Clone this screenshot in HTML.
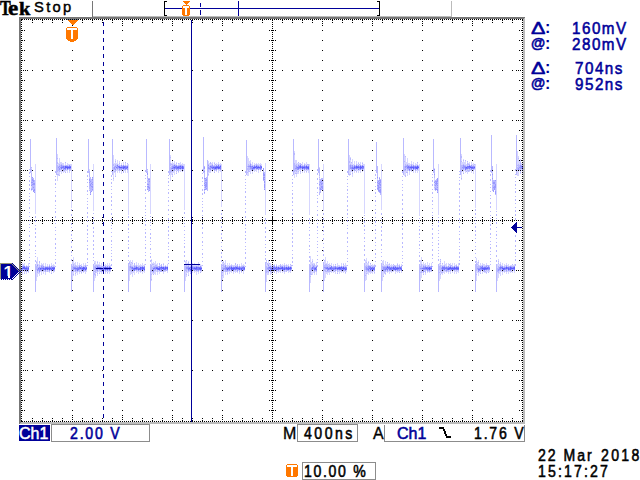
<!DOCTYPE html>
<html><head><meta charset="utf-8"><title>Tek</title>
<style>
html,body{margin:0;padding:0;background:#fff;}
body{width:640px;height:480px;overflow:hidden;position:relative;}
.t{position:absolute;white-space:pre;line-height:1;font-family:"Liberation Sans",sans-serif;transform-origin:0 0;}
svg{position:absolute;left:0;top:0;}
</style></head><body>
<svg width="640" height="480" viewBox="0 0 640 480" shape-rendering="crispEdges">
<!-- frame -->
<rect x="19" y="17" width="506" height="2" fill="#777777"/>
<rect x="19" y="17" width="2" height="407" fill="#777777"/>
<rect x="523" y="19" width="2" height="405" fill="#bbbbbb"/>
<rect x="21" y="422" width="504" height="2" fill="#bbbbbb"/>
<rect x="524" y="18" width="1" height="1" fill="#bbbbbb"/>
<rect x="20" y="423" width="1" height="1" fill="#bbbbbb"/>
<!-- trace -->
<path fill="rgb(214, 214, 255)" d="M294 151h1v1h-1zM517 151h1v1h-1zM294 152h1v1h-1zM517 152h1v1h-1zM517 153h1v1h-1zM57 154h1v1h-1zM404 154h1v1h-1zM461 154h1v1h-1zM517 154h1v1h-1zM57 155h1v1h-1zM113 155h1v1h-1zM170 155h1v1h-1zM294 155h1v1h-1zM349 155h1v1h-1zM404 155h1v1h-1zM461 155h1v1h-1zM517 155h1v1h-1zM57 156h1v1h-1zM113 156h1v1h-1zM170 156h1v1h-1zM247 156h1v1h-1zM294 156h1v1h-1zM349 156h1v1h-1zM404 156h1v1h-1zM517 156h2v1h-2zM57 157h1v1h-1zM113 157h1v1h-1zM247 157h1v1h-1zM294 157h1v1h-1zM349 157h2v1h-2zM404 157h2v1h-2zM517 157h2v1h-2zM59 158h1v1h-1zM113 158h1v1h-1zM170 158h1v1h-1zM247 158h2v1h-2zM294 158h1v1h-1zM349 158h1v1h-1zM404 158h2v1h-2zM407 158h1v1h-1zM461 158h1v1h-1zM517 158h1v1h-1zM57 159h1v1h-1zM59 159h1v1h-1zM113 159h1v1h-1zM115 159h1v1h-1zM170 159h1v1h-1zM247 159h2v1h-2zM294 159h1v1h-1zM349 159h1v1h-1zM352 159h1v1h-1zM404 159h2v1h-2zM407 159h1v1h-1zM461 159h1v1h-1zM463 159h1v1h-1zM517 159h2v1h-2zM520 159h1v1h-1zM57 160h1v1h-1zM59 160h1v1h-1zM113 160h1v1h-1zM115 160h1v1h-1zM117 160h1v1h-1zM170 160h1v1h-1zM247 160h2v1h-2zM250 160h1v1h-1zM294 160h3v1h-3zM349 160h2v1h-2zM352 160h1v1h-1zM404 160h2v1h-2zM407 160h1v1h-1zM461 160h1v1h-1zM517 160h2v1h-2zM520 160h1v1h-1zM57 161h1v1h-1zM59 161h1v1h-1zM113 161h1v1h-1zM117 161h1v1h-1zM119 161h1v1h-1zM170 161h1v1h-1zM172 161h1v1h-1zM174 161h1v1h-1zM208 161h1v1h-1zM247 161h4v1h-4zM294 161h3v1h-3zM350 161h1v1h-1zM352 161h1v1h-1zM354 161h1v1h-1zM356 161h1v1h-1zM405 161h1v1h-1zM407 161h1v1h-1zM411 161h1v1h-1zM463 161h1v1h-1zM465 161h1v1h-1zM517 161h4v1h-4zM59 162h3v1h-3zM113 162h1v1h-1zM115 162h1v1h-1zM117 162h1v1h-1zM119 162h1v1h-1zM123 162h1v1h-1zM170 162h1v1h-1zM172 162h1v1h-1zM174 162h1v1h-1zM176 162h1v1h-1zM180 162h1v1h-1zM208 162h1v1h-1zM212 162h1v1h-1zM214 162h1v1h-1zM218 162h1v1h-1zM247 162h4v1h-4zM252 162h1v1h-1zM294 162h3v1h-3zM302 162h1v1h-1zM306 162h1v1h-1zM350 162h1v1h-1zM352 162h1v1h-1zM354 162h1v1h-1zM356 162h1v1h-1zM358 162h1v1h-1zM360 162h1v1h-1zM362 162h1v1h-1zM404 162h4v1h-4zM411 162h1v1h-1zM413 162h1v1h-1zM461 162h5v1h-5zM467 162h1v1h-1zM469 162h1v1h-1zM471 162h1v1h-1zM517 162h3v1h-3zM522 162h1v1h-1zM58 163h6v1h-6zM65 163h1v1h-1zM67 163h1v1h-1zM113 163h5v1h-5zM121 163h1v1h-1zM123 163h1v1h-1zM125 163h1v1h-1zM171 163h4v1h-4zM179 163h2v1h-2zM182 163h1v1h-1zM208 163h2v1h-2zM211 163h2v1h-2zM216 163h1v1h-1zM218 163h1v1h-1zM220 163h1v1h-1zM247 163h3v1h-3zM252 163h1v1h-1zM254 163h1v1h-1zM256 163h1v1h-1zM258 163h1v1h-1zM260 163h1v1h-1zM265 163h1v1h-1zM295 163h5v1h-5zM302 163h1v1h-1zM304 163h1v1h-1zM306 163h1v1h-1zM349 163h4v1h-4zM354 163h1v1h-1zM356 163h1v1h-1zM360 163h1v1h-1zM404 163h6v1h-6zM411 163h1v1h-1zM413 163h1v1h-1zM415 163h1v1h-1zM417 163h1v1h-1zM461 163h5v1h-5zM468 163h2v1h-2zM471 163h1v1h-1zM473 163h1v1h-1zM517 163h3v1h-3zM521 163h2v1h-2zM35 164h1v1h-1zM57 164h2v1h-2zM60 164h1v1h-1zM62 164h2v1h-2zM65 164h1v1h-1zM67 164h5v1h-5zM93 164h1v1h-1zM114 164h1v1h-1zM116 164h1v1h-1zM118 164h2v1h-2zM121 164h1v1h-1zM123 164h1v1h-1zM125 164h1v1h-1zM127 164h2v1h-2zM150 164h1v1h-1zM173 164h1v1h-1zM175 164h2v1h-2zM178 164h7v1h-7zM209 164h3v1h-3zM214 164h1v1h-1zM216 164h2v1h-2zM219 164h3v1h-3zM247 164h1v1h-1zM249 164h1v1h-1zM251 164h2v1h-2zM254 164h2v1h-2zM257 164h5v1h-5zM265 164h1v1h-1zM295 164h1v1h-1zM297 164h1v1h-1zM299 164h1v1h-1zM302 164h1v1h-1zM305 164h2v1h-2zM309 164h1v1h-1zM323 164h1v1h-1zM349 164h1v1h-1zM351 164h4v1h-4zM357 164h2v1h-2zM360 164h1v1h-1zM362 164h3v1h-3zM381 164h1v1h-1zM404 164h1v1h-1zM406 164h1v1h-1zM408 164h3v1h-3zM412 164h2v1h-2zM415 164h3v1h-3zM419 164h1v1h-1zM438 164h1v1h-1zM461 164h2v1h-2zM464 164h3v1h-3zM471 164h3v1h-3zM475 164h1v1h-1zM496 164h1v1h-1zM517 164h1v1h-1zM519 164h1v1h-1zM521 164h2v1h-2zM35 165h1v1h-1zM58 165h1v1h-1zM64 165h1v1h-1zM68 165h1v1h-1zM70 165h2v1h-2zM93 165h1v1h-1zM114 165h1v1h-1zM118 165h1v1h-1zM120 165h1v1h-1zM122 165h1v1h-1zM124 165h1v1h-1zM126 165h1v1h-1zM128 165h1v1h-1zM150 165h1v1h-1zM171 165h1v1h-1zM177 165h1v1h-1zM183 165h2v1h-2zM209 165h1v1h-1zM213 165h1v1h-1zM215 165h1v1h-1zM217 165h1v1h-1zM219 165h1v1h-1zM221 165h1v1h-1zM247 165h1v1h-1zM251 165h1v1h-1zM253 165h1v1h-1zM255 165h1v1h-1zM259 165h1v1h-1zM261 165h1v1h-1zM265 165h1v1h-1zM297 165h1v1h-1zM301 165h1v1h-1zM303 165h1v1h-1zM305 165h1v1h-1zM307 165h1v1h-1zM309 165h1v1h-1zM323 165h1v1h-1zM353 165h1v1h-1zM355 165h1v1h-1zM357 165h1v1h-1zM359 165h1v1h-1zM361 165h1v1h-1zM363 165h2v1h-2zM381 165h1v1h-1zM404 165h1v1h-1zM410 165h1v1h-1zM412 165h1v1h-1zM414 165h1v1h-1zM416 165h1v1h-1zM418 165h2v1h-2zM438 165h1v1h-1zM466 165h1v1h-1zM468 165h1v1h-1zM470 165h1v1h-1zM472 165h1v1h-1zM474 165h2v1h-2zM496 165h1v1h-1zM35 166h1v1h-1zM71 166h1v1h-1zM93 166h1v1h-1zM113 166h1v1h-1zM128 166h1v1h-1zM150 166h1v1h-1zM170 166h1v1h-1zM184 166h1v1h-1zM221 166h1v1h-1zM265 166h1v1h-1zM309 166h1v1h-1zM323 166h1v1h-1zM364 166h1v1h-1zM381 166h1v1h-1zM419 166h1v1h-1zM438 166h1v1h-1zM475 166h1v1h-1zM496 166h1v1h-1zM517 166h1v1h-1zM35 167h1v1h-1zM71 167h1v1h-1zM93 167h1v1h-1zM128 167h1v1h-1zM150 167h1v1h-1zM184 167h1v1h-1zM221 167h1v1h-1zM247 167h1v1h-1zM265 167h1v1h-1zM309 167h1v1h-1zM319 167h1v1h-1zM323 167h1v1h-1zM364 167h1v1h-1zM381 167h1v1h-1zM419 167h1v1h-1zM438 167h1v1h-1zM475 167h1v1h-1zM496 167h1v1h-1zM31 168h1v1h-1zM35 168h1v1h-1zM71 168h1v1h-1zM93 168h1v1h-1zM128 168h1v1h-1zM150 168h1v1h-1zM184 168h1v1h-1zM221 168h1v1h-1zM265 168h1v1h-1zM309 168h1v1h-1zM323 168h1v1h-1zM364 168h1v1h-1zM381 168h1v1h-1zM419 168h1v1h-1zM434 168h1v1h-1zM438 168h1v1h-1zM475 168h1v1h-1zM496 168h1v1h-1zM35 169h1v1h-1zM62 169h1v1h-1zM66 169h1v1h-1zM68 169h1v1h-1zM71 169h1v1h-1zM89 169h1v1h-1zM93 169h1v1h-1zM116 169h1v1h-1zM118 169h1v1h-1zM122 169h1v1h-1zM126 169h1v1h-1zM128 169h1v1h-1zM150 169h1v1h-1zM175 169h1v1h-1zM179 169h1v1h-1zM181 169h1v1h-1zM183 169h2v1h-2zM204 169h1v1h-1zM211 169h1v1h-1zM217 169h1v1h-1zM219 169h1v1h-1zM221 169h1v1h-1zM255 169h1v1h-1zM257 169h1v1h-1zM259 169h1v1h-1zM265 169h1v1h-1zM299 169h1v1h-1zM301 169h1v1h-1zM303 169h1v1h-1zM305 169h1v1h-1zM309 169h1v1h-1zM323 169h1v1h-1zM350 169h1v1h-1zM355 169h1v1h-1zM357 169h1v1h-1zM361 169h1v1h-1zM363 169h2v1h-2zM381 169h1v1h-1zM406 169h1v1h-1zM412 169h1v1h-1zM414 169h1v1h-1zM416 169h1v1h-1zM418 169h2v1h-2zM438 169h1v1h-1zM464 169h1v1h-1zM468 169h1v1h-1zM472 169h1v1h-1zM474 169h2v1h-2zM496 169h1v1h-1zM521 169h1v1h-1zM31 170h1v1h-1zM35 170h1v1h-1zM60 170h3v1h-3zM65 170h3v1h-3zM70 170h2v1h-2zM89 170h1v1h-1zM93 170h1v1h-1zM114 170h1v1h-1zM116 170h3v1h-3zM120 170h2v1h-2zM123 170h3v1h-3zM127 170h2v1h-2zM147 170h1v1h-1zM150 170h1v1h-1zM175 170h2v1h-2zM179 170h3v1h-3zM183 170h2v1h-2zM209 170h1v1h-1zM211 170h2v1h-2zM215 170h1v1h-1zM218 170h4v1h-4zM247 170h1v1h-1zM249 170h2v1h-2zM253 170h4v1h-4zM258 170h1v1h-1zM260 170h1v1h-1zM265 170h1v1h-1zM297 170h4v1h-4zM302 170h8v1h-8zM323 170h1v1h-1zM349 170h2v1h-2zM353 170h1v1h-1zM356 170h5v1h-5zM362 170h3v1h-3zM381 170h1v1h-1zM406 170h1v1h-1zM408 170h1v1h-1zM410 170h1v1h-1zM416 170h4v1h-4zM438 170h1v1h-1zM461 170h4v1h-4zM466 170h1v1h-1zM470 170h2v1h-2zM475 170h1v1h-1zM496 170h1v1h-1zM517 170h1v1h-1zM519 170h3v1h-3zM35 171h1v1h-1zM58 171h1v1h-1zM60 171h6v1h-6zM67 171h1v1h-1zM69 171h1v1h-1zM71 171h1v1h-1zM93 171h1v1h-1zM113 171h1v1h-1zM117 171h1v1h-1zM119 171h1v1h-1zM121 171h1v1h-1zM125 171h1v1h-1zM127 171h2v1h-2zM150 171h1v1h-1zM173 171h2v1h-2zM180 171h1v1h-1zM184 171h1v1h-1zM209 171h2v1h-2zM212 171h1v1h-1zM214 171h1v1h-1zM216 171h1v1h-1zM218 171h1v1h-1zM220 171h2v1h-2zM247 171h1v1h-1zM250 171h1v1h-1zM252 171h1v1h-1zM254 171h1v1h-1zM256 171h1v1h-1zM258 171h1v1h-1zM260 171h1v1h-1zM265 171h1v1h-1zM295 171h1v1h-1zM297 171h1v1h-1zM302 171h1v1h-1zM304 171h1v1h-1zM308 171h2v1h-2zM323 171h1v1h-1zM349 171h3v1h-3zM354 171h1v1h-1zM358 171h1v1h-1zM360 171h1v1h-1zM362 171h1v1h-1zM364 171h1v1h-1zM381 171h1v1h-1zM404 171h4v1h-4zM409 171h1v1h-1zM411 171h1v1h-1zM413 171h1v1h-1zM415 171h1v1h-1zM417 171h1v1h-1zM419 171h1v1h-1zM438 171h1v1h-1zM462 171h2v1h-2zM465 171h1v1h-1zM467 171h1v1h-1zM469 171h1v1h-1zM471 171h1v1h-1zM473 171h1v1h-1zM475 171h1v1h-1zM496 171h1v1h-1zM517 171h2v1h-2zM520 171h1v1h-1zM522 171h1v1h-1zM31 172h1v1h-1zM35 172h1v1h-1zM57 172h3v1h-3zM61 172h1v1h-1zM63 172h1v1h-1zM67 172h1v1h-1zM69 172h1v1h-1zM71 172h1v1h-1zM93 172h1v1h-1zM113 172h3v1h-3zM117 172h1v1h-1zM119 172h1v1h-1zM121 172h1v1h-1zM125 172h1v1h-1zM127 172h2v1h-2zM150 172h1v1h-1zM171 172h4v1h-4zM176 172h1v1h-1zM178 172h1v1h-1zM184 172h1v1h-1zM208 172h3v1h-3zM218 172h1v1h-1zM221 172h1v1h-1zM248 172h1v1h-1zM250 172h1v1h-1zM252 172h1v1h-1zM258 172h1v1h-1zM265 172h1v1h-1zM294 172h5v1h-5zM300 172h1v1h-1zM302 172h1v1h-1zM304 172h1v1h-1zM306 172h1v1h-1zM308 172h2v1h-2zM323 172h1v1h-1zM349 172h2v1h-2zM352 172h1v1h-1zM354 172h1v1h-1zM356 172h1v1h-1zM358 172h1v1h-1zM360 172h1v1h-1zM364 172h1v1h-1zM381 172h1v1h-1zM404 172h2v1h-2zM409 172h1v1h-1zM413 172h1v1h-1zM415 172h1v1h-1zM417 172h1v1h-1zM419 172h1v1h-1zM438 172h1v1h-1zM461 172h1v1h-1zM463 172h1v1h-1zM465 172h1v1h-1zM467 172h1v1h-1zM471 172h1v1h-1zM473 172h1v1h-1zM475 172h1v1h-1zM492 172h1v1h-1zM496 172h1v1h-1zM517 172h2v1h-2zM522 172h1v1h-1zM35 173h1v1h-1zM57 173h3v1h-3zM61 173h1v1h-1zM71 173h1v1h-1zM93 173h1v1h-1zM113 173h1v1h-1zM115 173h1v1h-1zM121 173h1v1h-1zM128 173h1v1h-1zM150 173h1v1h-1zM170 173h3v1h-3zM174 173h1v1h-1zM184 173h1v1h-1zM208 173h1v1h-1zM221 173h1v1h-1zM247 173h2v1h-2zM250 173h1v1h-1zM252 173h1v1h-1zM265 173h1v1h-1zM294 173h1v1h-1zM297 173h2v1h-2zM300 173h1v1h-1zM309 173h1v1h-1zM323 173h1v1h-1zM349 173h2v1h-2zM364 173h1v1h-1zM381 173h1v1h-1zM404 173h2v1h-2zM407 173h1v1h-1zM409 173h1v1h-1zM419 173h1v1h-1zM438 173h1v1h-1zM461 173h1v1h-1zM467 173h1v1h-1zM473 173h1v1h-1zM475 173h1v1h-1zM496 173h1v1h-1zM517 173h2v1h-2zM520 173h1v1h-1zM522 173h1v1h-1zM35 174h1v1h-1zM59 174h1v1h-1zM71 174h1v1h-1zM93 174h1v1h-1zM113 174h1v1h-1zM115 174h1v1h-1zM128 174h1v1h-1zM150 174h1v1h-1zM170 174h2v1h-2zM174 174h1v1h-1zM184 174h1v1h-1zM221 174h1v1h-1zM247 174h2v1h-2zM265 174h1v1h-1zM294 174h1v1h-1zM296 174h1v1h-1zM309 174h1v1h-1zM323 174h1v1h-1zM352 174h1v1h-1zM364 174h1v1h-1zM381 174h1v1h-1zM404 174h2v1h-2zM407 174h1v1h-1zM409 174h1v1h-1zM419 174h1v1h-1zM438 174h1v1h-1zM461 174h1v1h-1zM475 174h1v1h-1zM496 174h1v1h-1zM517 174h2v1h-2zM522 174h1v1h-1zM35 175h1v1h-1zM57 175h2v1h-2zM71 175h1v1h-1zM93 175h1v1h-1zM113 175h1v1h-1zM115 175h1v1h-1zM128 175h1v1h-1zM147 175h1v1h-1zM150 175h1v1h-1zM170 175h1v1h-1zM172 175h1v1h-1zM184 175h1v1h-1zM208 175h1v1h-1zM221 175h1v1h-1zM247 175h2v1h-2zM265 175h1v1h-1zM294 175h1v1h-1zM296 175h1v1h-1zM309 175h1v1h-1zM323 175h1v1h-1zM349 175h1v1h-1zM352 175h1v1h-1zM364 175h1v1h-1zM381 175h1v1h-1zM404 175h1v1h-1zM407 175h1v1h-1zM419 175h1v1h-1zM438 175h1v1h-1zM461 175h1v1h-1zM475 175h1v1h-1zM496 175h1v1h-1zM517 175h2v1h-2zM35 176h1v1h-1zM57 176h1v1h-1zM71 176h1v1h-1zM93 176h1v1h-1zM113 176h1v1h-1zM128 176h1v1h-1zM150 176h1v1h-1zM170 176h1v1h-1zM184 176h1v1h-1zM221 176h1v1h-1zM265 176h1v1h-1zM294 176h1v1h-1zM296 176h1v1h-1zM309 176h1v1h-1zM319 176h1v1h-1zM323 176h1v1h-1zM352 176h1v1h-1zM364 176h1v1h-1zM381 176h1v1h-1zM419 176h1v1h-1zM438 176h1v1h-1zM461 176h1v1h-1zM475 176h1v1h-1zM496 176h1v1h-1zM35 177h1v1h-1zM57 177h1v1h-1zM71 177h1v1h-1zM89 177h1v1h-1zM93 177h1v1h-1zM113 177h1v1h-1zM128 177h1v1h-1zM150 177h1v1h-1zM170 177h1v1h-1zM184 177h1v1h-1zM221 177h1v1h-1zM265 177h1v1h-1zM294 177h1v1h-1zM309 177h1v1h-1zM323 177h1v1h-1zM364 177h1v1h-1zM381 177h1v1h-1zM419 177h1v1h-1zM438 177h1v1h-1zM461 177h1v1h-1zM475 177h1v1h-1zM496 177h1v1h-1zM35 178h1v1h-1zM57 178h1v1h-1zM71 178h1v1h-1zM93 178h1v1h-1zM128 178h1v1h-1zM150 178h1v1h-1zM170 178h1v1h-1zM184 178h1v1h-1zM221 178h1v1h-1zM265 178h1v1h-1zM309 178h1v1h-1zM319 178h1v1h-1zM323 178h1v1h-1zM364 178h1v1h-1zM381 178h1v1h-1zM419 178h1v1h-1zM434 178h1v1h-1zM438 178h1v1h-1zM475 178h1v1h-1zM496 178h1v1h-1zM35 179h1v1h-1zM57 179h1v1h-1zM71 179h1v1h-1zM93 179h1v1h-1zM113 179h1v1h-1zM128 179h1v1h-1zM147 179h1v1h-1zM150 179h1v1h-1zM170 179h1v1h-1zM184 179h1v1h-1zM221 179h1v1h-1zM265 179h1v1h-1zM309 179h1v1h-1zM323 179h1v1h-1zM364 179h1v1h-1zM377 179h1v1h-1zM381 179h1v1h-1zM419 179h1v1h-1zM434 179h1v1h-1zM438 179h1v1h-1zM461 179h1v1h-1zM475 179h1v1h-1zM496 179h1v1h-1zM35 180h1v1h-1zM57 180h1v1h-1zM71 180h1v1h-1zM93 180h1v1h-1zM113 180h1v1h-1zM128 180h1v1h-1zM150 180h1v1h-1zM170 180h1v1h-1zM184 180h1v1h-1zM221 180h1v1h-1zM265 180h1v1h-1zM309 180h1v1h-1zM319 180h1v1h-1zM323 180h1v1h-1zM364 180h1v1h-1zM381 180h1v1h-1zM419 180h1v1h-1zM434 180h1v1h-1zM438 180h1v1h-1zM475 180h1v1h-1zM496 180h1v1h-1zM35 181h1v1h-1zM71 181h1v1h-1zM93 181h1v1h-1zM128 181h1v1h-1zM150 181h1v1h-1zM184 181h1v1h-1zM221 181h1v1h-1zM265 181h1v1h-1zM309 181h1v1h-1zM323 181h1v1h-1zM364 181h1v1h-1zM381 181h1v1h-1zM419 181h1v1h-1zM438 181h1v1h-1zM475 181h1v1h-1zM496 181h1v1h-1zM35 182h1v1h-1zM71 182h1v1h-1zM93 182h1v1h-1zM128 182h1v1h-1zM147 182h1v1h-1zM150 182h1v1h-1zM184 182h1v1h-1zM221 182h1v1h-1zM265 182h1v1h-1zM309 182h1v1h-1zM323 182h1v1h-1zM364 182h1v1h-1zM381 182h1v1h-1zM419 182h1v1h-1zM438 182h1v1h-1zM475 182h1v1h-1zM496 182h1v1h-1zM35 183h1v1h-1zM71 183h1v1h-1zM93 183h1v1h-1zM128 183h1v1h-1zM150 183h1v1h-1zM184 183h1v1h-1zM221 183h1v1h-1zM265 183h1v1h-1zM309 183h1v1h-1zM323 183h1v1h-1zM364 183h1v1h-1zM381 183h1v1h-1zM419 183h1v1h-1zM434 183h1v1h-1zM438 183h1v1h-1zM475 183h1v1h-1zM496 183h1v1h-1zM35 184h1v1h-1zM71 184h1v1h-1zM93 184h1v1h-1zM128 184h1v1h-1zM150 184h1v1h-1zM184 184h1v1h-1zM221 184h1v1h-1zM265 184h1v1h-1zM309 184h1v1h-1zM323 184h1v1h-1zM364 184h1v1h-1zM381 184h1v1h-1zM419 184h1v1h-1zM438 184h1v1h-1zM475 184h1v1h-1zM492 184h1v1h-1zM496 184h1v1h-1zM35 185h1v1h-1zM71 185h1v1h-1zM93 185h1v1h-1zM128 185h1v1h-1zM147 185h1v1h-1zM150 185h1v1h-1zM184 185h1v1h-1zM221 185h1v1h-1zM265 185h1v1h-1zM309 185h1v1h-1zM323 185h1v1h-1zM364 185h1v1h-1zM381 185h1v1h-1zM419 185h1v1h-1zM438 185h1v1h-1zM475 185h1v1h-1zM496 185h1v1h-1zM31 186h1v1h-1zM35 186h1v1h-1zM71 186h1v1h-1zM93 186h1v1h-1zM128 186h1v1h-1zM150 186h1v1h-1zM184 186h1v1h-1zM204 186h1v1h-1zM221 186h1v1h-1zM265 186h1v1h-1zM309 186h1v1h-1zM319 186h1v1h-1zM323 186h1v1h-1zM364 186h1v1h-1zM381 186h1v1h-1zM419 186h1v1h-1zM434 186h1v1h-1zM438 186h1v1h-1zM475 186h1v1h-1zM496 186h1v1h-1zM31 187h1v1h-1zM35 187h1v1h-1zM71 187h1v1h-1zM93 187h1v1h-1zM128 187h1v1h-1zM150 187h1v1h-1zM184 187h1v1h-1zM221 187h1v1h-1zM265 187h1v1h-1zM309 187h1v1h-1zM323 187h1v1h-1zM364 187h1v1h-1zM381 187h1v1h-1zM419 187h1v1h-1zM438 187h1v1h-1zM475 187h1v1h-1zM496 187h1v1h-1zM35 188h1v1h-1zM71 188h1v1h-1zM93 188h1v1h-1zM128 188h1v1h-1zM150 188h1v1h-1zM184 188h1v1h-1zM204 188h1v1h-1zM221 188h1v1h-1zM265 188h1v1h-1zM309 188h1v1h-1zM323 188h1v1h-1zM364 188h1v1h-1zM381 188h1v1h-1zM419 188h1v1h-1zM434 188h1v1h-1zM438 188h1v1h-1zM475 188h1v1h-1zM496 188h1v1h-1zM35 189h1v1h-1zM71 189h1v1h-1zM89 189h1v1h-1zM93 189h1v1h-1zM128 189h1v1h-1zM150 189h1v1h-1zM184 189h1v1h-1zM221 189h1v1h-1zM265 189h1v1h-1zM309 189h1v1h-1zM323 189h1v1h-1zM364 189h1v1h-1zM381 189h1v1h-1zM419 189h1v1h-1zM434 189h1v1h-1zM438 189h1v1h-1zM475 189h1v1h-1zM496 189h1v1h-1zM31 190h1v1h-1zM35 190h1v1h-1zM71 190h1v1h-1zM93 190h1v1h-1zM128 190h1v1h-1zM150 190h1v1h-1zM184 190h1v1h-1zM221 190h1v1h-1zM265 190h1v1h-1zM309 190h1v1h-1zM319 190h1v1h-1zM323 190h1v1h-1zM364 190h1v1h-1zM381 190h1v1h-1zM419 190h1v1h-1zM438 190h1v1h-1zM475 190h1v1h-1zM496 190h1v1h-1zM35 191h1v1h-1zM71 191h1v1h-1zM93 191h1v1h-1zM128 191h1v1h-1zM150 191h1v1h-1zM184 191h1v1h-1zM204 191h1v1h-1zM221 191h1v1h-1zM265 191h1v1h-1zM309 191h1v1h-1zM319 191h1v1h-1zM323 191h1v1h-1zM364 191h1v1h-1zM381 191h1v1h-1zM419 191h1v1h-1zM438 191h1v1h-1zM475 191h1v1h-1zM496 191h1v1h-1zM35 192h1v1h-1zM71 192h1v1h-1zM93 192h1v1h-1zM128 192h1v1h-1zM150 192h1v1h-1zM184 192h1v1h-1zM221 192h1v1h-1zM265 192h1v1h-1zM309 192h1v1h-1zM323 192h1v1h-1zM364 192h1v1h-1zM381 192h1v1h-1zM419 192h1v1h-1zM438 192h1v1h-1zM475 192h1v1h-1zM496 192h1v1h-1zM35 193h1v1h-1zM71 193h1v1h-1zM93 193h1v1h-1zM128 193h1v1h-1zM150 193h1v1h-1zM184 193h1v1h-1zM221 193h1v1h-1zM265 193h1v1h-1zM309 193h1v1h-1zM323 193h1v1h-1zM364 193h1v1h-1zM381 193h1v1h-1zM419 193h1v1h-1zM438 193h1v1h-1zM475 193h1v1h-1zM496 193h1v1h-1zM35 194h1v1h-1zM71 194h1v1h-1zM93 194h1v1h-1zM128 194h1v1h-1zM150 194h1v1h-1zM184 194h1v1h-1zM221 194h1v1h-1zM265 194h1v1h-1zM309 194h1v1h-1zM323 194h1v1h-1zM364 194h1v1h-1zM381 194h1v1h-1zM419 194h1v1h-1zM438 194h1v1h-1zM475 194h1v1h-1zM496 194h1v1h-1zM35 195h1v1h-1zM71 195h1v1h-1zM93 195h1v1h-1zM128 195h1v1h-1zM150 195h1v1h-1zM184 195h1v1h-1zM221 195h1v1h-1zM265 195h1v1h-1zM309 195h1v1h-1zM323 195h1v1h-1zM364 195h1v1h-1zM381 195h1v1h-1zM419 195h1v1h-1zM438 195h1v1h-1zM475 195h1v1h-1zM496 195h1v1h-1zM35 196h1v1h-1zM71 196h1v1h-1zM93 196h1v1h-1zM128 196h1v1h-1zM150 196h1v1h-1zM184 196h1v1h-1zM221 196h1v1h-1zM265 196h1v1h-1zM309 196h1v1h-1zM323 196h1v1h-1zM364 196h1v1h-1zM381 196h1v1h-1zM419 196h1v1h-1zM438 196h1v1h-1zM475 196h1v1h-1zM496 196h1v1h-1zM35 197h1v1h-1zM71 197h1v1h-1zM93 197h1v1h-1zM128 197h1v1h-1zM150 197h1v1h-1zM184 197h1v1h-1zM221 197h1v1h-1zM265 197h1v1h-1zM309 197h1v1h-1zM323 197h1v1h-1zM364 197h1v1h-1zM381 197h1v1h-1zM419 197h1v1h-1zM438 197h1v1h-1zM475 197h1v1h-1zM496 197h1v1h-1zM35 198h1v1h-1zM71 198h1v1h-1zM93 198h1v1h-1zM128 198h1v1h-1zM150 198h1v1h-1zM184 198h1v1h-1zM221 198h1v1h-1zM265 198h1v1h-1zM309 198h1v1h-1zM323 198h1v1h-1zM364 198h1v1h-1zM381 198h1v1h-1zM419 198h1v1h-1zM438 198h1v1h-1zM475 198h1v1h-1zM496 198h1v1h-1zM35 199h1v1h-1zM71 199h1v1h-1zM93 199h1v1h-1zM128 199h1v1h-1zM150 199h1v1h-1zM184 199h1v1h-1zM221 199h1v1h-1zM265 199h1v1h-1zM309 199h1v1h-1zM323 199h1v1h-1zM364 199h1v1h-1zM381 199h1v1h-1zM419 199h1v1h-1zM438 199h1v1h-1zM475 199h1v1h-1zM496 199h1v1h-1zM35 200h1v1h-1zM71 200h1v1h-1zM93 200h1v1h-1zM128 200h1v1h-1zM150 200h1v1h-1zM184 200h1v1h-1zM221 200h1v1h-1zM265 200h1v1h-1zM309 200h1v1h-1zM323 200h1v1h-1zM364 200h1v1h-1zM381 200h1v1h-1zM419 200h1v1h-1zM438 200h1v1h-1zM475 200h1v1h-1zM496 200h1v1h-1zM35 201h1v1h-1zM71 201h1v1h-1zM93 201h1v1h-1zM128 201h1v1h-1zM150 201h1v1h-1zM184 201h1v1h-1zM221 201h1v1h-1zM265 201h1v1h-1zM309 201h1v1h-1zM323 201h1v1h-1zM364 201h1v1h-1zM381 201h1v1h-1zM419 201h1v1h-1zM438 201h1v1h-1zM475 201h1v1h-1zM496 201h1v1h-1zM35 202h1v1h-1zM71 202h1v1h-1zM93 202h1v1h-1zM128 202h1v1h-1zM150 202h1v1h-1zM184 202h1v1h-1zM221 202h1v1h-1zM265 202h1v1h-1zM309 202h1v1h-1zM323 202h1v1h-1zM364 202h1v1h-1zM381 202h1v1h-1zM419 202h1v1h-1zM438 202h1v1h-1zM475 202h1v1h-1zM496 202h1v1h-1zM35 203h1v1h-1zM71 203h1v1h-1zM93 203h1v1h-1zM128 203h1v1h-1zM150 203h1v1h-1zM184 203h1v1h-1zM221 203h1v1h-1zM265 203h1v1h-1zM309 203h1v1h-1zM323 203h1v1h-1zM364 203h1v1h-1zM381 203h1v1h-1zM419 203h1v1h-1zM438 203h1v1h-1zM475 203h1v1h-1zM496 203h1v1h-1zM35 204h1v1h-1zM71 204h1v1h-1zM93 204h1v1h-1zM128 204h1v1h-1zM150 204h1v1h-1zM184 204h1v1h-1zM221 204h1v1h-1zM265 204h1v1h-1zM309 204h1v1h-1zM323 204h1v1h-1zM364 204h1v1h-1zM381 204h1v1h-1zM419 204h1v1h-1zM438 204h1v1h-1zM475 204h1v1h-1zM496 204h1v1h-1zM35 205h1v1h-1zM71 205h1v1h-1zM93 205h1v1h-1zM128 205h1v1h-1zM150 205h1v1h-1zM184 205h1v1h-1zM221 205h1v1h-1zM265 205h1v1h-1zM309 205h1v1h-1zM323 205h1v1h-1zM364 205h1v1h-1zM381 205h1v1h-1zM419 205h1v1h-1zM438 205h1v1h-1zM475 205h1v1h-1zM496 205h1v1h-1zM35 206h1v1h-1zM71 206h1v1h-1zM93 206h1v1h-1zM128 206h1v1h-1zM150 206h1v1h-1zM184 206h1v1h-1zM221 206h1v1h-1zM265 206h1v1h-1zM309 206h1v1h-1zM323 206h1v1h-1zM364 206h1v1h-1zM381 206h1v1h-1zM419 206h1v1h-1zM438 206h1v1h-1zM475 206h1v1h-1zM496 206h1v1h-1zM35 207h1v1h-1zM71 207h1v1h-1zM93 207h1v1h-1zM128 207h1v1h-1zM150 207h1v1h-1zM184 207h1v1h-1zM265 207h1v1h-1zM309 207h1v1h-1zM323 207h1v1h-1zM364 207h1v1h-1zM381 207h1v1h-1zM419 207h1v1h-1zM438 207h1v1h-1zM475 207h1v1h-1zM496 207h1v1h-1zM35 208h1v1h-1zM93 208h1v1h-1zM128 208h1v1h-1zM150 208h1v1h-1zM184 208h1v1h-1zM265 208h1v1h-1zM309 208h1v1h-1zM323 208h1v1h-1zM364 208h1v1h-1zM381 208h1v1h-1zM419 208h1v1h-1zM438 208h1v1h-1zM496 208h1v1h-1zM35 209h1v1h-1zM93 209h1v1h-1zM128 209h1v1h-1zM150 209h1v1h-1zM184 209h1v1h-1zM265 209h1v1h-1zM309 209h1v1h-1zM323 209h1v1h-1zM364 209h1v1h-1zM381 209h1v1h-1zM419 209h1v1h-1zM438 209h1v1h-1zM496 209h1v1h-1zM35 210h1v1h-1zM93 210h1v1h-1zM128 210h1v1h-1zM150 210h1v1h-1zM265 210h1v1h-1zM309 210h1v1h-1zM323 210h1v1h-1zM364 210h1v1h-1zM419 210h1v1h-1zM438 210h1v1h-1zM35 211h1v1h-1zM128 211h1v1h-1zM150 211h1v1h-1zM265 211h1v1h-1zM309 211h1v1h-1zM364 211h1v1h-1zM419 211h1v1h-1zM438 211h1v1h-1zM35 212h1v1h-1zM128 212h1v1h-1zM150 212h1v1h-1zM265 212h1v1h-1zM309 212h1v1h-1zM364 212h1v1h-1zM419 212h1v1h-1zM438 212h1v1h-1zM35 213h1v1h-1zM128 213h1v1h-1zM150 213h1v1h-1zM265 213h1v1h-1zM309 213h1v1h-1zM364 213h1v1h-1zM419 213h1v1h-1zM438 213h1v1h-1zM128 214h1v1h-1zM265 214h1v1h-1zM309 214h1v1h-1zM419 214h1v1h-1zM438 214h1v1h-1zM419 215h1v1h-1zM310 256h1v1h-1zM37 257h1v1h-1zM73 257h1v1h-1zM310 257h1v1h-1zM325 257h1v1h-1zM421 257h1v1h-1zM37 258h1v1h-1zM73 258h1v1h-1zM310 258h1v1h-1zM325 258h1v1h-1zM366 258h1v1h-1zM421 258h1v1h-1zM476 258h1v1h-1zM37 259h1v1h-1zM73 259h1v1h-1zM151 259h1v1h-1zM310 259h1v1h-1zM312 259h1v1h-1zM325 259h1v1h-1zM366 259h1v1h-1zM421 259h1v1h-1zM476 259h1v1h-1zM498 259h1v1h-1zM37 260h1v1h-1zM72 260h2v1h-2zM130 260h1v1h-1zM132 260h1v1h-1zM225 260h1v1h-1zM310 260h1v1h-1zM312 260h1v1h-1zM325 260h1v1h-1zM365 260h2v1h-2zM383 260h1v1h-1zM420 260h2v1h-2zM440 260h1v1h-1zM476 260h1v1h-1zM478 260h1v1h-1zM498 260h1v1h-1zM36 261h2v1h-2zM72 261h2v1h-2zM94 261h2v1h-2zM97 261h1v1h-1zM129 261h2v1h-2zM132 261h1v1h-1zM151 261h1v1h-1zM155 261h1v1h-1zM185 261h2v1h-2zM188 261h1v1h-1zM223 261h1v1h-1zM225 261h1v1h-1zM266 261h1v1h-1zM268 261h1v1h-1zM310 261h1v1h-1zM324 261h2v1h-2zM327 261h1v1h-1zM365 261h2v1h-2zM368 261h1v1h-1zM382 261h2v1h-2zM385 261h1v1h-1zM420 261h2v1h-2zM444 261h1v1h-1zM478 261h1v1h-1zM37 262h1v1h-1zM72 262h2v1h-2zM75 262h1v1h-1zM77 262h1v1h-1zM94 262h2v1h-2zM99 262h1v1h-1zM130 262h1v1h-1zM132 262h1v1h-1zM136 262h1v1h-1zM151 262h1v1h-1zM153 262h1v1h-1zM155 262h1v1h-1zM185 262h2v1h-2zM198 262h1v1h-1zM222 262h1v1h-1zM225 262h1v1h-1zM268 262h1v1h-1zM310 262h3v1h-3zM316 262h1v1h-1zM324 262h2v1h-2zM327 262h1v1h-1zM365 262h1v1h-1zM382 262h2v1h-2zM385 262h1v1h-1zM420 262h2v1h-2zM423 262h1v1h-1zM427 262h1v1h-1zM440 262h1v1h-1zM444 262h1v1h-1zM476 262h2v1h-2zM498 262h1v1h-1zM500 262h1v1h-1zM22 263h1v1h-1zM24 263h1v1h-1zM28 263h1v1h-1zM36 263h2v1h-2zM39 263h1v1h-1zM41 263h1v1h-1zM43 263h1v1h-1zM45 263h1v1h-1zM51 263h1v1h-1zM72 263h4v1h-4zM77 263h1v1h-1zM79 263h1v1h-1zM83 263h1v1h-1zM85 263h1v1h-1zM95 263h1v1h-1zM97 263h1v1h-1zM99 263h1v1h-1zM101 263h1v1h-1zM107 263h1v1h-1zM109 263h1v1h-1zM130 263h2v1h-2zM136 263h1v1h-1zM138 263h1v1h-1zM142 263h1v1h-1zM151 263h5v1h-5zM157 263h1v1h-1zM163 263h1v1h-1zM185 263h3v1h-3zM192 263h1v1h-1zM194 263h1v1h-1zM198 263h1v1h-1zM222 263h4v1h-4zM227 263h1v1h-1zM229 263h1v1h-1zM241 263h1v1h-1zM266 263h1v1h-1zM268 263h1v1h-1zM270 263h1v1h-1zM284 263h1v1h-1zM310 263h5v1h-5zM316 263h1v1h-1zM324 263h4v1h-4zM329 263h1v1h-1zM331 263h1v1h-1zM337 263h1v1h-1zM341 263h1v1h-1zM343 263h1v1h-1zM345 263h1v1h-1zM365 263h4v1h-4zM382 263h2v1h-2zM385 263h1v1h-1zM387 263h1v1h-1zM389 263h1v1h-1zM397 263h1v1h-1zM420 263h2v1h-2zM423 263h1v1h-1zM425 263h1v1h-1zM427 263h1v1h-1zM429 263h1v1h-1zM431 263h1v1h-1zM439 263h1v1h-1zM444 263h1v1h-1zM446 263h1v1h-1zM448 263h1v1h-1zM450 263h1v1h-1zM452 263h1v1h-1zM454 263h1v1h-1zM458 263h1v1h-1zM477 263h2v1h-2zM480 263h1v1h-1zM482 263h1v1h-1zM486 263h1v1h-1zM500 263h1v1h-1zM502 263h1v1h-1zM506 263h1v1h-1zM22 264h3v1h-3zM28 264h1v1h-1zM36 264h1v1h-1zM38 264h2v1h-2zM41 264h3v1h-3zM45 264h1v1h-1zM47 264h1v1h-1zM49 264h1v1h-1zM51 264h1v1h-1zM53 264h1v1h-1zM72 264h1v1h-1zM74 264h2v1h-2zM77 264h1v1h-1zM79 264h1v1h-1zM81 264h1v1h-1zM83 264h1v1h-1zM85 264h1v1h-1zM94 264h6v1h-6zM101 264h1v1h-1zM103 264h1v1h-1zM105 264h1v1h-1zM107 264h1v1h-1zM109 264h1v1h-1zM129 264h1v1h-1zM131 264h2v1h-2zM136 264h1v1h-1zM138 264h1v1h-1zM140 264h1v1h-1zM142 264h1v1h-1zM144 264h1v1h-1zM151 264h1v1h-1zM154 264h4v1h-4zM167 264h1v1h-1zM186 264h3v1h-3zM190 264h1v1h-1zM192 264h1v1h-1zM194 264h1v1h-1zM196 264h1v1h-1zM198 264h1v1h-1zM200 264h1v1h-1zM222 264h1v1h-1zM224 264h2v1h-2zM227 264h1v1h-1zM229 264h1v1h-1zM231 264h1v1h-1zM239 264h1v1h-1zM241 264h1v1h-1zM243 264h1v1h-1zM266 264h1v1h-1zM269 264h2v1h-2zM272 264h1v1h-1zM274 264h1v1h-1zM276 264h1v1h-1zM282 264h1v1h-1zM284 264h1v1h-1zM286 264h1v1h-1zM288 264h1v1h-1zM310 264h2v1h-2zM313 264h1v1h-1zM316 264h1v1h-1zM324 264h1v1h-1zM327 264h1v1h-1zM329 264h1v1h-1zM331 264h1v1h-1zM333 264h1v1h-1zM337 264h1v1h-1zM341 264h1v1h-1zM345 264h1v1h-1zM365 264h4v1h-4zM370 264h1v1h-1zM372 264h1v1h-1zM374 264h1v1h-1zM382 264h1v1h-1zM385 264h4v1h-4zM391 264h1v1h-1zM399 264h1v1h-1zM401 264h1v1h-1zM420 264h1v1h-1zM422 264h4v1h-4zM427 264h1v1h-1zM429 264h1v1h-1zM431 264h1v1h-1zM439 264h2v1h-2zM442 264h1v1h-1zM444 264h3v1h-3zM448 264h1v1h-1zM450 264h1v1h-1zM452 264h1v1h-1zM454 264h1v1h-1zM456 264h1v1h-1zM458 264h1v1h-1zM478 264h1v1h-1zM480 264h1v1h-1zM482 264h3v1h-3zM486 264h1v1h-1zM497 264h3v1h-3zM502 264h1v1h-1zM504 264h1v1h-1zM506 264h1v1h-1zM508 264h1v1h-1zM514 264h1v1h-1zM22 265h1v1h-1zM24 265h1v1h-1zM26 265h1v1h-1zM28 265h1v1h-1zM36 265h1v1h-1zM38 265h1v1h-1zM40 265h1v1h-1zM43 265h1v1h-1zM45 265h1v1h-1zM47 265h1v1h-1zM51 265h4v1h-4zM72 265h1v1h-1zM74 265h1v1h-1zM76 265h3v1h-3zM81 265h1v1h-1zM83 265h2v1h-2zM86 265h1v1h-1zM94 265h1v1h-1zM100 265h2v1h-2zM104 265h7v1h-7zM129 265h1v1h-1zM131 265h3v1h-3zM135 265h1v1h-1zM137 265h8v1h-8zM152 265h3v1h-3zM157 265h1v1h-1zM159 265h2v1h-2zM163 265h1v1h-1zM165 265h1v1h-1zM167 265h1v1h-1zM185 265h1v1h-1zM187 265h1v1h-1zM189 265h3v1h-3zM193 265h5v1h-5zM199 265h3v1h-3zM224 265h1v1h-1zM226 265h5v1h-5zM232 265h5v1h-5zM239 265h1v1h-1zM241 265h4v1h-4zM266 265h2v1h-2zM269 265h4v1h-4zM278 265h2v1h-2zM281 265h3v1h-3zM285 265h1v1h-1zM287 265h2v1h-2zM290 265h1v1h-1zM311 265h1v1h-1zM315 265h2v1h-2zM328 265h1v1h-1zM331 265h1v1h-1zM333 265h1v1h-1zM335 265h1v1h-1zM337 265h3v1h-3zM341 265h1v1h-1zM343 265h4v1h-4zM365 265h1v1h-1zM367 265h1v1h-1zM369 265h2v1h-2zM372 265h2v1h-2zM382 265h5v1h-5zM388 265h6v1h-6zM395 265h2v1h-2zM398 265h1v1h-1zM401 265h1v1h-1zM420 265h1v1h-1zM422 265h1v1h-1zM424 265h1v1h-1zM426 265h2v1h-2zM429 265h1v1h-1zM431 265h1v1h-1zM439 265h1v1h-1zM441 265h3v1h-3zM445 265h2v1h-2zM448 265h2v1h-2zM452 265h1v1h-1zM454 265h2v1h-2zM458 265h1v1h-1zM477 265h1v1h-1zM479 265h3v1h-3zM483 265h3v1h-3zM489 265h1v1h-1zM497 265h3v1h-3zM501 265h2v1h-2zM504 265h2v1h-2zM507 265h2v1h-2zM510 265h5v1h-5zM21 266h1v1h-1zM25 266h1v1h-1zM38 266h1v1h-1zM40 266h1v1h-1zM44 266h1v1h-1zM46 266h1v1h-1zM48 266h1v1h-1zM50 266h1v1h-1zM52 266h1v1h-1zM54 266h1v1h-1zM78 266h1v1h-1zM80 266h1v1h-1zM82 266h1v1h-1zM84 266h1v1h-1zM86 266h1v1h-1zM100 266h1v1h-1zM104 266h1v1h-1zM106 266h1v1h-1zM108 266h1v1h-1zM110 266h1v1h-1zM133 266h1v1h-1zM137 266h1v1h-1zM141 266h1v1h-1zM143 266h1v1h-1zM152 266h1v1h-1zM160 266h1v1h-1zM162 266h1v1h-1zM164 266h1v1h-1zM166 266h1v1h-1zM189 266h1v1h-1zM191 266h1v1h-1zM199 266h1v1h-1zM201 266h1v1h-1zM222 266h1v1h-1zM226 266h1v1h-1zM228 266h1v1h-1zM232 266h1v1h-1zM234 266h1v1h-1zM238 266h1v1h-1zM240 266h1v1h-1zM244 266h1v1h-1zM267 266h1v1h-1zM271 266h1v1h-1zM275 266h1v1h-1zM277 266h1v1h-1zM279 266h1v1h-1zM283 266h1v1h-1zM285 266h1v1h-1zM287 266h1v1h-1zM289 266h1v1h-1zM291 266h1v1h-1zM311 266h1v1h-1zM315 266h1v1h-1zM330 266h1v1h-1zM332 266h1v1h-1zM336 266h1v1h-1zM338 266h1v1h-1zM340 266h1v1h-1zM342 266h1v1h-1zM344 266h1v1h-1zM346 266h1v1h-1zM371 266h1v1h-1zM390 266h1v1h-1zM392 266h1v1h-1zM396 266h1v1h-1zM398 266h1v1h-1zM400 266h1v1h-1zM422 266h1v1h-1zM426 266h1v1h-1zM441 266h1v1h-1zM445 266h1v1h-1zM447 266h1v1h-1zM449 266h1v1h-1zM451 266h1v1h-1zM453 266h1v1h-1zM455 266h1v1h-1zM483 266h1v1h-1zM487 266h1v1h-1zM489 266h1v1h-1zM497 266h1v1h-1zM499 266h1v1h-1zM503 266h1v1h-1zM505 266h1v1h-1zM507 266h1v1h-1zM21 267h1v1h-1zM497 267h1v1h-1zM23 270h1v1h-1zM25 270h1v1h-1zM36 270h1v1h-1zM42 270h1v1h-1zM44 270h1v1h-1zM46 270h1v1h-1zM48 270h1v1h-1zM50 270h1v1h-1zM52 270h1v1h-1zM74 270h1v1h-1zM80 270h1v1h-1zM86 270h1v1h-1zM94 270h1v1h-1zM98 270h1v1h-1zM100 270h1v1h-1zM104 270h1v1h-1zM106 270h1v1h-1zM108 270h1v1h-1zM135 270h1v1h-1zM137 270h1v1h-1zM139 270h1v1h-1zM141 270h1v1h-1zM143 270h1v1h-1zM156 270h1v1h-1zM158 270h1v1h-1zM187 270h1v1h-1zM191 270h1v1h-1zM193 270h1v1h-1zM195 270h1v1h-1zM199 270h1v1h-1zM224 270h1v1h-1zM230 270h1v1h-1zM232 270h1v1h-1zM234 270h1v1h-1zM236 270h1v1h-1zM238 270h1v1h-1zM240 270h1v1h-1zM242 270h1v1h-1zM244 270h1v1h-1zM267 270h1v1h-1zM275 270h1v1h-1zM277 270h1v1h-1zM279 270h1v1h-1zM281 270h1v1h-1zM285 270h1v1h-1zM289 270h1v1h-1zM291 270h1v1h-1zM313 270h1v1h-1zM326 270h1v1h-1zM330 270h1v1h-1zM332 270h1v1h-1zM334 270h1v1h-1zM336 270h1v1h-1zM338 270h1v1h-1zM340 270h1v1h-1zM342 270h1v1h-1zM346 270h1v1h-1zM365 270h1v1h-1zM373 270h1v1h-1zM382 270h1v1h-1zM386 270h1v1h-1zM388 270h1v1h-1zM392 270h1v1h-1zM394 270h1v1h-1zM396 270h1v1h-1zM400 270h1v1h-1zM420 270h1v1h-1zM424 270h1v1h-1zM426 270h1v1h-1zM430 270h1v1h-1zM439 270h1v1h-1zM449 270h1v1h-1zM451 270h1v1h-1zM453 270h1v1h-1zM455 270h1v1h-1zM457 270h1v1h-1zM477 270h1v1h-1zM481 270h1v1h-1zM483 270h1v1h-1zM485 270h1v1h-1zM487 270h1v1h-1zM489 270h1v1h-1zM501 270h1v1h-1zM505 270h1v1h-1zM507 270h1v1h-1zM511 270h1v1h-1zM513 270h1v1h-1zM21 271h2v1h-2zM24 271h2v1h-2zM27 271h1v1h-1zM36 271h1v1h-1zM38 271h1v1h-1zM40 271h5v1h-5zM46 271h1v1h-1zM48 271h1v1h-1zM51 271h1v1h-1zM53 271h2v1h-2zM74 271h1v1h-1zM76 271h1v1h-1zM78 271h1v1h-1zM81 271h2v1h-2zM84 271h3v1h-3zM96 271h1v1h-1zM98 271h2v1h-2zM103 271h1v1h-1zM106 271h5v1h-5zM129 271h2v1h-2zM133 271h2v1h-2zM136 271h4v1h-4zM141 271h4v1h-4zM154 271h3v1h-3zM158 271h2v1h-2zM162 271h1v1h-1zM164 271h2v1h-2zM167 271h1v1h-1zM185 271h1v1h-1zM187 271h1v1h-1zM189 271h1v1h-1zM192 271h1v1h-1zM194 271h4v1h-4zM200 271h2v1h-2zM222 271h1v1h-1zM224 271h1v1h-1zM228 271h4v1h-4zM234 271h3v1h-3zM243 271h1v1h-1zM269 271h1v1h-1zM271 271h4v1h-4zM277 271h4v1h-4zM282 271h2v1h-2zM285 271h1v1h-1zM288 271h3v1h-3zM311 271h3v1h-3zM315 271h1v1h-1zM324 271h1v1h-1zM331 271h3v1h-3zM335 271h1v1h-1zM338 271h9v1h-9zM365 271h1v1h-1zM367 271h1v1h-1zM371 271h1v1h-1zM373 271h2v1h-2zM382 271h1v1h-1zM386 271h1v1h-1zM388 271h6v1h-6zM395 271h5v1h-5zM401 271h1v1h-1zM420 271h1v1h-1zM422 271h1v1h-1zM428 271h1v1h-1zM430 271h2v1h-2zM439 271h1v1h-1zM441 271h1v1h-1zM443 271h3v1h-3zM447 271h1v1h-1zM449 271h2v1h-2zM454 271h5v1h-5zM476 271h2v1h-2zM479 271h1v1h-1zM482 271h1v1h-1zM486 271h4v1h-4zM499 271h3v1h-3zM503 271h1v1h-1zM505 271h1v1h-1zM507 271h4v1h-4zM512 271h1v1h-1zM514 271h1v1h-1zM22 272h1v1h-1zM24 272h1v1h-1zM26 272h1v1h-1zM28 272h1v1h-1zM36 272h1v1h-1zM38 272h1v1h-1zM41 272h1v1h-1zM43 272h1v1h-1zM45 272h1v1h-1zM49 272h1v1h-1zM51 272h1v1h-1zM53 272h1v1h-1zM72 272h2v1h-2zM75 272h3v1h-3zM79 272h1v1h-1zM83 272h1v1h-1zM85 272h1v1h-1zM94 272h1v1h-1zM96 272h2v1h-2zM99 272h1v1h-1zM101 272h1v1h-1zM103 272h1v1h-1zM105 272h1v1h-1zM109 272h1v1h-1zM129 272h6v1h-6zM136 272h1v1h-1zM138 272h1v1h-1zM140 272h1v1h-1zM142 272h1v1h-1zM144 272h1v1h-1zM151 272h2v1h-2zM154 272h2v1h-2zM157 272h1v1h-1zM159 272h1v1h-1zM163 272h1v1h-1zM167 272h1v1h-1zM185 272h4v1h-4zM190 272h1v1h-1zM192 272h1v1h-1zM194 272h1v1h-1zM196 272h1v1h-1zM198 272h1v1h-1zM223 272h1v1h-1zM225 272h1v1h-1zM227 272h1v1h-1zM229 272h1v1h-1zM231 272h1v1h-1zM233 272h1v1h-1zM235 272h1v1h-1zM237 272h1v1h-1zM239 272h1v1h-1zM241 272h1v1h-1zM243 272h1v1h-1zM267 272h1v1h-1zM270 272h1v1h-1zM272 272h1v1h-1zM276 272h1v1h-1zM278 272h1v1h-1zM280 272h1v1h-1zM282 272h1v1h-1zM284 272h1v1h-1zM288 272h1v1h-1zM290 272h1v1h-1zM311 272h3v1h-3zM316 272h1v1h-1zM324 272h6v1h-6zM331 272h1v1h-1zM333 272h1v1h-1zM335 272h1v1h-1zM337 272h1v1h-1zM339 272h1v1h-1zM341 272h1v1h-1zM343 272h1v1h-1zM365 272h8v1h-8zM382 272h2v1h-2zM385 272h1v1h-1zM387 272h1v1h-1zM389 272h1v1h-1zM391 272h1v1h-1zM395 272h1v1h-1zM397 272h1v1h-1zM401 272h1v1h-1zM422 272h1v1h-1zM427 272h1v1h-1zM429 272h1v1h-1zM440 272h1v1h-1zM443 272h2v1h-2zM446 272h1v1h-1zM448 272h1v1h-1zM450 272h1v1h-1zM452 272h1v1h-1zM454 272h1v1h-1zM456 272h1v1h-1zM458 272h1v1h-1zM476 272h5v1h-5zM482 272h1v1h-1zM484 272h2v1h-2zM497 272h1v1h-1zM499 272h2v1h-2zM502 272h1v1h-1zM504 272h1v1h-1zM506 272h1v1h-1zM508 272h1v1h-1zM510 272h1v1h-1zM512 272h1v1h-1zM514 272h1v1h-1zM22 273h1v1h-1zM26 273h1v1h-1zM36 273h4v1h-4zM41 273h1v1h-1zM43 273h1v1h-1zM45 273h1v1h-1zM72 273h2v1h-2zM77 273h1v1h-1zM79 273h1v1h-1zM81 273h1v1h-1zM85 273h1v1h-1zM95 273h1v1h-1zM101 273h1v1h-1zM103 273h1v1h-1zM105 273h1v1h-1zM107 273h1v1h-1zM109 273h1v1h-1zM129 273h4v1h-4zM134 273h1v1h-1zM138 273h1v1h-1zM142 273h1v1h-1zM151 273h5v1h-5zM157 273h1v1h-1zM159 273h1v1h-1zM163 273h1v1h-1zM185 273h2v1h-2zM188 273h1v1h-1zM196 273h1v1h-1zM198 273h1v1h-1zM222 273h2v1h-2zM225 273h1v1h-1zM229 273h1v1h-1zM233 273h1v1h-1zM239 273h1v1h-1zM243 273h1v1h-1zM266 273h3v1h-3zM270 273h2v1h-2zM276 273h1v1h-1zM284 273h1v1h-1zM311 273h2v1h-2zM314 273h1v1h-1zM316 273h1v1h-1zM324 273h4v1h-4zM329 273h1v1h-1zM335 273h1v1h-1zM339 273h1v1h-1zM345 273h1v1h-1zM365 273h1v1h-1zM367 273h2v1h-2zM370 273h1v1h-1zM372 273h1v1h-1zM374 273h1v1h-1zM382 273h3v1h-3zM389 273h1v1h-1zM395 273h1v1h-1zM420 273h2v1h-2zM423 273h1v1h-1zM425 273h1v1h-1zM439 273h4v1h-4zM444 273h1v1h-1zM448 273h1v1h-1zM450 273h1v1h-1zM454 273h1v1h-1zM456 273h1v1h-1zM476 273h1v1h-1zM478 273h1v1h-1zM482 273h1v1h-1zM486 273h1v1h-1zM497 273h4v1h-4zM502 273h1v1h-1zM506 273h1v1h-1zM508 273h1v1h-1zM22 274h1v1h-1zM36 274h2v1h-2zM39 274h1v1h-1zM41 274h1v1h-1zM45 274h1v1h-1zM72 274h1v1h-1zM75 274h1v1h-1zM77 274h1v1h-1zM97 274h1v1h-1zM129 274h2v1h-2zM132 274h1v1h-1zM134 274h1v1h-1zM155 274h1v1h-1zM157 274h1v1h-1zM185 274h1v1h-1zM188 274h1v1h-1zM196 274h1v1h-1zM222 274h2v1h-2zM225 274h1v1h-1zM227 274h1v1h-1zM266 274h3v1h-3zM270 274h1v1h-1zM312 274h1v1h-1zM314 274h1v1h-1zM316 274h1v1h-1zM324 274h2v1h-2zM327 274h1v1h-1zM329 274h1v1h-1zM365 274h2v1h-2zM368 274h1v1h-1zM382 274h2v1h-2zM385 274h1v1h-1zM420 274h2v1h-2zM425 274h1v1h-1zM439 274h1v1h-1zM442 274h1v1h-1zM478 274h1v1h-1zM497 274h2v1h-2zM500 274h1v1h-1zM502 274h1v1h-1zM36 275h2v1h-2zM39 275h1v1h-1zM72 275h2v1h-2zM75 275h1v1h-1zM94 275h1v1h-1zM97 275h1v1h-1zM129 275h1v1h-1zM132 275h1v1h-1zM151 275h1v1h-1zM185 275h2v1h-2zM223 275h1v1h-1zM266 275h1v1h-1zM310 275h1v1h-1zM324 275h2v1h-2zM366 275h1v1h-1zM382 275h2v1h-2zM420 275h2v1h-2zM439 275h2v1h-2zM476 275h1v1h-1zM478 275h1v1h-1zM497 275h2v1h-2zM500 275h1v1h-1zM36 276h2v1h-2zM72 276h1v1h-1zM94 276h2v1h-2zM129 276h1v1h-1zM132 276h1v1h-1zM151 276h1v1h-1zM185 276h2v1h-2zM222 276h2v1h-2zM266 276h1v1h-1zM324 276h2v1h-2zM365 276h2v1h-2zM382 276h1v1h-1zM420 276h2v1h-2zM439 276h2v1h-2zM476 276h1v1h-1zM497 276h2v1h-2zM36 277h1v1h-1zM72 277h1v1h-1zM94 277h2v1h-2zM129 277h1v1h-1zM151 277h1v1h-1zM185 277h1v1h-1zM222 277h2v1h-2zM266 277h1v1h-1zM310 277h1v1h-1zM324 277h2v1h-2zM365 277h2v1h-2zM382 277h1v1h-1zM420 277h2v1h-2zM439 277h2v1h-2zM476 277h1v1h-1zM497 277h2v1h-2zM36 278h1v1h-1zM72 278h1v1h-1zM94 278h1v1h-1zM129 278h1v1h-1zM151 278h1v1h-1zM185 278h1v1h-1zM222 278h1v1h-1zM266 278h1v1h-1zM310 278h1v1h-1zM324 278h1v1h-1zM365 278h2v1h-2zM382 278h1v1h-1zM420 278h1v1h-1zM439 278h2v1h-2zM476 278h1v1h-1zM497 278h1v1h-1zM36 279h1v1h-1zM72 279h1v1h-1zM94 279h1v1h-1zM129 279h1v1h-1zM185 279h1v1h-1zM222 279h1v1h-1zM266 279h1v1h-1zM310 279h1v1h-1zM324 279h1v1h-1zM365 279h2v1h-2zM382 279h1v1h-1zM420 279h1v1h-1zM439 279h1v1h-1zM476 279h1v1h-1zM497 279h1v1h-1zM36 280h1v1h-1zM72 280h1v1h-1zM94 280h1v1h-1zM129 280h1v1h-1zM151 280h1v1h-1zM185 280h1v1h-1zM222 280h1v1h-1zM266 280h1v1h-1zM310 280h1v1h-1zM324 280h1v1h-1zM365 280h1v1h-1zM382 280h1v1h-1zM420 280h1v1h-1zM439 280h1v1h-1zM476 280h1v1h-1zM497 280h1v1h-1zM266 281h1v1h-1zM310 281h1v1h-1zM310 282h1v1h-1z"/>
<path fill="rgb(185, 185, 255)" d="M491 135h1v1h-1zM516 135h1v1h-1zM491 136h1v1h-1zM516 136h1v1h-1zM203 137h1v1h-1zM491 137h1v1h-1zM516 137h1v1h-1zM56 138h1v1h-1zM203 138h1v1h-1zM403 138h1v1h-1zM460 138h1v1h-1zM491 138h1v1h-1zM516 138h1v1h-1zM30 139h1v1h-1zM56 139h1v1h-1zM88 139h1v1h-1zM112 139h1v1h-1zM146 139h1v1h-1zM169 139h1v1h-1zM203 139h1v1h-1zM293 139h1v1h-1zM318 139h1v1h-1zM348 139h1v1h-1zM403 139h1v1h-1zM433 139h1v1h-1zM460 139h1v1h-1zM491 139h1v1h-1zM516 139h1v1h-1zM30 140h1v1h-1zM56 140h1v1h-1zM88 140h1v1h-1zM112 140h1v1h-1zM146 140h1v1h-1zM169 140h1v1h-1zM203 140h1v1h-1zM246 140h1v1h-1zM293 140h1v1h-1zM318 140h1v1h-1zM348 140h1v1h-1zM403 140h1v1h-1zM433 140h1v1h-1zM460 140h1v1h-1zM491 140h1v1h-1zM516 140h1v1h-1zM30 141h1v1h-1zM56 141h1v1h-1zM88 141h1v1h-1zM112 141h1v1h-1zM146 141h1v1h-1zM169 141h1v1h-1zM203 141h1v1h-1zM246 141h1v1h-1zM293 141h1v1h-1zM318 141h1v1h-1zM348 141h1v1h-1zM403 141h1v1h-1zM433 141h1v1h-1zM460 141h1v1h-1zM491 141h1v1h-1zM516 141h1v1h-1zM30 142h1v1h-1zM56 142h1v1h-1zM88 142h1v1h-1zM112 142h1v1h-1zM146 142h1v1h-1zM169 142h1v1h-1zM203 142h1v1h-1zM246 142h1v1h-1zM293 142h1v1h-1zM318 142h1v1h-1zM348 142h1v1h-1zM376 142h1v1h-1zM403 142h1v1h-1zM433 142h1v1h-1zM460 142h1v1h-1zM491 142h1v1h-1zM516 142h1v1h-1zM30 143h1v1h-1zM56 143h1v1h-1zM88 143h1v1h-1zM112 143h1v1h-1zM146 143h1v1h-1zM169 143h1v1h-1zM203 143h1v1h-1zM246 143h1v1h-1zM293 143h1v1h-1zM318 143h1v1h-1zM348 143h1v1h-1zM376 143h1v1h-1zM403 143h1v1h-1zM433 143h1v1h-1zM460 143h1v1h-1zM491 143h1v1h-1zM516 143h1v1h-1zM30 144h1v1h-1zM56 144h1v1h-1zM88 144h1v1h-1zM112 144h1v1h-1zM146 144h1v1h-1zM169 144h1v1h-1zM203 144h1v1h-1zM246 144h1v1h-1zM293 144h1v1h-1zM318 144h1v1h-1zM348 144h1v1h-1zM376 144h1v1h-1zM403 144h1v1h-1zM433 144h1v1h-1zM460 144h1v1h-1zM491 144h1v1h-1zM516 144h1v1h-1zM30 145h1v1h-1zM56 145h1v1h-1zM88 145h1v1h-1zM112 145h1v1h-1zM146 145h1v1h-1zM169 145h1v1h-1zM203 145h1v1h-1zM246 145h1v1h-1zM293 145h1v1h-1zM318 145h1v1h-1zM348 145h1v1h-1zM376 145h1v1h-1zM403 145h1v1h-1zM433 145h1v1h-1zM460 145h1v1h-1zM491 145h1v1h-1zM516 145h1v1h-1zM30 146h1v1h-1zM56 146h1v1h-1zM88 146h1v1h-1zM112 146h1v1h-1zM146 146h1v1h-1zM169 146h1v1h-1zM203 146h1v1h-1zM246 146h1v1h-1zM293 146h1v1h-1zM318 146h1v1h-1zM348 146h1v1h-1zM376 146h1v1h-1zM403 146h1v1h-1zM433 146h1v1h-1zM460 146h1v1h-1zM491 146h1v1h-1zM516 146h1v1h-1zM30 147h1v1h-1zM56 147h1v1h-1zM88 147h1v1h-1zM112 147h1v1h-1zM146 147h1v1h-1zM169 147h1v1h-1zM203 147h1v1h-1zM246 147h1v1h-1zM293 147h1v1h-1zM318 147h1v1h-1zM348 147h1v1h-1zM376 147h1v1h-1zM403 147h1v1h-1zM433 147h1v1h-1zM460 147h1v1h-1zM491 147h1v1h-1zM516 147h1v1h-1zM30 148h1v1h-1zM56 148h1v1h-1zM88 148h1v1h-1zM112 148h1v1h-1zM146 148h1v1h-1zM169 148h1v1h-1zM203 148h1v1h-1zM246 148h1v1h-1zM293 148h1v1h-1zM318 148h1v1h-1zM348 148h1v1h-1zM376 148h1v1h-1zM403 148h1v1h-1zM433 148h1v1h-1zM460 148h1v1h-1zM491 148h1v1h-1zM516 148h1v1h-1zM30 149h1v1h-1zM56 149h1v1h-1zM88 149h1v1h-1zM112 149h1v1h-1zM146 149h1v1h-1zM169 149h1v1h-1zM203 149h1v1h-1zM246 149h1v1h-1zM293 149h1v1h-1zM318 149h1v1h-1zM348 149h1v1h-1zM376 149h1v1h-1zM403 149h1v1h-1zM433 149h1v1h-1zM460 149h1v1h-1zM491 149h1v1h-1zM516 149h1v1h-1zM30 150h1v1h-1zM56 150h1v1h-1zM88 150h1v1h-1zM112 150h1v1h-1zM146 150h1v1h-1zM169 150h1v1h-1zM203 150h1v1h-1zM246 150h1v1h-1zM293 150h1v1h-1zM318 150h1v1h-1zM348 150h1v1h-1zM376 150h1v1h-1zM403 150h1v1h-1zM433 150h1v1h-1zM460 150h1v1h-1zM491 150h1v1h-1zM516 150h1v1h-1zM30 151h1v1h-1zM56 151h1v1h-1zM88 151h1v1h-1zM112 151h1v1h-1zM146 151h1v1h-1zM169 151h1v1h-1zM203 151h1v1h-1zM246 151h1v1h-1zM293 151h1v1h-1zM318 151h1v1h-1zM348 151h1v1h-1zM376 151h1v1h-1zM403 151h1v1h-1zM433 151h1v1h-1zM460 151h1v1h-1zM491 151h1v1h-1zM516 151h1v1h-1zM30 152h1v1h-1zM56 152h1v1h-1zM88 152h1v1h-1zM112 152h1v1h-1zM146 152h1v1h-1zM169 152h1v1h-1zM203 152h1v1h-1zM246 152h1v1h-1zM293 152h1v1h-1zM318 152h1v1h-1zM348 152h1v1h-1zM376 152h1v1h-1zM403 152h1v1h-1zM433 152h1v1h-1zM460 152h1v1h-1zM491 152h1v1h-1zM516 152h1v1h-1zM30 153h1v1h-1zM56 153h1v1h-1zM88 153h1v1h-1zM112 153h1v1h-1zM146 153h1v1h-1zM169 153h1v1h-1zM203 153h1v1h-1zM246 153h1v1h-1zM293 153h2v1h-2zM318 153h1v1h-1zM348 153h1v1h-1zM376 153h1v1h-1zM403 153h1v1h-1zM433 153h1v1h-1zM460 153h1v1h-1zM491 153h1v1h-1zM516 153h1v1h-1zM30 154h1v1h-1zM56 154h1v1h-1zM88 154h1v1h-1zM112 154h1v1h-1zM146 154h1v1h-1zM169 154h1v1h-1zM203 154h1v1h-1zM246 154h1v1h-1zM293 154h2v1h-2zM318 154h1v1h-1zM348 154h1v1h-1zM376 154h1v1h-1zM403 154h1v1h-1zM433 154h1v1h-1zM460 154h1v1h-1zM491 154h1v1h-1zM516 154h1v1h-1zM30 155h1v1h-1zM56 155h1v1h-1zM88 155h1v1h-1zM112 155h1v1h-1zM146 155h1v1h-1zM169 155h1v1h-1zM203 155h1v1h-1zM246 155h1v1h-1zM293 155h1v1h-1zM318 155h1v1h-1zM348 155h1v1h-1zM376 155h1v1h-1zM403 155h1v1h-1zM433 155h1v1h-1zM460 155h1v1h-1zM491 155h1v1h-1zM516 155h1v1h-1zM30 156h1v1h-1zM56 156h1v1h-1zM88 156h1v1h-1zM112 156h1v1h-1zM146 156h1v1h-1zM169 156h1v1h-1zM203 156h1v1h-1zM246 156h1v1h-1zM293 156h1v1h-1zM318 156h1v1h-1zM348 156h1v1h-1zM376 156h1v1h-1zM403 156h1v1h-1zM405 156h1v1h-1zM433 156h1v1h-1zM460 156h2v1h-2zM491 156h1v1h-1zM516 156h1v1h-1zM30 157h1v1h-1zM56 157h1v1h-1zM88 157h1v1h-1zM112 157h1v1h-1zM146 157h1v1h-1zM169 157h2v1h-2zM203 157h1v1h-1zM246 157h1v1h-1zM293 157h1v1h-1zM318 157h1v1h-1zM348 157h1v1h-1zM376 157h1v1h-1zM403 157h1v1h-1zM433 157h1v1h-1zM460 157h2v1h-2zM491 157h1v1h-1zM516 157h1v1h-1zM30 158h1v1h-1zM56 158h2v1h-2zM88 158h1v1h-1zM112 158h1v1h-1zM146 158h1v1h-1zM169 158h1v1h-1zM203 158h1v1h-1zM246 158h1v1h-1zM293 158h1v1h-1zM318 158h1v1h-1zM348 158h1v1h-1zM350 158h1v1h-1zM376 158h1v1h-1zM403 158h1v1h-1zM433 158h1v1h-1zM460 158h1v1h-1zM491 158h1v1h-1zM516 158h1v1h-1zM518 158h1v1h-1zM30 159h1v1h-1zM56 159h1v1h-1zM88 159h1v1h-1zM112 159h1v1h-1zM146 159h1v1h-1zM169 159h1v1h-1zM203 159h1v1h-1zM246 159h1v1h-1zM293 159h1v1h-1zM318 159h1v1h-1zM348 159h1v1h-1zM350 159h1v1h-1zM376 159h1v1h-1zM403 159h1v1h-1zM433 159h1v1h-1zM460 159h1v1h-1zM491 159h1v1h-1zM516 159h1v1h-1zM30 160h1v1h-1zM56 160h1v1h-1zM88 160h1v1h-1zM112 160h1v1h-1zM146 160h1v1h-1zM169 160h1v1h-1zM203 160h1v1h-1zM207 160h1v1h-1zM246 160h1v1h-1zM293 160h1v1h-1zM318 160h1v1h-1zM348 160h1v1h-1zM376 160h1v1h-1zM403 160h1v1h-1zM433 160h1v1h-1zM460 160h1v1h-1zM463 160h1v1h-1zM465 160h1v1h-1zM491 160h1v1h-1zM516 160h1v1h-1zM30 161h1v1h-1zM56 161h1v1h-1zM88 161h1v1h-1zM112 161h1v1h-1zM115 161h1v1h-1zM146 161h1v1h-1zM169 161h1v1h-1zM203 161h1v1h-1zM207 161h1v1h-1zM246 161h1v1h-1zM293 161h1v1h-1zM318 161h1v1h-1zM348 161h2v1h-2zM376 161h1v1h-1zM403 161h2v1h-2zM433 161h1v1h-1zM460 161h2v1h-2zM467 161h1v1h-1zM491 161h1v1h-1zM516 161h1v1h-1zM30 162h1v1h-1zM56 162h2v1h-2zM65 162h1v1h-1zM88 162h1v1h-1zM112 162h1v1h-1zM125 162h1v1h-1zM146 162h1v1h-1zM169 162h1v1h-1zM203 162h1v1h-1zM207 162h1v1h-1zM210 162h1v1h-1zM246 162h1v1h-1zM293 162h1v1h-1zM298 162h1v1h-1zM318 162h1v1h-1zM348 162h2v1h-2zM351 162h1v1h-1zM376 162h1v1h-1zM403 162h1v1h-1zM417 162h1v1h-1zM433 162h1v1h-1zM460 162h1v1h-1zM491 162h1v1h-1zM516 162h1v1h-1zM520 162h1v1h-1zM30 163h1v1h-1zM56 163h2v1h-2zM88 163h1v1h-1zM112 163h1v1h-1zM119 163h1v1h-1zM127 163h1v1h-1zM146 163h1v1h-1zM169 163h2v1h-2zM176 163h1v1h-1zM178 163h1v1h-1zM203 163h1v1h-1zM207 163h1v1h-1zM210 163h1v1h-1zM214 163h1v1h-1zM246 163h1v1h-1zM250 163h1v1h-1zM293 163h2v1h-2zM300 163h1v1h-1zM318 163h1v1h-1zM348 163h1v1h-1zM358 163h1v1h-1zM362 163h1v1h-1zM376 163h1v1h-1zM403 163h1v1h-1zM433 163h1v1h-1zM460 163h1v1h-1zM467 163h1v1h-1zM491 163h1v1h-1zM516 163h1v1h-1zM520 163h1v1h-1zM30 164h1v1h-1zM56 164h1v1h-1zM59 164h1v1h-1zM61 164h1v1h-1zM88 164h1v1h-1zM112 164h2v1h-2zM115 164h1v1h-1zM117 164h1v1h-1zM146 164h1v1h-1zM169 164h4v1h-4zM174 164h1v1h-1zM203 164h1v1h-1zM207 164h2v1h-2zM212 164h1v1h-1zM215 164h1v1h-1zM218 164h1v1h-1zM246 164h1v1h-1zM248 164h1v1h-1zM256 164h1v1h-1zM293 164h2v1h-2zM296 164h1v1h-1zM298 164h1v1h-1zM300 164h2v1h-2zM304 164h1v1h-1zM307 164h2v1h-2zM318 164h1v1h-1zM348 164h1v1h-1zM350 164h1v1h-1zM356 164h1v1h-1zM359 164h1v1h-1zM376 164h1v1h-1zM403 164h1v1h-1zM405 164h1v1h-1zM407 164h1v1h-1zM411 164h1v1h-1zM433 164h1v1h-1zM460 164h1v1h-1zM463 164h1v1h-1zM467 164h3v1h-3zM474 164h1v1h-1zM491 164h1v1h-1zM516 164h1v1h-1zM518 164h1v1h-1zM520 164h1v1h-1zM30 165h1v1h-1zM56 165h2v1h-2zM59 165h2v1h-2zM62 165h2v1h-2zM65 165h3v1h-3zM88 165h1v1h-1zM112 165h2v1h-2zM115 165h2v1h-2zM119 165h1v1h-1zM125 165h1v1h-1zM127 165h1v1h-1zM146 165h1v1h-1zM169 165h2v1h-2zM172 165h2v1h-2zM175 165h1v1h-1zM178 165h2v1h-2zM181 165h2v1h-2zM203 165h1v1h-1zM207 165h1v1h-1zM210 165h2v1h-2zM214 165h1v1h-1zM246 165h1v1h-1zM248 165h2v1h-2zM252 165h1v1h-1zM257 165h2v1h-2zM293 165h4v1h-4zM299 165h1v1h-1zM302 165h1v1h-1zM308 165h1v1h-1zM318 165h1v1h-1zM348 165h2v1h-2zM351 165h1v1h-1zM376 165h1v1h-1zM403 165h1v1h-1zM405 165h2v1h-2zM408 165h2v1h-2zM415 165h1v1h-1zM433 165h1v1h-1zM460 165h3v1h-3zM464 165h2v1h-2zM467 165h1v1h-1zM473 165h1v1h-1zM491 165h1v1h-1zM516 165h4v1h-4zM521 165h2v1h-2zM30 166h1v1h-1zM56 166h3v1h-3zM60 166h1v1h-1zM88 166h1v1h-1zM112 166h1v1h-1zM114 166h1v1h-1zM116 166h1v1h-1zM120 166h1v1h-1zM146 166h1v1h-1zM169 166h1v1h-1zM171 166h1v1h-1zM203 166h2v1h-2zM207 166h3v1h-3zM246 166h2v1h-2zM253 166h1v1h-1zM259 166h1v1h-1zM293 166h3v1h-3zM297 166h1v1h-1zM318 166h1v1h-1zM348 166h2v1h-2zM351 166h1v1h-1zM353 166h1v1h-1zM376 166h2v1h-2zM403 166h2v1h-2zM433 166h1v1h-1zM460 166h3v1h-3zM466 166h1v1h-1zM491 166h2v1h-2zM516 166h1v1h-1zM518 166h2v1h-2zM30 167h2v1h-2zM56 167h2v1h-2zM59 167h1v1h-1zM88 167h1v1h-1zM112 167h2v1h-2zM115 167h1v1h-1zM146 167h1v1h-1zM169 167h3v1h-3zM203 167h1v1h-1zM207 167h1v1h-1zM209 167h1v1h-1zM246 167h1v1h-1zM248 167h2v1h-2zM293 167h3v1h-3zM318 167h1v1h-1zM348 167h2v1h-2zM376 167h2v1h-2zM403 167h2v1h-2zM406 167h1v1h-1zM433 167h1v1h-1zM460 167h2v1h-2zM491 167h2v1h-2zM516 167h3v1h-3zM30 168h1v1h-1zM56 168h3v1h-3zM60 168h1v1h-1zM62 168h1v1h-1zM66 168h1v1h-1zM88 168h1v1h-1zM112 168h2v1h-2zM115 168h2v1h-2zM118 168h1v1h-1zM146 168h1v1h-1zM169 168h2v1h-2zM203 168h1v1h-1zM207 168h1v1h-1zM211 168h1v1h-1zM246 168h4v1h-4zM255 168h1v1h-1zM293 168h2v1h-2zM301 168h1v1h-1zM318 168h2v1h-2zM348 168h2v1h-2zM376 168h2v1h-2zM403 168h4v1h-4zM412 168h1v1h-1zM418 168h1v1h-1zM433 168h1v1h-1zM460 168h3v1h-3zM464 168h1v1h-1zM470 168h1v1h-1zM491 168h2v1h-2zM516 168h2v1h-2zM519 168h1v1h-1zM29 169h3v1h-3zM56 169h3v1h-3zM60 169h2v1h-2zM64 169h1v1h-1zM69 169h2v1h-2zM88 169h1v1h-1zM112 169h3v1h-3zM117 169h1v1h-1zM120 169h1v1h-1zM123 169h2v1h-2zM146 169h2v1h-2zM169 169h5v1h-5zM177 169h1v1h-1zM180 169h1v1h-1zM202 169h2v1h-2zM207 169h3v1h-3zM212 169h2v1h-2zM215 169h1v1h-1zM218 169h1v1h-1zM246 169h6v1h-6zM253 169h2v1h-2zM256 169h1v1h-1zM261 169h1v1h-1zM293 169h4v1h-4zM300 169h1v1h-1zM307 169h1v1h-1zM317 169h3v1h-3zM348 169h2v1h-2zM351 169h1v1h-1zM353 169h1v1h-1zM356 169h1v1h-1zM359 169h1v1h-1zM376 169h2v1h-2zM403 169h2v1h-2zM407 169h2v1h-2zM410 169h1v1h-1zM433 169h1v1h-1zM460 169h4v1h-4zM466 169h2v1h-2zM469 169h2v1h-2zM473 169h1v1h-1zM491 169h2v1h-2zM515 169h3v1h-3zM519 169h2v1h-2zM30 170h1v1h-1zM56 170h4v1h-4zM63 170h2v1h-2zM69 170h1v1h-1zM88 170h1v1h-1zM112 170h2v1h-2zM115 170h1v1h-1zM119 170h1v1h-1zM145 170h2v1h-2zM169 170h6v1h-6zM177 170h2v1h-2zM182 170h1v1h-1zM202 170h3v1h-3zM207 170h2v1h-2zM210 170h1v1h-1zM214 170h1v1h-1zM216 170h1v1h-1zM246 170h1v1h-1zM248 170h1v1h-1zM251 170h2v1h-2zM263 170h1v1h-1zM292 170h5v1h-5zM317 170h3v1h-3zM348 170h1v1h-1zM351 170h2v1h-2zM354 170h2v1h-2zM375 170h3v1h-3zM403 170h3v1h-3zM407 170h1v1h-1zM411 170h1v1h-1zM413 170h1v1h-1zM415 170h1v1h-1zM432 170h3v1h-3zM460 170h1v1h-1zM465 170h1v1h-1zM467 170h3v1h-3zM473 170h1v1h-1zM490 170h3v1h-3zM515 170h2v1h-2zM518 170h1v1h-1zM522 170h1v1h-1zM30 171h2v1h-2zM55 171h3v1h-3zM59 171h1v1h-1zM87 171h3v1h-3zM111 171h2v1h-2zM114 171h2v1h-2zM123 171h1v1h-1zM145 171h3v1h-3zM168 171h5v1h-5zM176 171h1v1h-1zM178 171h1v1h-1zM182 171h1v1h-1zM203 171h1v1h-1zM207 171h2v1h-2zM245 171h2v1h-2zM248 171h2v1h-2zM263 171h1v1h-1zM292 171h3v1h-3zM296 171h1v1h-1zM298 171h1v1h-1zM300 171h1v1h-1zM306 171h1v1h-1zM318 171h2v1h-2zM347 171h2v1h-2zM352 171h1v1h-1zM356 171h1v1h-1zM376 171h2v1h-2zM402 171h2v1h-2zM433 171h2v1h-2zM459 171h3v1h-3zM466 171h1v1h-1zM468 171h1v1h-1zM490 171h3v1h-3zM516 171h1v1h-1zM29 172h2v1h-2zM55 172h2v1h-2zM65 172h1v1h-1zM87 172h3v1h-3zM112 172h1v1h-1zM123 172h1v1h-1zM146 172h2v1h-2zM168 172h3v1h-3zM203 172h2v1h-2zM207 172h1v1h-1zM214 172h1v1h-1zM245 172h3v1h-3zM263 172h2v1h-2zM293 172h1v1h-1zM318 172h2v1h-2zM347 172h2v1h-2zM376 172h2v1h-2zM402 172h2v1h-2zM406 172h2v1h-2zM433 172h2v1h-2zM460 172h1v1h-1zM491 172h1v1h-1zM516 172h1v1h-1zM520 172h1v1h-1zM29 173h1v1h-1zM31 173h1v1h-1zM56 173h1v1h-1zM89 173h1v1h-1zM112 173h1v1h-1zM169 173h1v1h-1zM176 173h1v1h-1zM202 173h1v1h-1zM204 173h1v1h-1zM207 173h1v1h-1zM246 173h1v1h-1zM264 173h1v1h-1zM293 173h1v1h-1zM295 173h2v1h-2zM317 173h1v1h-1zM319 173h1v1h-1zM348 173h1v1h-1zM352 173h1v1h-1zM377 173h1v1h-1zM403 173h1v1h-1zM434 173h1v1h-1zM460 173h1v1h-1zM463 173h1v1h-1zM492 173h1v1h-1zM516 173h1v1h-1zM31 174h1v1h-1zM56 174h3v1h-3zM89 174h1v1h-1zM112 174h1v1h-1zM169 174h1v1h-1zM172 174h1v1h-1zM204 174h1v1h-1zM207 174h2v1h-2zM246 174h1v1h-1zM293 174h1v1h-1zM317 174h1v1h-1zM319 174h1v1h-1zM348 174h3v1h-3zM375 174h1v1h-1zM377 174h1v1h-1zM403 174h1v1h-1zM432 174h1v1h-1zM459 174h2v1h-2zM490 174h1v1h-1zM515 174h2v1h-2zM31 175h1v1h-1zM59 175h1v1h-1zM87 175h1v1h-1zM89 175h1v1h-1zM111 175h1v1h-1zM145 175h1v1h-1zM168 175h1v1h-1zM204 175h1v1h-1zM207 175h1v1h-1zM245 175h1v1h-1zM292 175h1v1h-1zM319 175h1v1h-1zM375 175h1v1h-1zM377 175h1v1h-1zM405 175h1v1h-1zM434 175h1v1h-1zM490 175h1v1h-1zM492 175h1v1h-1zM29 176h1v1h-1zM31 176h1v1h-1zM55 176h1v1h-1zM87 176h1v1h-1zM89 176h1v1h-1zM111 176h1v1h-1zM115 176h1v1h-1zM147 176h1v1h-1zM172 176h1v1h-1zM204 176h1v1h-1zM207 176h1v1h-1zM263 176h2v1h-2zM347 176h1v1h-1zM377 176h1v1h-1zM402 176h1v1h-1zM405 176h1v1h-1zM434 176h1v1h-1zM492 176h1v1h-1zM31 177h1v1h-1zM90 177h1v1h-1zM147 177h1v1h-1zM202 177h1v1h-1zM204 177h1v1h-1zM206 177h2v1h-2zM319 177h1v1h-1zM379 177h1v1h-1zM432 177h1v1h-1zM434 177h1v1h-1zM459 177h1v1h-1zM492 177h1v1h-1zM515 177h1v1h-1zM31 178h3v1h-3zM89 178h2v1h-2zM92 178h1v1h-1zM113 178h1v1h-1zM145 178h1v1h-1zM147 178h3v1h-3zM168 178h1v1h-1zM202 178h1v1h-1zM206 178h2v1h-2zM264 178h1v1h-1zM317 178h1v1h-1zM321 178h2v1h-2zM375 178h1v1h-1zM377 178h1v1h-1zM461 178h1v1h-1zM31 179h1v1h-1zM33 179h1v1h-1zM55 179h1v1h-1zM87 179h1v1h-1zM90 179h2v1h-2zM111 179h1v1h-1zM204 179h2v1h-2zM207 179h1v1h-1zM245 179h1v1h-1zM292 179h1v1h-1zM317 179h1v1h-1zM319 179h4v1h-4zM347 179h1v1h-1zM379 179h2v1h-2zM436 179h1v1h-1zM490 179h1v1h-1zM492 179h1v1h-1zM29 180h1v1h-1zM31 180h1v1h-1zM34 180h1v1h-1zM55 180h1v1h-1zM90 180h3v1h-3zM147 180h3v1h-3zM204 180h1v1h-1zM207 180h1v1h-1zM263 180h2v1h-2zM320 180h2v1h-2zM377 180h2v1h-2zM402 180h1v1h-1zM432 180h1v1h-1zM435 180h2v1h-2zM459 180h1v1h-1zM490 180h1v1h-1zM492 180h3v1h-3zM29 181h1v1h-1zM31 181h2v1h-2zM34 181h1v1h-1zM89 181h1v1h-1zM91 181h2v1h-2zM147 181h2v1h-2zM168 181h1v1h-1zM202 181h1v1h-1zM204 181h4v1h-4zM319 181h2v1h-2zM322 181h1v1h-1zM377 181h1v1h-1zM379 181h1v1h-1zM432 181h1v1h-1zM434 181h1v1h-1zM492 181h4v1h-4zM515 181h1v1h-1zM33 182h2v1h-2zM87 182h1v1h-1zM90 182h2v1h-2zM111 182h1v1h-1zM145 182h1v1h-1zM148 182h2v1h-2zM168 182h1v1h-1zM204 182h1v1h-1zM207 182h1v1h-1zM245 182h1v1h-1zM292 182h1v1h-1zM319 182h1v1h-1zM321 182h2v1h-2zM375 182h1v1h-1zM378 182h1v1h-1zM435 182h1v1h-1zM437 182h1v1h-1zM492 182h1v1h-1zM495 182h1v1h-1zM31 183h2v1h-2zM55 183h1v1h-1zM89 183h2v1h-2zM92 183h1v1h-1zM111 183h1v1h-1zM147 183h3v1h-3zM205 183h1v1h-1zM207 183h1v1h-1zM264 183h1v1h-1zM292 183h1v1h-1zM317 183h1v1h-1zM319 183h2v1h-2zM347 183h1v1h-1zM377 183h1v1h-1zM380 183h1v1h-1zM459 183h1v1h-1zM492 183h1v1h-1zM495 183h1v1h-1zM29 184h1v1h-1zM31 184h1v1h-1zM55 184h1v1h-1zM89 184h1v1h-1zM91 184h1v1h-1zM149 184h1v1h-1zM204 184h1v1h-1zM207 184h1v1h-1zM320 184h1v1h-1zM322 184h1v1h-1zM377 184h2v1h-2zM402 184h1v1h-1zM432 184h1v1h-1zM434 184h2v1h-2zM437 184h1v1h-1zM459 184h1v1h-1zM490 184h1v1h-1zM493 184h2v1h-2zM515 184h1v1h-1zM29 185h1v1h-1zM32 185h3v1h-3zM89 185h1v1h-1zM91 185h2v1h-2zM148 185h2v1h-2zM168 185h1v1h-1zM202 185h1v1h-1zM207 185h1v1h-1zM245 185h1v1h-1zM319 185h4v1h-4zM379 185h1v1h-1zM432 185h1v1h-1zM434 185h1v1h-1zM436 185h1v1h-1zM492 185h3v1h-3zM515 185h1v1h-1zM32 186h3v1h-3zM87 186h1v1h-1zM89 186h2v1h-2zM111 186h1v1h-1zM145 186h1v1h-1zM149 186h1v1h-1zM207 186h1v1h-1zM292 186h1v1h-1zM320 186h1v1h-1zM347 186h1v1h-1zM375 186h1v1h-1zM377 186h1v1h-1zM379 186h2v1h-2zM435 186h3v1h-3zM492 186h2v1h-2zM32 187h1v1h-1zM34 187h1v1h-1zM55 187h1v1h-1zM89 187h3v1h-3zM147 187h1v1h-1zM204 187h1v1h-1zM206 187h2v1h-2zM317 187h1v1h-1zM319 187h2v1h-2zM377 187h1v1h-1zM402 187h1v1h-1zM434 187h3v1h-3zM490 187h1v1h-1zM492 187h1v1h-1zM29 188h1v1h-1zM31 188h4v1h-4zM89 188h4v1h-4zM147 188h2v1h-2zM205 188h1v1h-1zM207 188h1v1h-1zM245 188h1v1h-1zM264 188h1v1h-1zM317 188h1v1h-1zM319 188h1v1h-1zM321 188h1v1h-1zM379 188h2v1h-2zM436 188h2v1h-2zM459 188h1v1h-1zM492 188h2v1h-2zM495 188h1v1h-1zM515 188h1v1h-1zM29 189h1v1h-1zM32 189h2v1h-2zM90 189h2v1h-2zM111 189h1v1h-1zM145 189h1v1h-1zM148 189h2v1h-2zM168 189h1v1h-1zM202 189h1v1h-1zM206 189h2v1h-2zM319 189h1v1h-1zM322 189h1v1h-1zM347 189h1v1h-1zM375 189h1v1h-1zM377 189h1v1h-1zM379 189h1v1h-1zM432 189h1v1h-1zM459 189h1v1h-1zM492 189h2v1h-2zM495 189h1v1h-1zM87 190h1v1h-1zM89 190h4v1h-4zM145 190h1v1h-1zM148 190h1v1h-1zM202 190h1v1h-1zM204 190h1v1h-1zM207 190h1v1h-1zM292 190h1v1h-1zM320 190h1v1h-1zM347 190h1v1h-1zM402 190h1v1h-1zM435 190h1v1h-1zM492 190h1v1h-1zM495 190h1v1h-1zM34 191h1v1h-1zM55 191h1v1h-1zM87 191h1v1h-1zM90 191h1v1h-1zM148 191h1v1h-1zM245 191h1v1h-1zM320 191h1v1h-1zM378 191h1v1h-1zM437 191h1v1h-1zM490 191h1v1h-1zM515 191h1v1h-1zM168 192h1v1h-1zM245 192h1v1h-1zM317 192h1v1h-1zM319 192h2v1h-2zM375 192h1v1h-1zM379 192h1v1h-1zM432 192h1v1h-1zM459 192h1v1h-1zM515 192h1v1h-1zM29 193h1v1h-1zM90 193h1v1h-1zM111 193h1v1h-1zM145 193h1v1h-1zM168 193h1v1h-1zM202 193h1v1h-1zM204 193h1v1h-1zM292 193h1v1h-1zM319 193h1v1h-1zM347 193h1v1h-1zM375 193h1v1h-1zM380 193h1v1h-1zM432 193h1v1h-1zM459 193h1v1h-1zM87 194h1v1h-1zM202 194h1v1h-1zM292 194h1v1h-1zM319 194h1v1h-1zM380 194h1v1h-1zM402 194h1v1h-1zM495 194h1v1h-1zM55 195h1v1h-1zM317 195h1v1h-1zM402 195h1v1h-1zM490 195h1v1h-1zM29 196h1v1h-1zM55 196h1v1h-1zM111 196h1v1h-1zM245 196h1v1h-1zM347 196h1v1h-1zM375 196h1v1h-1zM459 196h1v1h-1zM515 196h1v1h-1zM111 197h1v1h-1zM145 197h1v1h-1zM168 197h1v1h-1zM245 197h1v1h-1zM292 197h1v1h-1zM347 197h1v1h-1zM432 197h1v1h-1zM459 197h1v1h-1zM87 198h1v1h-1zM145 198h1v1h-1zM202 198h1v1h-1zM292 198h1v1h-1zM317 198h1v1h-1zM490 198h1v1h-1zM29 199h1v1h-1zM402 199h1v1h-1zM515 199h1v1h-1zM29 200h1v1h-1zM55 200h1v1h-1zM111 200h1v1h-1zM168 200h1v1h-1zM245 200h1v1h-1zM347 200h1v1h-1zM375 200h1v1h-1zM402 200h1v1h-1zM432 200h1v1h-1zM459 200h1v1h-1zM515 200h1v1h-1zM55 201h1v1h-1zM87 201h1v1h-1zM111 201h1v1h-1zM145 201h1v1h-1zM168 201h1v1h-1zM202 201h1v1h-1zM292 201h1v1h-1zM317 201h1v1h-1zM347 201h1v1h-1zM375 201h1v1h-1zM432 201h1v1h-1zM459 201h1v1h-1zM292 202h1v1h-1zM317 202h1v1h-1zM490 202h1v1h-1zM29 203h1v1h-1zM245 203h1v1h-1zM402 203h1v1h-1zM490 203h1v1h-1zM515 203h1v1h-1zM87 204h1v1h-1zM111 204h1v1h-1zM202 204h1v1h-1zM245 204h1v1h-1zM402 204h1v1h-1zM432 204h1v1h-1zM55 205h1v1h-1zM111 205h1v1h-1zM145 205h1v1h-1zM168 205h1v1h-1zM292 205h1v1h-1zM347 205h1v1h-1zM375 205h1v1h-1zM459 205h1v1h-1zM145 206h1v1h-1zM317 206h1v1h-1zM347 206h1v1h-1zM459 206h1v1h-1zM490 206h1v1h-1zM29 207h1v1h-1zM87 207h1v1h-1zM202 207h1v1h-1zM490 207h1v1h-1zM515 207h1v1h-1zM29 208h1v1h-1zM55 208h1v1h-1zM87 208h1v1h-1zM245 208h1v1h-1zM402 208h1v1h-1zM432 208h1v1h-1zM71 209h1v1h-1zM111 209h1v1h-1zM145 209h1v1h-1zM168 209h1v1h-1zM292 209h1v1h-1zM347 209h1v1h-1zM375 209h1v1h-1zM402 209h1v1h-1zM459 209h1v1h-1zM475 209h1v1h-1zM71 210h1v1h-1zM168 210h1v1h-1zM202 210h1v1h-1zM221 210h1v1h-1zM292 210h1v1h-1zM317 210h1v1h-1zM347 210h1v1h-1zM459 210h1v1h-1zM475 210h1v1h-1zM515 210h1v1h-1zM55 211h1v1h-1zM202 211h1v1h-1zM245 211h1v1h-1zM490 211h1v1h-1zM496 211h1v1h-1zM515 211h1v1h-1zM29 212h1v1h-1zM55 212h1v1h-1zM87 212h1v1h-1zM145 212h1v1h-1zM184 212h1v1h-1zM245 212h1v1h-1zM375 212h1v1h-1zM432 212h1v1h-1zM87 213h1v1h-1zM93 213h1v1h-1zM111 213h1v1h-1zM184 213h1v1h-1zM221 213h1v1h-1zM292 213h1v1h-1zM323 213h1v1h-1zM347 213h1v1h-1zM375 213h1v1h-1zM381 213h1v1h-1zM402 213h1v1h-1zM459 213h1v1h-1zM475 213h1v1h-1zM71 214h1v1h-1zM111 214h1v1h-1zM168 214h1v1h-1zM221 214h1v1h-1zM292 214h1v1h-1zM317 214h1v1h-1zM323 214h1v1h-1zM347 214h1v1h-1zM381 214h1v1h-1zM459 214h1v1h-1zM475 214h1v1h-1zM496 214h1v1h-1zM515 214h1v1h-1zM71 215h1v1h-1zM145 215h1v1h-1zM202 215h1v1h-1zM317 215h1v1h-1zM364 215h1v1h-1zM432 215h1v1h-1zM490 215h1v1h-1zM496 215h1v1h-1zM515 215h1v1h-1zM29 216h1v1h-1zM35 216h1v1h-1zM55 216h1v1h-1zM87 216h1v1h-1zM128 216h1v1h-1zM150 216h1v1h-1zM245 216h1v1h-1zM402 216h1v1h-1zM35 217h1v1h-1zM55 217h1v1h-1zM87 217h1v1h-1zM93 217h1v1h-1zM128 217h1v1h-1zM184 217h1v1h-1zM221 217h1v1h-1zM245 217h1v1h-1zM347 217h1v1h-1zM375 217h1v1h-1zM402 217h1v1h-1zM438 217h1v1h-1zM475 217h1v1h-1zM93 218h1v1h-1zM111 218h1v1h-1zM145 218h1v1h-1zM168 218h1v1h-1zM202 218h1v1h-1zM221 218h1v1h-1zM265 218h1v1h-1zM292 218h1v1h-1zM309 218h1v1h-1zM323 218h1v1h-1zM364 218h1v1h-1zM381 218h1v1h-1zM419 218h1v1h-1zM432 218h1v1h-1zM459 218h1v1h-1zM490 218h1v1h-1zM496 218h1v1h-1zM515 218h1v1h-1zM71 219h1v1h-1zM111 219h1v1h-1zM150 219h1v1h-1zM168 219h1v1h-1zM202 219h1v1h-1zM265 219h1v1h-1zM292 219h1v1h-1zM309 219h1v1h-1zM317 219h1v1h-1zM323 219h1v1h-1zM459 219h1v1h-1zM515 219h1v1h-1zM29 220h1v1h-1zM35 220h1v1h-1zM55 220h1v1h-1zM128 220h1v1h-1zM184 220h1v1h-1zM245 220h1v1h-1zM347 220h1v1h-1zM475 220h1v1h-1zM35 221h1v1h-1zM87 221h1v1h-1zM145 221h1v1h-1zM347 221h1v1h-1zM364 221h1v1h-1zM375 221h1v1h-1zM402 221h1v1h-1zM432 221h1v1h-1zM438 221h1v1h-1zM490 221h1v1h-1zM93 222h1v1h-1zM111 222h1v1h-1zM150 222h1v1h-1zM168 222h1v1h-1zM221 222h1v1h-1zM265 222h1v1h-1zM292 222h1v1h-1zM309 222h1v1h-1zM364 222h1v1h-1zM375 222h1v1h-1zM381 222h1v1h-1zM419 222h1v1h-1zM438 222h1v1h-1zM459 222h1v1h-1zM496 222h1v1h-1zM55 223h1v1h-1zM71 223h1v1h-1zM93 223h1v1h-1zM184 223h1v1h-1zM202 223h1v1h-1zM265 223h1v1h-1zM309 223h1v1h-1zM317 223h1v1h-1zM323 223h1v1h-1zM475 223h1v1h-1zM496 223h1v1h-1zM515 223h1v1h-1zM29 224h1v1h-1zM71 224h1v1h-1zM128 224h1v1h-1zM145 224h1v1h-1zM202 224h1v1h-1zM245 224h1v1h-1zM402 224h1v1h-1zM490 224h1v1h-1zM35 225h1v1h-1zM87 225h1v1h-1zM111 225h1v1h-1zM128 225h1v1h-1zM145 225h1v1h-1zM150 225h1v1h-1zM245 225h1v1h-1zM347 225h1v1h-1zM364 225h1v1h-1zM375 225h1v1h-1zM402 225h1v1h-1zM432 225h1v1h-1zM438 225h1v1h-1zM490 225h1v1h-1zM87 226h1v1h-1zM168 226h1v1h-1zM184 226h1v1h-1zM221 226h1v1h-1zM292 226h1v1h-1zM317 226h1v1h-1zM323 226h1v1h-1zM364 226h1v1h-1zM381 226h1v1h-1zM419 226h1v1h-1zM438 226h1v1h-1zM459 226h1v1h-1zM475 226h1v1h-1zM29 227h1v1h-1zM55 227h1v1h-1zM71 227h1v1h-1zM93 227h1v1h-1zM168 227h1v1h-1zM202 227h1v1h-1zM221 227h1v1h-1zM265 227h1v1h-1zM309 227h1v1h-1zM317 227h1v1h-1zM323 227h1v1h-1zM381 227h1v1h-1zM459 227h1v1h-1zM475 227h1v1h-1zM496 227h1v1h-1zM515 227h1v1h-1zM35 228h1v1h-1zM93 228h1v1h-1zM111 228h1v1h-1zM128 228h1v1h-1zM202 228h1v1h-1zM245 228h1v1h-1zM265 228h1v1h-1zM347 228h1v1h-1zM402 228h1v1h-1zM432 228h1v1h-1zM490 228h1v1h-1zM515 228h1v1h-1zM35 229h1v1h-1zM87 229h1v1h-1zM128 229h1v1h-1zM145 229h1v1h-1zM150 229h1v1h-1zM292 229h1v1h-1zM364 229h1v1h-1zM375 229h1v1h-1zM402 229h1v1h-1zM419 229h1v1h-1zM432 229h1v1h-1zM490 229h1v1h-1zM55 230h1v1h-1zM87 230h1v1h-1zM168 230h1v1h-1zM184 230h1v1h-1zM221 230h1v1h-1zM292 230h1v1h-1zM309 230h1v1h-1zM317 230h1v1h-1zM323 230h1v1h-1zM364 230h1v1h-1zM375 230h1v1h-1zM381 230h1v1h-1zM419 230h1v1h-1zM438 230h1v1h-1zM475 230h1v1h-1zM29 231h1v1h-1zM71 231h1v1h-1zM93 231h1v1h-1zM168 231h1v1h-1zM245 231h1v1h-1zM265 231h1v1h-1zM323 231h1v1h-1zM381 231h1v1h-1zM459 231h1v1h-1zM475 231h1v1h-1zM496 231h1v1h-1zM515 231h1v1h-1zM35 232h1v1h-1zM93 232h1v1h-1zM111 232h1v1h-1zM128 232h1v1h-1zM145 232h1v1h-1zM202 232h1v1h-1zM245 232h1v1h-1zM265 232h1v1h-1zM347 232h1v1h-1zM35 233h1v1h-1zM87 233h1v1h-1zM145 233h1v1h-1zM150 233h1v1h-1zM202 233h1v1h-1zM221 233h1v1h-1zM292 233h1v1h-1zM317 233h1v1h-1zM347 233h1v1h-1zM364 233h1v1h-1zM375 233h1v1h-1zM402 233h1v1h-1zM419 233h1v1h-1zM432 233h1v1h-1zM438 233h1v1h-1zM490 233h1v1h-1zM55 234h1v1h-1zM71 234h1v1h-1zM87 234h1v1h-1zM150 234h1v1h-1zM168 234h1v1h-1zM184 234h1v1h-1zM221 234h1v1h-1zM292 234h1v1h-1zM309 234h1v1h-1zM323 234h1v1h-1zM381 234h1v1h-1zM402 234h1v1h-1zM419 234h1v1h-1zM432 234h1v1h-1zM459 234h1v1h-1zM475 234h1v1h-1zM490 234h1v1h-1zM496 234h1v1h-1zM29 235h1v1h-1zM71 235h1v1h-1zM93 235h1v1h-1zM168 235h1v1h-1zM245 235h1v1h-1zM309 235h1v1h-1zM381 235h1v1h-1zM475 235h1v1h-1zM496 235h1v1h-1zM515 235h1v1h-1zM29 236h1v1h-1zM35 236h1v1h-1zM93 236h1v1h-1zM111 236h1v1h-1zM128 236h1v1h-1zM145 236h1v1h-1zM265 236h1v1h-1zM515 236h1v1h-1zM35 237h1v1h-1zM87 237h1v1h-1zM128 237h1v1h-1zM145 237h1v1h-1zM150 237h1v1h-1zM184 237h1v1h-1zM202 237h1v1h-1zM221 237h1v1h-1zM265 237h1v1h-1zM292 237h1v1h-1zM317 237h1v1h-1zM347 237h1v1h-1zM364 237h1v1h-1zM375 237h1v1h-1zM402 237h1v1h-1zM419 237h1v1h-1zM432 237h1v1h-1zM438 237h1v1h-1zM490 237h1v1h-1zM55 238h1v1h-1zM71 238h1v1h-1zM150 238h1v1h-1zM168 238h1v1h-1zM221 238h1v1h-1zM245 238h1v1h-1zM292 238h1v1h-1zM309 238h1v1h-1zM323 238h1v1h-1zM347 238h1v1h-1zM364 238h1v1h-1zM375 238h1v1h-1zM402 238h1v1h-1zM432 238h1v1h-1zM459 238h1v1h-1zM475 238h1v1h-1zM496 238h1v1h-1zM55 239h1v1h-1zM245 239h1v1h-1zM323 239h1v1h-1zM381 239h1v1h-1zM459 239h1v1h-1zM29 240h1v1h-1zM87 240h1v1h-1zM93 240h1v1h-1zM111 240h1v1h-1zM128 240h1v1h-1zM145 240h1v1h-1zM184 240h1v1h-1zM265 240h1v1h-1zM381 240h1v1h-1zM438 240h1v1h-1zM515 240h1v1h-1zM35 241h1v1h-1zM71 241h1v1h-1zM87 241h1v1h-1zM93 241h1v1h-1zM111 241h1v1h-1zM128 241h1v1h-1zM150 241h1v1h-1zM202 241h1v1h-1zM292 241h1v1h-1zM309 241h1v1h-1zM317 241h1v1h-1zM347 241h1v1h-1zM364 241h1v1h-1zM419 241h1v1h-1zM490 241h1v1h-1zM515 241h1v1h-1zM71 242h1v1h-1zM168 242h1v1h-1zM202 242h1v1h-1zM221 242h1v1h-1zM245 242h1v1h-1zM292 242h1v1h-1zM347 242h1v1h-1zM375 242h1v1h-1zM402 242h1v1h-1zM432 242h1v1h-1zM459 242h1v1h-1zM475 242h1v1h-1zM496 242h1v1h-1zM55 243h1v1h-1zM168 243h1v1h-1zM184 243h1v1h-1zM323 243h1v1h-1zM402 243h1v1h-1zM438 243h1v1h-1zM29 244h1v1h-1zM55 244h1v1h-1zM93 244h1v1h-1zM111 244h1v1h-1zM128 244h1v1h-1zM145 244h1v1h-1zM150 244h1v1h-1zM265 244h1v1h-1zM317 244h1v1h-1zM381 244h1v1h-1zM419 244h1v1h-1zM438 244h1v1h-1zM490 244h1v1h-1zM29 245h1v1h-1zM35 245h1v1h-1zM87 245h1v1h-1zM93 245h1v1h-1zM202 245h1v1h-1zM292 245h1v1h-1zM309 245h1v1h-1zM364 245h1v1h-1zM375 245h1v1h-1zM381 245h1v1h-1zM419 245h1v1h-1zM432 245h1v1h-1zM496 245h1v1h-1zM515 245h1v1h-1zM35 246h1v1h-1zM71 246h1v1h-1zM168 246h1v1h-1zM184 246h1v1h-1zM221 246h1v1h-1zM245 246h1v1h-1zM292 246h1v1h-1zM309 246h1v1h-1zM347 246h1v1h-1zM364 246h1v1h-1zM402 246h1v1h-1zM459 246h1v1h-1zM475 246h1v1h-1zM496 246h1v1h-1zM515 246h1v1h-1zM55 247h1v1h-1zM71 247h1v1h-1zM111 247h1v1h-1zM128 247h1v1h-1zM145 247h1v1h-1zM184 247h1v1h-1zM265 247h1v1h-1zM317 247h1v1h-1zM323 247h1v1h-1zM402 247h1v1h-1zM438 247h1v1h-1zM490 247h1v1h-1zM55 248h1v1h-1zM87 248h1v1h-1zM93 248h1v1h-1zM128 248h1v1h-1zM145 248h1v1h-1zM150 248h1v1h-1zM419 248h1v1h-1zM490 248h1v1h-1zM29 249h1v1h-1zM87 249h1v1h-1zM93 249h1v1h-1zM150 249h1v1h-1zM168 249h1v1h-1zM202 249h1v1h-1zM221 249h1v1h-1zM245 249h1v1h-1zM309 249h1v1h-1zM364 249h1v1h-1zM375 249h1v1h-1zM381 249h1v1h-1zM432 249h1v1h-1zM459 249h1v1h-1zM475 249h1v1h-1zM515 249h1v1h-1zM35 250h1v1h-1zM111 250h1v1h-1zM292 250h1v1h-1zM323 250h1v1h-1zM347 250h1v1h-1zM364 250h1v1h-1zM432 250h1v1h-1zM438 250h1v1h-1zM496 250h1v1h-1zM71 251h1v1h-1zM184 251h1v1h-1zM265 251h1v1h-1zM317 251h1v1h-1zM323 251h1v1h-1zM347 251h1v1h-1zM402 251h1v1h-1zM490 251h1v1h-1zM496 251h1v1h-1zM55 252h1v1h-1zM71 252h1v1h-1zM128 252h1v1h-1zM145 252h1v1h-1zM184 252h1v1h-1zM221 252h1v1h-1zM245 252h1v1h-1zM265 252h1v1h-1zM309 252h1v1h-1zM381 252h1v1h-1zM419 252h1v1h-1zM459 252h1v1h-1zM515 252h1v1h-1zM29 253h1v1h-1zM35 253h1v1h-1zM87 253h1v1h-1zM93 253h1v1h-1zM111 253h1v1h-1zM150 253h1v1h-1zM168 253h1v1h-1zM202 253h1v1h-1zM221 253h1v1h-1zM245 253h1v1h-1zM375 253h1v1h-1zM438 253h1v1h-1zM459 253h1v1h-1zM475 253h1v1h-1zM515 253h1v1h-1zM87 254h1v1h-1zM93 254h1v1h-1zM202 254h1v1h-1zM292 254h1v1h-1zM323 254h1v1h-1zM347 254h1v1h-1zM364 254h1v1h-1zM375 254h1v1h-1zM432 254h1v1h-1zM490 254h1v1h-1zM55 255h1v1h-1zM71 255h1v1h-1zM128 255h1v1h-1zM145 255h1v1h-1zM184 255h1v1h-1zM265 255h1v1h-1zM317 255h1v1h-1zM323 255h1v1h-1zM364 255h1v1h-1zM402 255h1v1h-1zM419 255h1v1h-1zM432 255h1v1h-1zM496 255h1v1h-1zM35 256h1v1h-1zM111 256h1v1h-1zM128 256h1v1h-1zM150 256h1v1h-1zM168 256h1v1h-1zM184 256h1v1h-1zM221 256h1v1h-1zM309 256h1v1h-1zM381 256h1v1h-1zM419 256h1v1h-1zM438 256h1v1h-1zM459 256h1v1h-1zM496 256h1v1h-1zM515 256h1v1h-1zM29 257h1v1h-1zM93 257h1v1h-1zM150 257h1v1h-1zM168 257h1v1h-1zM202 257h1v1h-1zM221 257h1v1h-1zM245 257h1v1h-1zM292 257h1v1h-1zM309 257h1v1h-1zM375 257h1v1h-1zM459 257h1v1h-1zM475 257h1v1h-1zM87 258h1v1h-1zM245 258h1v1h-1zM265 258h1v1h-1zM292 258h1v1h-1zM347 258h1v1h-1zM402 258h1v1h-1zM432 258h1v1h-1zM490 258h1v1h-1zM55 259h1v1h-1zM71 259h1v1h-1zM87 259h1v1h-1zM111 259h1v1h-1zM145 259h1v1h-1zM265 259h1v1h-1zM317 259h1v1h-1zM323 259h1v1h-1zM364 259h1v1h-1zM438 259h1v1h-1zM440 259h1v1h-1zM515 259h1v1h-1zM29 260h1v1h-1zM35 260h1v1h-1zM71 260h1v1h-1zM93 260h1v1h-1zM111 260h1v1h-1zM128 260h1v1h-1zM145 260h1v1h-1zM150 260h2v1h-2zM168 260h1v1h-1zM184 260h1v1h-1zM186 260h1v1h-1zM221 260h1v1h-1zM266 260h1v1h-1zM268 260h1v1h-1zM309 260h1v1h-1zM324 260h1v1h-1zM364 260h1v1h-1zM381 260h1v1h-1zM419 260h1v1h-1zM438 260h1v1h-1zM459 260h1v1h-1zM496 260h1v1h-1zM515 260h1v1h-1zM35 261h1v1h-1zM39 261h1v1h-1zM150 261h1v1h-1zM184 261h1v1h-1zM202 261h1v1h-1zM221 261h1v1h-1zM292 261h1v1h-1zM309 261h1v1h-1zM312 261h1v1h-1zM347 261h1v1h-1zM375 261h1v1h-1zM419 261h1v1h-1zM440 261h1v1h-1zM475 261h2v1h-2zM490 261h1v1h-1zM496 261h1v1h-1zM498 261h1v1h-1zM36 262h1v1h-1zM39 262h1v1h-1zM55 262h1v1h-1zM87 262h1v1h-1zM97 262h1v1h-1zM129 262h1v1h-1zM131 262h1v1h-1zM188 262h1v1h-1zM223 262h1v1h-1zM245 262h1v1h-1zM265 262h2v1h-2zM292 262h1v1h-1zM317 262h1v1h-1zM323 262h1v1h-1zM366 262h1v1h-1zM368 262h1v1h-1zM387 262h1v1h-1zM402 262h1v1h-1zM432 262h1v1h-1zM475 262h1v1h-1zM478 262h1v1h-1zM29 263h1v1h-1zM55 263h1v1h-1zM94 263h1v1h-1zM128 263h2v1h-2zM132 263h1v1h-1zM134 263h1v1h-1zM159 263h1v1h-1zM168 263h1v1h-1zM188 263h1v1h-1zM235 263h1v1h-1zM245 263h1v1h-1zM265 263h1v1h-1zM267 263h1v1h-1zM269 263h1v1h-1zM323 263h1v1h-1zM364 263h1v1h-1zM370 263h1v1h-1zM381 263h1v1h-1zM440 263h1v1h-1zM442 263h1v1h-1zM459 263h1v1h-1zM476 263h1v1h-1zM498 263h1v1h-1zM35 264h1v1h-1zM37 264h1v1h-1zM71 264h1v1h-1zM73 264h1v1h-1zM93 264h1v1h-1zM111 264h1v1h-1zM128 264h1v1h-1zM130 264h1v1h-1zM134 264h1v1h-1zM145 264h1v1h-1zM150 264h1v1h-1zM152 264h2v1h-2zM159 264h1v1h-1zM161 264h1v1h-1zM163 264h1v1h-1zM184 264h2v1h-2zM221 264h1v1h-1zM223 264h1v1h-1zM235 264h1v1h-1zM237 264h1v1h-1zM265 264h1v1h-1zM267 264h2v1h-2zM280 264h1v1h-1zM290 264h1v1h-1zM309 264h1v1h-1zM312 264h1v1h-1zM314 264h1v1h-1zM323 264h1v1h-1zM325 264h2v1h-2zM328 264h1v1h-1zM335 264h1v1h-1zM343 264h1v1h-1zM364 264h1v1h-1zM381 264h1v1h-1zM383 264h1v1h-1zM389 264h1v1h-1zM393 264h1v1h-1zM397 264h1v1h-1zM419 264h1v1h-1zM421 264h1v1h-1zM438 264h1v1h-1zM449 264h1v1h-1zM459 264h1v1h-1zM475 264h3v1h-3zM490 264h1v1h-1zM496 264h1v1h-1zM500 264h1v1h-1zM512 264h1v1h-1zM515 264h1v1h-1zM23 265h1v1h-1zM35 265h1v1h-1zM39 265h1v1h-1zM41 265h2v1h-2zM49 265h1v1h-1zM71 265h1v1h-1zM73 265h1v1h-1zM75 265h1v1h-1zM79 265h2v1h-2zM85 265h1v1h-1zM87 265h1v1h-1zM93 265h1v1h-1zM95 265h5v1h-5zM103 265h1v1h-1zM111 265h1v1h-1zM128 265h1v1h-1zM130 265h1v1h-1zM134 265h1v1h-1zM136 265h1v1h-1zM150 265h2v1h-2zM155 265h2v1h-2zM161 265h1v1h-1zM184 265h1v1h-1zM186 265h1v1h-1zM188 265h1v1h-1zM192 265h1v1h-1zM198 265h1v1h-1zM202 265h1v1h-1zM221 265h3v1h-3zM231 265h1v1h-1zM237 265h1v1h-1zM265 265h1v1h-1zM273 265h2v1h-2zM276 265h1v1h-1zM280 265h1v1h-1zM284 265h1v1h-1zM286 265h1v1h-1zM291 265h2v1h-2zM309 265h2v1h-2zM312 265h3v1h-3zM317 265h1v1h-1zM323 265h5v1h-5zM329 265h2v1h-2zM347 265h1v1h-1zM364 265h1v1h-1zM366 265h1v1h-1zM368 265h1v1h-1zM371 265h1v1h-1zM374 265h2v1h-2zM381 265h1v1h-1zM387 265h1v1h-1zM394 265h1v1h-1zM397 265h1v1h-1zM399 265h1v1h-1zM402 265h1v1h-1zM419 265h1v1h-1zM421 265h1v1h-1zM423 265h1v1h-1zM425 265h1v1h-1zM428 265h1v1h-1zM438 265h1v1h-1zM440 265h1v1h-1zM444 265h1v1h-1zM450 265h2v1h-2zM456 265h1v1h-1zM475 265h2v1h-2zM478 265h1v1h-1zM482 265h1v1h-1zM486 265h3v1h-3zM496 265h1v1h-1zM500 265h1v1h-1zM506 265h1v1h-1zM515 265h1v1h-1zM27 266h3v1h-3zM35 266h3v1h-3zM39 266h1v1h-1zM42 266h1v1h-1zM45 266h1v1h-1zM47 266h1v1h-1zM53 266h1v1h-1zM55 266h1v1h-1zM71 266h7v1h-7zM83 266h1v1h-1zM93 266h4v1h-4zM98 266h2v1h-2zM101 266h2v1h-2zM128 266h2v1h-2zM131 266h2v1h-2zM135 266h1v1h-1zM138 266h3v1h-3zM150 266h2v1h-2zM153 266h6v1h-6zM163 266h1v1h-1zM167 266h1v1h-1zM184 266h4v1h-4zM190 266h1v1h-1zM193 266h3v1h-3zM197 266h2v1h-2zM221 266h1v1h-1zM223 266h2v1h-2zM227 266h1v1h-1zM230 266h1v1h-1zM233 266h1v1h-1zM236 266h1v1h-1zM241 266h2v1h-2zM245 266h1v1h-1zM265 266h2v1h-2zM268 266h2v1h-2zM273 266h1v1h-1zM278 266h1v1h-1zM281 266h1v1h-1zM286 266h1v1h-1zM290 266h1v1h-1zM309 266h2v1h-2zM312 266h1v1h-1zM314 266h1v1h-1zM317 266h1v1h-1zM323 266h7v1h-7zM333 266h2v1h-2zM337 266h1v1h-1zM339 266h1v1h-1zM345 266h1v1h-1zM364 266h4v1h-4zM372 266h4v1h-4zM381 266h6v1h-6zM388 266h1v1h-1zM391 266h1v1h-1zM394 266h1v1h-1zM397 266h1v1h-1zM419 266h3v1h-3zM424 266h1v1h-1zM427 266h4v1h-4zM432 266h1v1h-1zM438 266h3v1h-3zM443 266h1v1h-1zM446 266h1v1h-1zM452 266h1v1h-1zM457 266h2v1h-2zM475 266h5v1h-5zM481 266h1v1h-1zM484 266h2v1h-2zM496 266h1v1h-1zM498 266h1v1h-1zM501 266h1v1h-1zM504 266h1v1h-1zM508 266h2v1h-2zM511 266h3v1h-3zM35 267h4v1h-4zM40 267h1v1h-1zM44 267h1v1h-1zM71 267h2v1h-2zM76 267h1v1h-1zM93 267h2v1h-2zM96 267h1v1h-1zM102 267h1v1h-1zM128 267h2v1h-2zM133 267h1v1h-1zM139 267h1v1h-1zM150 267h4v1h-4zM158 267h1v1h-1zM184 267h2v1h-2zM221 267h4v1h-4zM265 267h3v1h-3zM309 267h3v1h-3zM323 267h1v1h-1zM328 267h1v1h-1zM364 267h2v1h-2zM367 267h1v1h-1zM381 267h2v1h-2zM419 267h4v1h-4zM438 267h4v1h-4zM475 267h5v1h-5zM496 267h1v1h-1zM498 267h1v1h-1zM503 267h1v1h-1zM35 268h3v1h-3zM71 268h2v1h-2zM93 268h2v1h-2zM128 268h3v1h-3zM150 268h3v1h-3zM184 268h2v1h-2zM221 268h2v1h-2zM265 268h2v1h-2zM309 268h2v1h-2zM323 268h2v1h-2zM364 268h2v1h-2zM381 268h2v1h-2zM419 268h1v1h-1zM438 268h3v1h-3zM475 268h2v1h-2zM496 268h3v1h-3zM23 269h1v1h-1zM35 269h2v1h-2zM71 269h2v1h-2zM74 269h1v1h-1zM80 269h1v1h-1zM93 269h3v1h-3zM98 269h1v1h-1zM128 269h4v1h-4zM150 269h3v1h-3zM154 269h1v1h-1zM156 269h1v1h-1zM162 269h1v1h-1zM166 269h1v1h-1zM184 269h4v1h-4zM221 269h2v1h-2zM224 269h1v1h-1zM230 269h1v1h-1zM265 269h3v1h-3zM269 269h1v1h-1zM281 269h1v1h-1zM291 269h1v1h-1zM309 269h2v1h-2zM313 269h1v1h-1zM323 269h4v1h-4zM336 269h1v1h-1zM364 269h2v1h-2zM369 269h1v1h-1zM381 269h2v1h-2zM388 269h1v1h-1zM419 269h4v1h-4zM438 269h4v1h-4zM445 269h1v1h-1zM475 269h3v1h-3zM496 269h2v1h-2zM501 269h1v1h-1zM507 269h1v1h-1zM24 270h1v1h-1zM27 270h2v1h-2zM35 270h1v1h-1zM38 270h1v1h-1zM40 270h1v1h-1zM47 270h1v1h-1zM54 270h1v1h-1zM71 270h3v1h-3zM76 270h1v1h-1zM78 270h2v1h-2zM82 270h1v1h-1zM84 270h1v1h-1zM93 270h1v1h-1zM95 270h2v1h-2zM99 270h1v1h-1zM102 270h2v1h-2zM110 270h1v1h-1zM128 270h4v1h-4zM133 270h1v1h-1zM136 270h1v1h-1zM142 270h1v1h-1zM150 270h3v1h-3zM154 270h2v1h-2zM157 270h1v1h-1zM160 270h1v1h-1zM162 270h6v1h-6zM184 270h3v1h-3zM189 270h1v1h-1zM192 270h1v1h-1zM197 270h1v1h-1zM201 270h1v1h-1zM221 270h2v1h-2zM225 270h2v1h-2zM228 270h1v1h-1zM235 270h1v1h-1zM239 270h1v1h-1zM243 270h1v1h-1zM265 270h2v1h-2zM268 270h2v1h-2zM271 270h4v1h-4zM280 270h1v1h-1zM282 270h3v1h-3zM286 270h3v1h-3zM309 270h3v1h-3zM315 270h1v1h-1zM323 270h3v1h-3zM328 270h2v1h-2zM331 270h1v1h-1zM337 270h1v1h-1zM339 270h1v1h-1zM343 270h2v1h-2zM364 270h1v1h-1zM366 270h2v1h-2zM369 270h1v1h-1zM371 270h1v1h-1zM381 270h1v1h-1zM384 270h1v1h-1zM390 270h2v1h-2zM393 270h1v1h-1zM398 270h1v1h-1zM419 270h1v1h-1zM421 270h1v1h-1zM425 270h1v1h-1zM428 270h1v1h-1zM438 270h1v1h-1zM440 270h2v1h-2zM443 270h3v1h-3zM447 270h2v1h-2zM452 270h1v1h-1zM454 270h1v1h-1zM456 270h1v1h-1zM458 270h1v1h-1zM475 270h2v1h-2zM486 270h1v1h-1zM488 270h1v1h-1zM496 270h2v1h-2zM499 270h1v1h-1zM502 270h3v1h-3zM509 270h1v1h-1zM512 270h1v1h-1zM26 271h1v1h-1zM28 271h1v1h-1zM35 271h1v1h-1zM37 271h1v1h-1zM45 271h1v1h-1zM47 271h1v1h-1zM49 271h1v1h-1zM71 271h3v1h-3zM75 271h1v1h-1zM77 271h1v1h-1zM79 271h2v1h-2zM83 271h1v1h-1zM93 271h3v1h-3zM97 271h1v1h-1zM100 271h3v1h-3zM105 271h1v1h-1zM128 271h1v1h-1zM131 271h2v1h-2zM140 271h1v1h-1zM150 271h3v1h-3zM157 271h1v1h-1zM160 271h2v1h-2zM163 271h1v1h-1zM184 271h1v1h-1zM186 271h1v1h-1zM188 271h1v1h-1zM190 271h2v1h-2zM198 271h1v1h-1zM221 271h1v1h-1zM223 271h1v1h-1zM225 271h3v1h-3zM233 271h1v1h-1zM237 271h1v1h-1zM239 271h1v1h-1zM241 271h1v1h-1zM265 271h4v1h-4zM270 271h1v1h-1zM276 271h1v1h-1zM284 271h1v1h-1zM286 271h1v1h-1zM309 271h2v1h-2zM314 271h1v1h-1zM316 271h1v1h-1zM323 271h1v1h-1zM325 271h6v1h-6zM334 271h1v1h-1zM337 271h1v1h-1zM364 271h1v1h-1zM366 271h1v1h-1zM368 271h3v1h-3zM372 271h1v1h-1zM381 271h1v1h-1zM383 271h3v1h-3zM387 271h1v1h-1zM419 271h1v1h-1zM421 271h1v1h-1zM424 271h2v1h-2zM427 271h1v1h-1zM429 271h1v1h-1zM438 271h1v1h-1zM440 271h1v1h-1zM442 271h1v1h-1zM446 271h1v1h-1zM448 271h1v1h-1zM452 271h1v1h-1zM475 271h1v1h-1zM480 271h1v1h-1zM483 271h3v1h-3zM496 271h3v1h-3zM502 271h1v1h-1zM504 271h1v1h-1zM506 271h1v1h-1zM511 271h1v1h-1zM35 272h1v1h-1zM37 272h1v1h-1zM39 272h1v1h-1zM71 272h1v1h-1zM81 272h1v1h-1zM93 272h1v1h-1zM95 272h1v1h-1zM107 272h1v1h-1zM128 272h1v1h-1zM150 272h1v1h-1zM153 272h1v1h-1zM184 272h1v1h-1zM200 272h1v1h-1zM221 272h2v1h-2zM265 272h2v1h-2zM268 272h1v1h-1zM271 272h1v1h-1zM274 272h1v1h-1zM309 272h2v1h-2zM314 272h1v1h-1zM323 272h1v1h-1zM345 272h1v1h-1zM364 272h1v1h-1zM374 272h1v1h-1zM381 272h1v1h-1zM384 272h1v1h-1zM399 272h1v1h-1zM419 272h3v1h-3zM423 272h1v1h-1zM425 272h1v1h-1zM438 272h2v1h-2zM441 272h2v1h-2zM475 272h1v1h-1zM486 272h1v1h-1zM488 272h1v1h-1zM496 272h1v1h-1zM498 272h1v1h-1zM24 273h1v1h-1zM35 273h1v1h-1zM51 273h1v1h-1zM71 273h1v1h-1zM75 273h1v1h-1zM93 273h2v1h-2zM97 273h1v1h-1zM99 273h1v1h-1zM128 273h1v1h-1zM150 273h1v1h-1zM184 273h1v1h-1zM190 273h1v1h-1zM221 273h1v1h-1zM227 273h1v1h-1zM265 273h1v1h-1zM309 273h2v1h-2zM323 273h1v1h-1zM337 273h1v1h-1zM364 273h1v1h-1zM366 273h1v1h-1zM381 273h1v1h-1zM385 273h1v1h-1zM419 273h1v1h-1zM438 273h1v1h-1zM475 273h1v1h-1zM480 273h1v1h-1zM496 273h1v1h-1zM35 274h1v1h-1zM71 274h1v1h-1zM73 274h1v1h-1zM93 274h3v1h-3zM128 274h1v1h-1zM150 274h2v1h-2zM153 274h1v1h-1zM184 274h1v1h-1zM186 274h1v1h-1zM221 274h1v1h-1zM265 274h1v1h-1zM309 274h3v1h-3zM323 274h1v1h-1zM364 274h1v1h-1zM381 274h1v1h-1zM419 274h1v1h-1zM423 274h1v1h-1zM438 274h1v1h-1zM440 274h1v1h-1zM475 274h2v1h-2zM496 274h1v1h-1zM35 275h1v1h-1zM71 275h1v1h-1zM93 275h1v1h-1zM95 275h1v1h-1zM128 275h1v1h-1zM150 275h1v1h-1zM184 275h1v1h-1zM188 275h1v1h-1zM221 275h2v1h-2zM265 275h1v1h-1zM309 275h1v1h-1zM323 275h1v1h-1zM364 275h2v1h-2zM381 275h1v1h-1zM419 275h1v1h-1zM438 275h1v1h-1zM475 275h1v1h-1zM496 275h1v1h-1zM35 276h1v1h-1zM71 276h1v1h-1zM93 276h1v1h-1zM128 276h1v1h-1zM150 276h1v1h-1zM184 276h1v1h-1zM221 276h1v1h-1zM265 276h1v1h-1zM309 276h2v1h-2zM323 276h1v1h-1zM364 276h1v1h-1zM381 276h1v1h-1zM383 276h1v1h-1zM419 276h1v1h-1zM438 276h1v1h-1zM475 276h1v1h-1zM496 276h1v1h-1zM35 277h1v1h-1zM71 277h1v1h-1zM93 277h1v1h-1zM128 277h1v1h-1zM150 277h1v1h-1zM184 277h1v1h-1zM221 277h1v1h-1zM265 277h1v1h-1zM309 277h1v1h-1zM323 277h1v1h-1zM364 277h1v1h-1zM381 277h1v1h-1zM419 277h1v1h-1zM438 277h1v1h-1zM475 277h1v1h-1zM496 277h1v1h-1zM35 278h1v1h-1zM71 278h1v1h-1zM93 278h1v1h-1zM128 278h1v1h-1zM150 278h1v1h-1zM184 278h1v1h-1zM221 278h1v1h-1zM265 278h1v1h-1zM309 278h1v1h-1zM323 278h1v1h-1zM364 278h1v1h-1zM381 278h1v1h-1zM419 278h1v1h-1zM438 278h1v1h-1zM475 278h1v1h-1zM496 278h1v1h-1zM35 279h1v1h-1zM71 279h1v1h-1zM93 279h1v1h-1zM128 279h1v1h-1zM150 279h2v1h-2zM184 279h1v1h-1zM221 279h1v1h-1zM265 279h1v1h-1zM309 279h1v1h-1zM323 279h1v1h-1zM364 279h1v1h-1zM381 279h1v1h-1zM419 279h1v1h-1zM438 279h1v1h-1zM475 279h1v1h-1zM496 279h1v1h-1zM35 280h1v1h-1zM71 280h1v1h-1zM93 280h1v1h-1zM128 280h1v1h-1zM150 280h1v1h-1zM184 280h1v1h-1zM221 280h1v1h-1zM265 280h1v1h-1zM309 280h1v1h-1zM323 280h1v1h-1zM364 280h1v1h-1zM381 280h1v1h-1zM419 280h1v1h-1zM438 280h1v1h-1zM475 280h1v1h-1zM496 280h1v1h-1zM35 281h1v1h-1zM71 281h1v1h-1zM93 281h1v1h-1zM128 281h1v1h-1zM150 281h1v1h-1zM184 281h1v1h-1zM221 281h1v1h-1zM265 281h1v1h-1zM309 281h1v1h-1zM323 281h1v1h-1zM364 281h1v1h-1zM381 281h1v1h-1zM419 281h1v1h-1zM438 281h1v1h-1zM475 281h1v1h-1zM496 281h1v1h-1zM35 282h1v1h-1zM71 282h1v1h-1zM93 282h1v1h-1zM128 282h1v1h-1zM150 282h1v1h-1zM184 282h1v1h-1zM221 282h1v1h-1zM265 282h1v1h-1zM309 282h1v1h-1zM323 282h1v1h-1zM364 282h1v1h-1zM381 282h1v1h-1zM419 282h1v1h-1zM438 282h1v1h-1zM475 282h1v1h-1zM496 282h1v1h-1zM35 283h1v1h-1zM71 283h1v1h-1zM93 283h1v1h-1zM128 283h1v1h-1zM150 283h1v1h-1zM184 283h1v1h-1zM221 283h1v1h-1zM265 283h1v1h-1zM309 283h1v1h-1zM323 283h1v1h-1zM364 283h1v1h-1zM381 283h1v1h-1zM419 283h1v1h-1zM438 283h1v1h-1zM475 283h1v1h-1zM496 283h1v1h-1zM35 284h1v1h-1zM71 284h1v1h-1zM93 284h1v1h-1zM128 284h1v1h-1zM150 284h1v1h-1zM184 284h1v1h-1zM221 284h1v1h-1zM265 284h1v1h-1zM309 284h1v1h-1zM323 284h1v1h-1zM364 284h1v1h-1zM381 284h1v1h-1zM419 284h1v1h-1zM438 284h1v1h-1zM475 284h1v1h-1zM496 284h1v1h-1zM35 285h1v1h-1zM71 285h1v1h-1zM93 285h1v1h-1zM128 285h1v1h-1zM150 285h1v1h-1zM184 285h1v1h-1zM221 285h1v1h-1zM265 285h1v1h-1zM309 285h1v1h-1zM323 285h1v1h-1zM364 285h1v1h-1zM381 285h1v1h-1zM419 285h1v1h-1zM438 285h1v1h-1zM475 285h1v1h-1zM496 285h1v1h-1zM35 286h1v1h-1zM71 286h1v1h-1zM93 286h1v1h-1zM128 286h1v1h-1zM150 286h1v1h-1zM184 286h1v1h-1zM221 286h1v1h-1zM265 286h1v1h-1zM309 286h1v1h-1zM323 286h1v1h-1zM364 286h1v1h-1zM381 286h1v1h-1zM419 286h1v1h-1zM438 286h1v1h-1zM475 286h1v1h-1zM496 286h1v1h-1zM35 287h1v1h-1zM71 287h1v1h-1zM93 287h1v1h-1zM128 287h1v1h-1zM150 287h1v1h-1zM184 287h1v1h-1zM221 287h1v1h-1zM265 287h1v1h-1zM309 287h1v1h-1zM323 287h1v1h-1zM364 287h1v1h-1zM381 287h1v1h-1zM419 287h1v1h-1zM438 287h1v1h-1zM475 287h1v1h-1zM496 287h1v1h-1zM35 288h1v1h-1zM71 288h1v1h-1zM93 288h1v1h-1zM128 288h1v1h-1zM150 288h1v1h-1zM184 288h1v1h-1zM221 288h1v1h-1zM265 288h1v1h-1zM309 288h1v1h-1zM323 288h1v1h-1zM364 288h1v1h-1zM381 288h1v1h-1zM419 288h1v1h-1zM438 288h1v1h-1zM475 288h1v1h-1zM496 288h1v1h-1zM35 289h1v1h-1zM71 289h1v1h-1zM93 289h1v1h-1zM128 289h1v1h-1zM150 289h1v1h-1zM184 289h1v1h-1zM221 289h1v1h-1zM265 289h1v1h-1zM309 289h1v1h-1zM323 289h1v1h-1zM364 289h1v1h-1zM381 289h1v1h-1zM419 289h1v1h-1zM438 289h1v1h-1zM475 289h1v1h-1zM496 289h1v1h-1zM35 290h1v1h-1zM71 290h1v1h-1zM93 290h1v1h-1zM128 290h1v1h-1zM150 290h1v1h-1zM184 290h1v1h-1zM221 290h1v1h-1zM265 290h1v1h-1zM309 290h1v1h-1zM323 290h1v1h-1zM364 290h1v1h-1zM381 290h1v1h-1zM419 290h1v1h-1zM438 290h1v1h-1zM475 290h1v1h-1zM496 290h1v1h-1zM35 291h1v1h-1zM71 291h1v1h-1zM93 291h1v1h-1zM128 291h1v1h-1zM150 291h1v1h-1zM184 291h1v1h-1zM221 291h1v1h-1zM265 291h1v1h-1zM309 291h1v1h-1zM323 291h1v1h-1zM364 291h1v1h-1zM381 291h1v1h-1zM419 291h1v1h-1zM438 291h1v1h-1zM475 291h1v1h-1zM496 291h1v1h-1z"/>
<path fill="rgb(152, 152, 255)" d="M250 164h1v1h-1zM61 165h1v1h-1zM69 165h1v1h-1zM121 165h1v1h-1zM123 165h1v1h-1zM176 165h1v1h-1zM180 165h1v1h-1zM208 165h1v1h-1zM212 165h1v1h-1zM216 165h1v1h-1zM220 165h1v1h-1zM250 165h1v1h-1zM254 165h1v1h-1zM256 165h1v1h-1zM260 165h1v1h-1zM298 165h1v1h-1zM304 165h1v1h-1zM306 165h1v1h-1zM350 165h1v1h-1zM352 165h1v1h-1zM354 165h1v1h-1zM356 165h1v1h-1zM358 165h1v1h-1zM360 165h1v1h-1zM362 165h1v1h-1zM407 165h1v1h-1zM411 165h1v1h-1zM413 165h1v1h-1zM417 165h1v1h-1zM463 165h1v1h-1zM469 165h1v1h-1zM471 165h1v1h-1zM520 165h1v1h-1zM59 166h1v1h-1zM61 166h2v1h-2zM64 166h1v1h-1zM68 166h1v1h-1zM115 166h1v1h-1zM117 166h1v1h-1zM121 166h2v1h-2zM126 166h1v1h-1zM172 166h3v1h-3zM177 166h1v1h-1zM181 166h1v1h-1zM183 166h1v1h-1zM211 166h5v1h-5zM219 166h1v1h-1zM248 166h2v1h-2zM251 166h1v1h-1zM255 166h1v1h-1zM257 166h1v1h-1zM296 166h1v1h-1zM298 166h1v1h-1zM301 166h1v1h-1zM303 166h1v1h-1zM305 166h1v1h-1zM307 166h1v1h-1zM350 166h1v1h-1zM352 166h1v1h-1zM355 166h1v1h-1zM359 166h1v1h-1zM361 166h1v1h-1zM405 166h3v1h-3zM409 166h2v1h-2zM412 166h1v1h-1zM414 166h1v1h-1zM416 166h1v1h-1zM418 166h1v1h-1zM463 166h3v1h-3zM471 166h4v1h-4zM520 166h1v1h-1zM522 166h1v1h-1zM58 167h1v1h-1zM60 167h1v1h-1zM64 167h1v1h-1zM114 167h1v1h-1zM117 167h2v1h-2zM172 167h1v1h-1zM204 167h1v1h-1zM208 167h1v1h-1zM210 167h1v1h-1zM250 167h3v1h-3zM296 167h1v1h-1zM350 167h2v1h-2zM353 167h1v1h-1zM405 167h1v1h-1zM462 167h3v1h-3zM519 167h3v1h-3zM59 168h1v1h-1zM63 168h1v1h-1zM68 168h1v1h-1zM70 168h1v1h-1zM114 168h1v1h-1zM117 168h1v1h-1zM119 168h4v1h-4zM124 168h1v1h-1zM127 168h1v1h-1zM171 168h1v1h-1zM173 168h1v1h-1zM175 168h1v1h-1zM181 168h1v1h-1zM204 168h1v1h-1zM208 168h3v1h-3zM213 168h1v1h-1zM217 168h1v1h-1zM250 168h2v1h-2zM258 168h2v1h-2zM261 168h1v1h-1zM263 168h1v1h-1zM295 168h3v1h-3zM299 168h2v1h-2zM303 168h1v1h-1zM305 168h1v1h-1zM350 168h2v1h-2zM355 168h1v1h-1zM357 168h3v1h-3zM361 168h1v1h-1zM363 168h1v1h-1zM407 168h4v1h-4zM414 168h1v1h-1zM463 168h1v1h-1zM468 168h1v1h-1zM474 168h1v1h-1zM518 168h1v1h-1zM520 168h3v1h-3zM59 169h1v1h-1zM63 169h1v1h-1zM65 169h1v1h-1zM67 169h1v1h-1zM115 169h1v1h-1zM119 169h1v1h-1zM121 169h1v1h-1zM125 169h1v1h-1zM127 169h1v1h-1zM174 169h1v1h-1zM176 169h1v1h-1zM178 169h1v1h-1zM182 169h1v1h-1zM210 169h1v1h-1zM214 169h1v1h-1zM216 169h1v1h-1zM220 169h1v1h-1zM258 169h1v1h-1zM260 169h1v1h-1zM263 169h1v1h-1zM297 169h2v1h-2zM302 169h1v1h-1zM304 169h1v1h-1zM306 169h1v1h-1zM308 169h1v1h-1zM352 169h1v1h-1zM354 169h1v1h-1zM360 169h1v1h-1zM362 169h1v1h-1zM405 169h1v1h-1zM411 169h1v1h-1zM413 169h1v1h-1zM415 169h1v1h-1zM417 169h1v1h-1zM434 169h1v1h-1zM471 169h1v1h-1zM518 169h1v1h-1zM522 169h1v1h-1zM409 170h1v1h-1zM204 171h1v1h-1zM147 173h1v1h-1zM263 173h1v1h-1zM147 174h1v1h-1zM263 174h2v1h-2zM434 174h1v1h-1zM492 174h1v1h-1zM263 175h2v1h-2zM32 177h1v1h-1zM92 177h1v1h-1zM263 177h2v1h-2zM377 177h1v1h-1zM204 178h2v1h-2zM263 178h1v1h-1zM379 178h1v1h-1zM437 178h1v1h-1zM492 178h1v1h-1zM32 179h1v1h-1zM89 179h1v1h-1zM92 179h1v1h-1zM148 179h2v1h-2zM206 179h1v1h-1zM263 179h2v1h-2zM437 179h1v1h-1zM32 180h2v1h-2zM89 180h1v1h-1zM205 180h2v1h-2zM322 180h1v1h-1zM379 180h2v1h-2zM437 180h1v1h-1zM495 180h1v1h-1zM33 181h1v1h-1zM90 181h1v1h-1zM149 181h1v1h-1zM264 181h1v1h-1zM321 181h1v1h-1zM378 181h1v1h-1zM380 181h1v1h-1zM435 181h3v1h-3zM31 182h2v1h-2zM89 182h1v1h-1zM92 182h1v1h-1zM205 182h2v1h-2zM264 182h1v1h-1zM320 182h1v1h-1zM377 182h1v1h-1zM379 182h2v1h-2zM434 182h1v1h-1zM436 182h1v1h-1zM493 182h2v1h-2zM33 183h2v1h-2zM91 183h1v1h-1zM204 183h1v1h-1zM206 183h1v1h-1zM321 183h2v1h-2zM378 183h2v1h-2zM435 183h3v1h-3zM493 183h2v1h-2zM32 184h3v1h-3zM90 184h1v1h-1zM92 184h1v1h-1zM147 184h2v1h-2zM205 184h2v1h-2zM264 184h1v1h-1zM319 184h1v1h-1zM321 184h1v1h-1zM379 184h2v1h-2zM436 184h1v1h-1zM495 184h1v1h-1zM31 185h1v1h-1zM90 185h1v1h-1zM204 185h3v1h-3zM264 185h1v1h-1zM377 185h2v1h-2zM380 185h1v1h-1zM435 185h1v1h-1zM437 185h1v1h-1zM495 185h1v1h-1zM91 186h2v1h-2zM147 186h2v1h-2zM205 186h2v1h-2zM264 186h1v1h-1zM321 186h2v1h-2zM378 186h1v1h-1zM494 186h2v1h-2zM33 187h1v1h-1zM92 187h1v1h-1zM148 187h2v1h-2zM205 187h1v1h-1zM264 187h1v1h-1zM321 187h2v1h-2zM378 187h3v1h-3zM437 187h1v1h-1zM493 187h3v1h-3zM149 188h1v1h-1zM206 188h1v1h-1zM320 188h1v1h-1zM322 188h1v1h-1zM377 188h2v1h-2zM435 188h1v1h-1zM494 188h1v1h-1zM31 189h1v1h-1zM34 189h1v1h-1zM92 189h1v1h-1zM147 189h1v1h-1zM204 189h2v1h-2zM264 189h1v1h-1zM320 189h2v1h-2zM378 189h1v1h-1zM380 189h1v1h-1zM435 189h3v1h-3zM494 189h1v1h-1zM33 190h2v1h-2zM149 190h1v1h-1zM322 190h1v1h-1zM378 190h3v1h-3zM437 190h1v1h-1zM493 190h1v1h-1zM33 191h1v1h-1zM91 191h1v1h-1zM379 191h2v1h-2zM493 191h1v1h-1zM495 191h1v1h-1zM34 192h1v1h-1zM90 192h1v1h-1zM204 192h1v1h-1zM380 192h1v1h-1zM437 192h1v1h-1zM495 192h1v1h-1zM495 193h1v1h-1zM90 194h1v1h-1zM37 265h1v1h-1zM225 265h1v1h-1zM268 265h1v1h-1zM22 266h2v1h-2zM26 266h1v1h-1zM41 266h1v1h-1zM43 266h1v1h-1zM49 266h1v1h-1zM51 266h1v1h-1zM79 266h1v1h-1zM81 266h1v1h-1zM85 266h1v1h-1zM97 266h1v1h-1zM103 266h1v1h-1zM105 266h1v1h-1zM107 266h1v1h-1zM109 266h1v1h-1zM130 266h1v1h-1zM134 266h1v1h-1zM136 266h1v1h-1zM142 266h1v1h-1zM144 266h1v1h-1zM159 266h1v1h-1zM161 266h1v1h-1zM165 266h1v1h-1zM188 266h1v1h-1zM192 266h1v1h-1zM196 266h1v1h-1zM200 266h1v1h-1zM225 266h1v1h-1zM229 266h1v1h-1zM231 266h1v1h-1zM235 266h1v1h-1zM237 266h1v1h-1zM239 266h1v1h-1zM243 266h1v1h-1zM270 266h1v1h-1zM272 266h1v1h-1zM274 266h1v1h-1zM276 266h1v1h-1zM280 266h1v1h-1zM282 266h1v1h-1zM284 266h1v1h-1zM288 266h1v1h-1zM313 266h1v1h-1zM316 266h1v1h-1zM335 266h1v1h-1zM341 266h1v1h-1zM343 266h1v1h-1zM368 266h3v1h-3zM389 266h1v1h-1zM393 266h1v1h-1zM395 266h1v1h-1zM399 266h1v1h-1zM401 266h1v1h-1zM423 266h1v1h-1zM425 266h1v1h-1zM431 266h1v1h-1zM442 266h1v1h-1zM444 266h1v1h-1zM448 266h1v1h-1zM450 266h1v1h-1zM454 266h1v1h-1zM456 266h1v1h-1zM480 266h1v1h-1zM486 266h1v1h-1zM488 266h1v1h-1zM500 266h1v1h-1zM502 266h1v1h-1zM506 266h1v1h-1zM510 266h1v1h-1zM514 266h1v1h-1zM22 267h1v1h-1zM25 267h1v1h-1zM27 267h1v1h-1zM39 267h1v1h-1zM41 267h3v1h-3zM48 267h1v1h-1zM50 267h2v1h-2zM73 267h3v1h-3zM77 267h2v1h-2zM81 267h2v1h-2zM85 267h1v1h-1zM95 267h1v1h-1zM101 267h1v1h-1zM108 267h1v1h-1zM130 267h2v1h-2zM134 267h2v1h-2zM138 267h1v1h-1zM154 267h2v1h-2zM164 267h1v1h-1zM186 267h4v1h-4zM191 267h1v1h-1zM193 267h1v1h-1zM195 267h1v1h-1zM201 267h1v1h-1zM225 267h4v1h-4zM230 267h1v1h-1zM232 267h1v1h-1zM238 267h1v1h-1zM240 267h2v1h-2zM268 267h1v1h-1zM270 267h2v1h-2zM275 267h1v1h-1zM277 267h1v1h-1zM279 267h2v1h-2zM283 267h1v1h-1zM285 267h1v1h-1zM287 267h1v1h-1zM289 267h1v1h-1zM291 267h1v1h-1zM313 267h3v1h-3zM324 267h3v1h-3zM329 267h1v1h-1zM332 267h3v1h-3zM336 267h2v1h-2zM342 267h1v1h-1zM344 267h1v1h-1zM346 267h1v1h-1zM366 267h1v1h-1zM368 267h2v1h-2zM371 267h1v1h-1zM373 267h1v1h-1zM383 267h4v1h-4zM390 267h1v1h-1zM392 267h1v1h-1zM394 267h1v1h-1zM396 267h1v1h-1zM398 267h1v1h-1zM401 267h1v1h-1zM423 267h2v1h-2zM428 267h1v1h-1zM430 267h2v1h-2zM445 267h1v1h-1zM447 267h2v1h-2zM451 267h1v1h-1zM453 267h1v1h-1zM455 267h1v1h-1zM480 267h1v1h-1zM483 267h1v1h-1zM486 267h1v1h-1zM489 267h1v1h-1zM499 267h1v1h-1zM504 267h2v1h-2zM509 267h1v1h-1zM512 267h1v1h-1zM21 268h1v1h-1zM39 268h1v1h-1zM73 268h1v1h-1zM95 268h2v1h-2zM98 268h1v1h-1zM131 268h1v1h-1zM155 268h1v1h-1zM186 268h2v1h-2zM190 268h2v1h-2zM223 268h3v1h-3zM267 268h3v1h-3zM311 268h1v1h-1zM313 268h1v1h-1zM316 268h1v1h-1zM325 268h1v1h-1zM366 268h3v1h-3zM383 268h3v1h-3zM387 268h1v1h-1zM420 268h2v1h-2zM441 268h1v1h-1zM477 268h3v1h-3zM499 268h1v1h-1zM501 268h1v1h-1zM22 269h1v1h-1zM24 269h1v1h-1zM37 269h3v1h-3zM41 269h2v1h-2zM46 269h1v1h-1zM48 269h1v1h-1zM50 269h1v1h-1zM52 269h1v1h-1zM54 269h1v1h-1zM73 269h1v1h-1zM75 269h2v1h-2zM79 269h1v1h-1zM81 269h1v1h-1zM84 269h1v1h-1zM86 269h1v1h-1zM96 269h2v1h-2zM99 269h1v1h-1zM104 269h1v1h-1zM108 269h1v1h-1zM110 269h1v1h-1zM132 269h1v1h-1zM135 269h1v1h-1zM137 269h1v1h-1zM141 269h1v1h-1zM143 269h1v1h-1zM153 269h1v1h-1zM155 269h1v1h-1zM160 269h1v1h-1zM189 269h1v1h-1zM191 269h4v1h-4zM201 269h1v1h-1zM223 269h1v1h-1zM225 269h2v1h-2zM228 269h1v1h-1zM234 269h1v1h-1zM236 269h3v1h-3zM240 269h1v1h-1zM242 269h1v1h-1zM268 269h1v1h-1zM270 269h1v1h-1zM275 269h1v1h-1zM279 269h2v1h-2zM285 269h1v1h-1zM289 269h1v1h-1zM311 269h2v1h-2zM327 269h1v1h-1zM329 269h2v1h-2zM332 269h1v1h-1zM334 269h2v1h-2zM338 269h1v1h-1zM342 269h1v1h-1zM344 269h1v1h-1zM366 269h2v1h-2zM371 269h1v1h-1zM383 269h2v1h-2zM386 269h1v1h-1zM392 269h1v1h-1zM398 269h3v1h-3zM423 269h4v1h-4zM428 269h1v1h-1zM430 269h2v1h-2zM443 269h1v1h-1zM446 269h1v1h-1zM450 269h1v1h-1zM455 269h1v1h-1zM480 269h2v1h-2zM487 269h3v1h-3zM498 269h3v1h-3zM502 269h1v1h-1zM505 269h2v1h-2zM511 269h3v1h-3zM21 270h2v1h-2zM26 270h1v1h-1zM37 270h1v1h-1zM39 270h1v1h-1zM41 270h1v1h-1zM43 270h1v1h-1zM45 270h1v1h-1zM49 270h1v1h-1zM51 270h1v1h-1zM53 270h1v1h-1zM75 270h1v1h-1zM81 270h1v1h-1zM83 270h1v1h-1zM85 270h1v1h-1zM97 270h1v1h-1zM101 270h1v1h-1zM105 270h1v1h-1zM107 270h1v1h-1zM109 270h1v1h-1zM132 270h1v1h-1zM138 270h1v1h-1zM140 270h1v1h-1zM144 270h1v1h-1zM153 270h1v1h-1zM159 270h1v1h-1zM161 270h1v1h-1zM188 270h1v1h-1zM190 270h1v1h-1zM194 270h1v1h-1zM196 270h1v1h-1zM198 270h1v1h-1zM200 270h1v1h-1zM223 270h1v1h-1zM227 270h1v1h-1zM229 270h1v1h-1zM231 270h1v1h-1zM233 270h1v1h-1zM237 270h1v1h-1zM241 270h1v1h-1zM270 270h1v1h-1zM276 270h1v1h-1zM278 270h1v1h-1zM290 270h1v1h-1zM312 270h1v1h-1zM314 270h1v1h-1zM316 270h1v1h-1zM327 270h1v1h-1zM333 270h1v1h-1zM335 270h1v1h-1zM341 270h1v1h-1zM345 270h1v1h-1zM368 270h1v1h-1zM370 270h1v1h-1zM372 270h1v1h-1zM374 270h1v1h-1zM383 270h1v1h-1zM385 270h1v1h-1zM387 270h1v1h-1zM389 270h1v1h-1zM395 270h1v1h-1zM397 270h1v1h-1zM399 270h1v1h-1zM401 270h1v1h-1zM422 270h2v1h-2zM427 270h1v1h-1zM429 270h1v1h-1zM431 270h1v1h-1zM442 270h1v1h-1zM446 270h1v1h-1zM450 270h1v1h-1zM478 270h3v1h-3zM482 270h1v1h-1zM484 270h1v1h-1zM498 270h1v1h-1zM500 270h1v1h-1zM506 270h1v1h-1zM508 270h1v1h-1zM510 270h1v1h-1zM514 270h1v1h-1zM39 271h1v1h-1zM153 271h1v1h-1zM423 271h1v1h-1zM478 271h1v1h-1z"/>
<path fill="rgb(122, 122, 255)" d="M117 165h1v1h-1zM174 165h1v1h-1zM218 165h1v1h-1zM300 165h1v1h-1zM63 166h1v1h-1zM66 166h2v1h-2zM69 166h2v1h-2zM118 166h2v1h-2zM123 166h3v1h-3zM127 166h1v1h-1zM175 166h2v1h-2zM178 166h2v1h-2zM210 166h1v1h-1zM216 166h3v1h-3zM250 166h1v1h-1zM252 166h1v1h-1zM254 166h1v1h-1zM258 166h1v1h-1zM260 166h2v1h-2zM299 166h1v1h-1zM302 166h1v1h-1zM304 166h1v1h-1zM308 166h1v1h-1zM354 166h1v1h-1zM357 166h2v1h-2zM363 166h1v1h-1zM408 166h1v1h-1zM411 166h1v1h-1zM413 166h1v1h-1zM415 166h1v1h-1zM467 166h2v1h-2zM470 166h1v1h-1zM521 166h1v1h-1zM61 167h3v1h-3zM116 167h1v1h-1zM122 167h1v1h-1zM125 167h2v1h-2zM173 167h1v1h-1zM175 167h2v1h-2zM179 167h3v1h-3zM183 167h1v1h-1zM211 167h2v1h-2zM214 167h1v1h-1zM220 167h1v1h-1zM256 167h1v1h-1zM260 167h1v1h-1zM297 167h3v1h-3zM301 167h1v1h-1zM305 167h1v1h-1zM352 167h1v1h-1zM355 167h1v1h-1zM359 167h1v1h-1zM362 167h2v1h-2zM407 167h3v1h-3zM414 167h1v1h-1zM465 167h1v1h-1zM467 167h3v1h-3zM473 167h1v1h-1zM61 168h1v1h-1zM64 168h2v1h-2zM69 168h1v1h-1zM125 168h2v1h-2zM172 168h1v1h-1zM174 168h1v1h-1zM176 168h4v1h-4zM183 168h1v1h-1zM212 168h1v1h-1zM214 168h1v1h-1zM216 168h1v1h-1zM219 168h2v1h-2zM252 168h3v1h-3zM256 168h2v1h-2zM260 168h1v1h-1zM298 168h1v1h-1zM304 168h1v1h-1zM306 168h2v1h-2zM352 168h3v1h-3zM356 168h1v1h-1zM362 168h1v1h-1zM411 168h1v1h-1zM415 168h1v1h-1zM465 168h3v1h-3zM469 168h1v1h-1zM471 168h3v1h-3zM252 169h1v1h-1zM358 169h1v1h-1zM409 169h1v1h-1zM465 169h1v1h-1zM24 266h1v1h-1zM331 266h1v1h-1zM387 266h1v1h-1zM482 266h1v1h-1zM26 267h1v1h-1zM28 267h1v1h-1zM45 267h3v1h-3zM49 267h1v1h-1zM52 267h3v1h-3zM79 267h2v1h-2zM84 267h1v1h-1zM86 267h1v1h-1zM97 267h4v1h-4zM103 267h2v1h-2zM106 267h2v1h-2zM110 267h1v1h-1zM132 267h1v1h-1zM137 267h1v1h-1zM141 267h1v1h-1zM143 267h2v1h-2zM156 267h2v1h-2zM159 267h2v1h-2zM162 267h1v1h-1zM166 267h1v1h-1zM190 267h1v1h-1zM192 267h1v1h-1zM194 267h1v1h-1zM197 267h4v1h-4zM229 267h1v1h-1zM233 267h3v1h-3zM237 267h1v1h-1zM239 267h1v1h-1zM242 267h3v1h-3zM269 267h1v1h-1zM272 267h3v1h-3zM281 267h1v1h-1zM284 267h1v1h-1zM312 267h1v1h-1zM316 267h1v1h-1zM327 267h1v1h-1zM330 267h2v1h-2zM335 267h1v1h-1zM338 267h1v1h-1zM340 267h1v1h-1zM345 267h1v1h-1zM370 267h1v1h-1zM372 267h1v1h-1zM374 267h1v1h-1zM388 267h2v1h-2zM391 267h1v1h-1zM397 267h1v1h-1zM399 267h2v1h-2zM425 267h3v1h-3zM442 267h3v1h-3zM446 267h1v1h-1zM449 267h1v1h-1zM452 267h1v1h-1zM457 267h2v1h-2zM481 267h2v1h-2zM484 267h2v1h-2zM487 267h2v1h-2zM500 267h3v1h-3zM507 267h2v1h-2zM511 267h1v1h-1zM513 267h1v1h-1zM27 268h1v1h-1zM38 268h1v1h-1zM41 268h2v1h-2zM44 268h1v1h-1zM51 268h1v1h-1zM74 268h6v1h-6zM81 268h1v1h-1zM85 268h1v1h-1zM97 268h1v1h-1zM106 268h1v1h-1zM132 268h2v1h-2zM137 268h3v1h-3zM141 268h1v1h-1zM144 268h1v1h-1zM153 268h2v1h-2zM160 268h2v1h-2zM164 268h1v1h-1zM166 268h1v1h-1zM188 268h1v1h-1zM192 268h2v1h-2zM197 268h2v1h-2zM226 268h2v1h-2zM229 268h2v1h-2zM235 268h1v1h-1zM240 268h1v1h-1zM242 268h2v1h-2zM270 268h5v1h-5zM276 268h2v1h-2zM283 268h1v1h-1zM285 268h1v1h-1zM291 268h1v1h-1zM312 268h1v1h-1zM314 268h1v1h-1zM326 268h4v1h-4zM331 268h4v1h-4zM336 268h1v1h-1zM341 268h1v1h-1zM345 268h2v1h-2zM369 268h2v1h-2zM372 268h1v1h-1zM374 268h1v1h-1zM386 268h1v1h-1zM388 268h2v1h-2zM391 268h2v1h-2zM395 268h1v1h-1zM399 268h1v1h-1zM401 268h1v1h-1zM422 268h4v1h-4zM427 268h1v1h-1zM442 268h6v1h-6zM480 268h2v1h-2zM488 268h2v1h-2zM500 268h1v1h-1zM505 268h1v1h-1zM507 268h1v1h-1zM509 268h1v1h-1zM21 269h1v1h-1zM25 269h4v1h-4zM40 269h1v1h-1zM43 269h2v1h-2zM77 269h2v1h-2zM82 269h1v1h-1zM100 269h3v1h-3zM106 269h1v1h-1zM133 269h2v1h-2zM136 269h1v1h-1zM139 269h1v1h-1zM157 269h1v1h-1zM161 269h1v1h-1zM163 269h3v1h-3zM167 269h1v1h-1zM188 269h1v1h-1zM195 269h5v1h-5zM229 269h1v1h-1zM232 269h1v1h-1zM235 269h1v1h-1zM243 269h2v1h-2zM271 269h1v1h-1zM273 269h2v1h-2zM277 269h2v1h-2zM283 269h1v1h-1zM286 269h2v1h-2zM290 269h1v1h-1zM314 269h3v1h-3zM328 269h1v1h-1zM331 269h1v1h-1zM333 269h1v1h-1zM337 269h1v1h-1zM339 269h3v1h-3zM343 269h1v1h-1zM346 269h1v1h-1zM368 269h1v1h-1zM373 269h2v1h-2zM385 269h1v1h-1zM387 269h1v1h-1zM389 269h3v1h-3zM393 269h2v1h-2zM396 269h2v1h-2zM427 269h1v1h-1zM442 269h1v1h-1zM444 269h1v1h-1zM447 269h1v1h-1zM449 269h1v1h-1zM451 269h4v1h-4zM456 269h3v1h-3zM478 269h2v1h-2zM482 269h2v1h-2zM485 269h2v1h-2zM504 269h1v1h-1zM509 269h1v1h-1zM514 269h1v1h-1zM77 270h1v1h-1zM134 270h1v1h-1z"/>
<path fill="rgb(94, 94, 255)" d="M65 166h1v1h-1zM180 166h1v1h-1zM182 166h1v1h-1zM220 166h1v1h-1zM256 166h1v1h-1zM300 166h1v1h-1zM306 166h1v1h-1zM356 166h1v1h-1zM360 166h1v1h-1zM362 166h1v1h-1zM417 166h1v1h-1zM469 166h1v1h-1zM65 167h6v1h-6zM119 167h3v1h-3zM123 167h2v1h-2zM127 167h1v1h-1zM174 167h1v1h-1zM177 167h2v1h-2zM182 167h1v1h-1zM213 167h1v1h-1zM215 167h5v1h-5zM253 167h3v1h-3zM257 167h3v1h-3zM261 167h1v1h-1zM300 167h1v1h-1zM302 167h3v1h-3zM306 167h3v1h-3zM354 167h1v1h-1zM356 167h3v1h-3zM360 167h2v1h-2zM410 167h4v1h-4zM415 167h4v1h-4zM466 167h1v1h-1zM470 167h3v1h-3zM474 167h1v1h-1zM522 167h1v1h-1zM67 168h1v1h-1zM123 168h1v1h-1zM180 168h1v1h-1zM182 168h1v1h-1zM215 168h1v1h-1zM218 168h1v1h-1zM302 168h1v1h-1zM308 168h1v1h-1zM360 168h1v1h-1zM413 168h1v1h-1zM416 168h2v1h-2zM23 267h2v1h-2zM83 267h1v1h-1zM105 267h1v1h-1zM109 267h1v1h-1zM136 267h1v1h-1zM140 267h1v1h-1zM142 267h1v1h-1zM161 267h1v1h-1zM163 267h1v1h-1zM165 267h1v1h-1zM167 267h1v1h-1zM196 267h1v1h-1zM231 267h1v1h-1zM236 267h1v1h-1zM276 267h1v1h-1zM278 267h1v1h-1zM282 267h1v1h-1zM286 267h1v1h-1zM288 267h1v1h-1zM290 267h1v1h-1zM339 267h1v1h-1zM341 267h1v1h-1zM343 267h1v1h-1zM387 267h1v1h-1zM393 267h1v1h-1zM395 267h1v1h-1zM429 267h1v1h-1zM450 267h1v1h-1zM454 267h1v1h-1zM456 267h1v1h-1zM506 267h1v1h-1zM510 267h1v1h-1zM514 267h1v1h-1zM22 268h5v1h-5zM28 268h1v1h-1zM40 268h1v1h-1zM43 268h1v1h-1zM45 268h6v1h-6zM52 268h3v1h-3zM80 268h1v1h-1zM82 268h3v1h-3zM86 268h1v1h-1zM99 268h7v1h-7zM107 268h4v1h-4zM134 268h3v1h-3zM140 268h1v1h-1zM142 268h2v1h-2zM156 268h4v1h-4zM162 268h2v1h-2zM165 268h1v1h-1zM167 268h1v1h-1zM189 268h1v1h-1zM194 268h3v1h-3zM199 268h3v1h-3zM228 268h1v1h-1zM231 268h4v1h-4zM236 268h4v1h-4zM241 268h1v1h-1zM244 268h1v1h-1zM275 268h1v1h-1zM278 268h5v1h-5zM284 268h1v1h-1zM286 268h5v1h-5zM315 268h1v1h-1zM330 268h1v1h-1zM335 268h1v1h-1zM337 268h4v1h-4zM342 268h3v1h-3zM371 268h1v1h-1zM373 268h1v1h-1zM390 268h1v1h-1zM393 268h2v1h-2zM396 268h3v1h-3zM400 268h1v1h-1zM426 268h1v1h-1zM428 268h4v1h-4zM448 268h11v1h-11zM482 268h6v1h-6zM502 268h3v1h-3zM506 268h1v1h-1zM508 268h1v1h-1zM510 268h5v1h-5zM45 269h1v1h-1zM47 269h1v1h-1zM49 269h1v1h-1zM51 269h1v1h-1zM53 269h1v1h-1zM83 269h1v1h-1zM85 269h1v1h-1zM103 269h1v1h-1zM105 269h1v1h-1zM107 269h1v1h-1zM109 269h1v1h-1zM138 269h1v1h-1zM140 269h1v1h-1zM142 269h1v1h-1zM144 269h1v1h-1zM158 269h2v1h-2zM190 269h1v1h-1zM200 269h1v1h-1zM227 269h1v1h-1zM231 269h1v1h-1zM233 269h1v1h-1zM239 269h1v1h-1zM241 269h1v1h-1zM272 269h1v1h-1zM276 269h1v1h-1zM282 269h1v1h-1zM284 269h1v1h-1zM288 269h1v1h-1zM345 269h1v1h-1zM370 269h1v1h-1zM372 269h1v1h-1zM395 269h1v1h-1zM401 269h1v1h-1zM429 269h1v1h-1zM448 269h1v1h-1zM484 269h1v1h-1zM503 269h1v1h-1zM508 269h1v1h-1zM510 269h1v1h-1z"/>
<rect x="67" y="19" width="11" height="1" fill="#7a8796"/>
<!-- graticule -->
<path fill="#000" d="M21 19h2v1h-2zM24 19h1v1h-1zM26 19h1v1h-1zM28 19h1v1h-1zM30 19h1v1h-1zM32 19h1v1h-1zM34 19h1v1h-1zM36 19h1v1h-1zM38 19h1v1h-1zM40 19h1v1h-1zM42 19h1v1h-1zM44 19h1v1h-1zM46 19h1v1h-1zM48 19h1v1h-1zM50 19h1v1h-1zM52 19h1v1h-1zM54 19h1v1h-1zM56 19h1v1h-1zM58 19h1v1h-1zM60 19h1v1h-1zM62 19h1v1h-1zM64 19h1v1h-1zM66 19h1v1h-1zM68 19h1v1h-1zM70 19h1v1h-1zM72 19h1v1h-1zM74 19h1v1h-1zM76 19h1v1h-1zM78 19h1v1h-1zM80 19h1v1h-1zM82 19h1v1h-1zM84 19h1v1h-1zM86 19h1v1h-1zM88 19h1v1h-1zM90 19h1v1h-1zM92 19h1v1h-1zM94 19h1v1h-1zM96 19h1v1h-1zM98 19h1v1h-1zM100 19h1v1h-1zM102 19h1v1h-1zM104 19h1v1h-1zM106 19h1v1h-1zM108 19h1v1h-1zM110 19h1v1h-1zM112 19h1v1h-1zM114 19h1v1h-1zM116 19h1v1h-1zM118 19h1v1h-1zM120 19h1v1h-1zM122 19h1v1h-1zM124 19h1v1h-1zM126 19h1v1h-1zM128 19h1v1h-1zM130 19h1v1h-1zM132 19h1v1h-1zM134 19h1v1h-1zM136 19h1v1h-1zM138 19h1v1h-1zM140 19h1v1h-1zM142 19h1v1h-1zM144 19h1v1h-1zM146 19h1v1h-1zM148 19h1v1h-1zM150 19h1v1h-1zM152 19h1v1h-1zM154 19h1v1h-1zM156 19h1v1h-1zM158 19h1v1h-1zM160 19h1v1h-1zM162 19h1v1h-1zM164 19h1v1h-1zM166 19h1v1h-1zM168 19h1v1h-1zM170 19h1v1h-1zM172 19h1v1h-1zM174 19h1v1h-1zM176 19h1v1h-1zM178 19h1v1h-1zM180 19h1v1h-1zM182 19h1v1h-1zM184 19h1v1h-1zM186 19h1v1h-1zM188 19h1v1h-1zM190 19h1v1h-1zM192 19h1v1h-1zM194 19h1v1h-1zM196 19h1v1h-1zM198 19h1v1h-1zM200 19h1v1h-1zM202 19h1v1h-1zM204 19h1v1h-1zM206 19h1v1h-1zM208 19h1v1h-1zM210 19h1v1h-1zM212 19h1v1h-1zM214 19h1v1h-1zM216 19h1v1h-1zM218 19h1v1h-1zM220 19h1v1h-1zM222 19h1v1h-1zM224 19h1v1h-1zM226 19h1v1h-1zM228 19h1v1h-1zM230 19h1v1h-1zM232 19h1v1h-1zM234 19h1v1h-1zM236 19h1v1h-1zM238 19h1v1h-1zM240 19h1v1h-1zM242 19h1v1h-1zM244 19h1v1h-1zM246 19h1v1h-1zM248 19h1v1h-1zM250 19h1v1h-1zM252 19h1v1h-1zM254 19h1v1h-1zM256 19h1v1h-1zM258 19h1v1h-1zM260 19h1v1h-1zM262 19h1v1h-1zM264 19h1v1h-1zM266 19h1v1h-1zM268 19h1v1h-1zM270 19h1v1h-1zM272 19h1v1h-1zM274 19h1v1h-1zM276 19h1v1h-1zM278 19h1v1h-1zM280 19h1v1h-1zM282 19h1v1h-1zM284 19h1v1h-1zM286 19h1v1h-1zM288 19h1v1h-1zM290 19h1v1h-1zM292 19h1v1h-1zM294 19h1v1h-1zM296 19h1v1h-1zM298 19h1v1h-1zM300 19h1v1h-1zM302 19h1v1h-1zM304 19h1v1h-1zM306 19h1v1h-1zM308 19h1v1h-1zM310 19h1v1h-1zM312 19h1v1h-1zM314 19h1v1h-1zM316 19h1v1h-1zM318 19h1v1h-1zM320 19h1v1h-1zM322 19h1v1h-1zM324 19h1v1h-1zM326 19h1v1h-1zM328 19h1v1h-1zM330 19h1v1h-1zM332 19h1v1h-1zM334 19h1v1h-1zM336 19h1v1h-1zM338 19h1v1h-1zM340 19h1v1h-1zM342 19h1v1h-1zM344 19h1v1h-1zM346 19h1v1h-1zM348 19h1v1h-1zM350 19h1v1h-1zM352 19h1v1h-1zM354 19h1v1h-1zM356 19h1v1h-1zM358 19h1v1h-1zM360 19h1v1h-1zM362 19h1v1h-1zM364 19h1v1h-1zM366 19h1v1h-1zM368 19h1v1h-1zM370 19h1v1h-1zM372 19h1v1h-1zM374 19h1v1h-1zM376 19h1v1h-1zM378 19h1v1h-1zM380 19h1v1h-1zM382 19h1v1h-1zM384 19h1v1h-1zM386 19h1v1h-1zM388 19h1v1h-1zM390 19h1v1h-1zM392 19h1v1h-1zM394 19h1v1h-1zM396 19h1v1h-1zM398 19h1v1h-1zM400 19h1v1h-1zM402 19h1v1h-1zM404 19h1v1h-1zM406 19h1v1h-1zM408 19h1v1h-1zM410 19h1v1h-1zM412 19h1v1h-1zM414 19h1v1h-1zM416 19h1v1h-1zM418 19h1v1h-1zM420 19h1v1h-1zM422 19h1v1h-1zM424 19h1v1h-1zM426 19h1v1h-1zM428 19h1v1h-1zM430 19h1v1h-1zM432 19h1v1h-1zM434 19h1v1h-1zM436 19h1v1h-1zM438 19h1v1h-1zM440 19h1v1h-1zM442 19h1v1h-1zM444 19h1v1h-1zM446 19h1v1h-1zM448 19h1v1h-1zM450 19h1v1h-1zM452 19h1v1h-1zM454 19h1v1h-1zM456 19h1v1h-1zM458 19h1v1h-1zM460 19h1v1h-1zM462 19h1v1h-1zM464 19h1v1h-1zM466 19h1v1h-1zM468 19h1v1h-1zM470 19h1v1h-1zM472 19h1v1h-1zM474 19h1v1h-1zM476 19h1v1h-1zM478 19h1v1h-1zM480 19h1v1h-1zM482 19h1v1h-1zM484 19h1v1h-1zM486 19h1v1h-1zM488 19h1v1h-1zM490 19h1v1h-1zM492 19h1v1h-1zM494 19h1v1h-1zM496 19h1v1h-1zM498 19h1v1h-1zM500 19h1v1h-1zM502 19h1v1h-1zM504 19h1v1h-1zM506 19h1v1h-1zM508 19h1v1h-1zM510 19h1v1h-1zM512 19h1v1h-1zM514 19h1v1h-1zM516 19h1v1h-1zM518 19h1v1h-1zM520 19h1v1h-1zM522 19h1v1h-1zM21 20h1v1h-1zM32 20h1v1h-1zM42 20h1v1h-1zM52 20h1v1h-1zM62 20h1v1h-1zM82 20h1v1h-1zM92 20h1v1h-1zM102 20h1v1h-1zM112 20h1v1h-1zM132 20h1v1h-1zM142 20h1v1h-1zM152 20h1v1h-1zM162 20h1v1h-1zM182 20h1v1h-1zM192 20h1v1h-1zM202 20h1v1h-1zM212 20h1v1h-1zM232 20h1v1h-1zM242 20h1v1h-1zM252 20h1v1h-1zM262 20h1v1h-1zM272 20h1v1h-1zM282 20h1v1h-1zM292 20h1v1h-1zM302 20h1v1h-1zM312 20h1v1h-1zM332 20h1v1h-1zM342 20h1v1h-1zM352 20h1v1h-1zM362 20h1v1h-1zM382 20h1v1h-1zM392 20h1v1h-1zM402 20h1v1h-1zM412 20h1v1h-1zM432 20h1v1h-1zM442 20h1v1h-1zM452 20h1v1h-1zM462 20h1v1h-1zM482 20h1v1h-1zM492 20h1v1h-1zM502 20h1v1h-1zM512 20h1v1h-1zM522 20h1v1h-1zM72 21h1v1h-1zM122 21h1v1h-1zM172 21h1v1h-1zM222 21h1v1h-1zM322 21h1v1h-1zM372 21h1v1h-1zM422 21h1v1h-1zM472 21h1v1h-1zM21 22h1v1h-1zM32 22h1v1h-1zM42 22h1v1h-1zM52 22h1v1h-1zM62 22h1v1h-1zM82 22h1v1h-1zM92 22h1v1h-1zM102 22h1v1h-1zM112 22h1v1h-1zM132 22h1v1h-1zM142 22h1v1h-1zM152 22h1v1h-1zM162 22h1v1h-1zM182 22h1v1h-1zM192 22h1v1h-1zM202 22h1v1h-1zM212 22h1v1h-1zM232 22h1v1h-1zM242 22h1v1h-1zM252 22h1v1h-1zM262 22h1v1h-1zM272 22h1v1h-1zM282 22h1v1h-1zM292 22h1v1h-1zM302 22h1v1h-1zM312 22h1v1h-1zM332 22h1v1h-1zM342 22h1v1h-1zM352 22h1v1h-1zM362 22h1v1h-1zM382 22h1v1h-1zM392 22h1v1h-1zM402 22h1v1h-1zM412 22h1v1h-1zM432 22h1v1h-1zM442 22h1v1h-1zM452 22h1v1h-1zM462 22h1v1h-1zM482 22h1v1h-1zM492 22h1v1h-1zM502 22h1v1h-1zM512 22h1v1h-1zM522 22h1v1h-1zM72 23h1v1h-1zM122 23h1v1h-1zM172 23h1v1h-1zM222 23h1v1h-1zM322 23h1v1h-1zM372 23h1v1h-1zM422 23h1v1h-1zM472 23h1v1h-1zM21 24h1v1h-1zM272 24h1v1h-1zM522 24h1v1h-1zM72 25h1v1h-1zM122 25h1v1h-1zM172 25h1v1h-1zM222 25h1v1h-1zM322 25h1v1h-1zM372 25h1v1h-1zM422 25h1v1h-1zM472 25h1v1h-1zM21 26h1v1h-1zM272 26h1v1h-1zM522 26h1v1h-1zM21 28h1v1h-1zM272 28h1v1h-1zM522 28h1v1h-1zM21 30h2v1h-2zM24 30h1v1h-1zM72 30h1v1h-1zM122 30h1v1h-1zM172 30h1v1h-1zM222 30h1v1h-1zM269 30h1v1h-1zM271 30h3v1h-3zM275 30h1v1h-1zM322 30h1v1h-1zM372 30h1v1h-1zM422 30h1v1h-1zM472 30h1v1h-1zM519 30h1v1h-1zM521 30h2v1h-2zM21 32h1v1h-1zM272 32h1v1h-1zM522 32h1v1h-1zM21 34h1v1h-1zM272 34h1v1h-1zM522 34h1v1h-1zM21 36h1v1h-1zM272 36h1v1h-1zM522 36h1v1h-1zM21 38h1v1h-1zM272 38h1v1h-1zM522 38h1v1h-1zM21 40h2v1h-2zM24 40h1v1h-1zM72 40h1v1h-1zM122 40h1v1h-1zM172 40h1v1h-1zM222 40h1v1h-1zM269 40h1v1h-1zM271 40h3v1h-3zM275 40h1v1h-1zM322 40h1v1h-1zM372 40h1v1h-1zM422 40h1v1h-1zM472 40h1v1h-1zM519 40h1v1h-1zM521 40h2v1h-2zM21 42h1v1h-1zM272 42h1v1h-1zM522 42h1v1h-1zM21 44h1v1h-1zM272 44h1v1h-1zM522 44h1v1h-1zM21 46h1v1h-1zM272 46h1v1h-1zM522 46h1v1h-1zM21 48h1v1h-1zM272 48h1v1h-1zM522 48h1v1h-1zM21 50h2v1h-2zM24 50h1v1h-1zM72 50h1v1h-1zM122 50h1v1h-1zM172 50h1v1h-1zM222 50h1v1h-1zM269 50h1v1h-1zM271 50h3v1h-3zM275 50h1v1h-1zM322 50h1v1h-1zM372 50h1v1h-1zM422 50h1v1h-1zM472 50h1v1h-1zM519 50h1v1h-1zM521 50h2v1h-2zM21 52h1v1h-1zM272 52h1v1h-1zM522 52h1v1h-1zM21 54h1v1h-1zM272 54h1v1h-1zM522 54h1v1h-1zM21 56h1v1h-1zM272 56h1v1h-1zM522 56h1v1h-1zM21 58h1v1h-1zM272 58h1v1h-1zM522 58h1v1h-1zM21 60h2v1h-2zM24 60h1v1h-1zM72 60h1v1h-1zM122 60h1v1h-1zM172 60h1v1h-1zM222 60h1v1h-1zM269 60h1v1h-1zM271 60h3v1h-3zM275 60h1v1h-1zM322 60h1v1h-1zM372 60h1v1h-1zM422 60h1v1h-1zM472 60h1v1h-1zM519 60h1v1h-1zM521 60h2v1h-2zM21 62h1v1h-1zM272 62h1v1h-1zM522 62h1v1h-1zM21 64h1v1h-1zM272 64h1v1h-1zM522 64h1v1h-1zM21 66h1v1h-1zM272 66h1v1h-1zM522 66h1v1h-1zM21 68h1v1h-1zM272 68h1v1h-1zM522 68h1v1h-1zM21 70h1v1h-1zM23 70h1v1h-1zM25 70h1v1h-1zM27 70h1v1h-1zM32 70h1v1h-1zM42 70h1v1h-1zM52 70h1v1h-1zM62 70h1v1h-1zM72 70h1v1h-1zM82 70h1v1h-1zM92 70h1v1h-1zM102 70h1v1h-1zM112 70h1v1h-1zM122 70h1v1h-1zM132 70h1v1h-1zM142 70h1v1h-1zM152 70h1v1h-1zM162 70h1v1h-1zM172 70h1v1h-1zM182 70h1v1h-1zM192 70h1v1h-1zM202 70h1v1h-1zM212 70h1v1h-1zM222 70h1v1h-1zM232 70h1v1h-1zM242 70h1v1h-1zM252 70h1v1h-1zM262 70h1v1h-1zM269 70h1v1h-1zM271 70h3v1h-3zM275 70h1v1h-1zM282 70h1v1h-1zM292 70h1v1h-1zM302 70h1v1h-1zM312 70h1v1h-1zM322 70h1v1h-1zM332 70h1v1h-1zM342 70h1v1h-1zM352 70h1v1h-1zM362 70h1v1h-1zM372 70h1v1h-1zM382 70h1v1h-1zM392 70h1v1h-1zM402 70h1v1h-1zM412 70h1v1h-1zM422 70h1v1h-1zM432 70h1v1h-1zM442 70h1v1h-1zM452 70h1v1h-1zM462 70h1v1h-1zM472 70h1v1h-1zM482 70h1v1h-1zM492 70h1v1h-1zM502 70h1v1h-1zM512 70h1v1h-1zM516 70h1v1h-1zM518 70h1v1h-1zM520 70h1v1h-1zM522 70h1v1h-1zM21 72h1v1h-1zM272 72h1v1h-1zM522 72h1v1h-1zM21 74h1v1h-1zM272 74h1v1h-1zM522 74h1v1h-1zM21 76h1v1h-1zM272 76h1v1h-1zM522 76h1v1h-1zM21 78h1v1h-1zM272 78h1v1h-1zM522 78h1v1h-1zM21 80h2v1h-2zM24 80h1v1h-1zM72 80h1v1h-1zM122 80h1v1h-1zM172 80h1v1h-1zM222 80h1v1h-1zM269 80h1v1h-1zM271 80h3v1h-3zM275 80h1v1h-1zM322 80h1v1h-1zM372 80h1v1h-1zM422 80h1v1h-1zM472 80h1v1h-1zM519 80h1v1h-1zM521 80h2v1h-2zM21 82h1v1h-1zM272 82h1v1h-1zM522 82h1v1h-1zM21 84h1v1h-1zM272 84h1v1h-1zM522 84h1v1h-1zM21 86h1v1h-1zM272 86h1v1h-1zM522 86h1v1h-1zM21 88h1v1h-1zM272 88h1v1h-1zM522 88h1v1h-1zM21 90h2v1h-2zM24 90h1v1h-1zM72 90h1v1h-1zM122 90h1v1h-1zM172 90h1v1h-1zM222 90h1v1h-1zM269 90h1v1h-1zM271 90h3v1h-3zM275 90h1v1h-1zM322 90h1v1h-1zM372 90h1v1h-1zM422 90h1v1h-1zM472 90h1v1h-1zM519 90h1v1h-1zM521 90h2v1h-2zM21 92h1v1h-1zM272 92h1v1h-1zM522 92h1v1h-1zM21 94h1v1h-1zM272 94h1v1h-1zM522 94h1v1h-1zM21 96h1v1h-1zM272 96h1v1h-1zM522 96h1v1h-1zM21 98h1v1h-1zM272 98h1v1h-1zM522 98h1v1h-1zM21 100h2v1h-2zM24 100h1v1h-1zM72 100h1v1h-1zM122 100h1v1h-1zM172 100h1v1h-1zM222 100h1v1h-1zM269 100h1v1h-1zM271 100h3v1h-3zM275 100h1v1h-1zM322 100h1v1h-1zM372 100h1v1h-1zM422 100h1v1h-1zM472 100h1v1h-1zM519 100h1v1h-1zM521 100h2v1h-2zM21 102h1v1h-1zM272 102h1v1h-1zM522 102h1v1h-1zM21 104h1v1h-1zM272 104h1v1h-1zM522 104h1v1h-1zM21 106h1v1h-1zM272 106h1v1h-1zM522 106h1v1h-1zM21 108h1v1h-1zM272 108h1v1h-1zM522 108h1v1h-1zM21 110h2v1h-2zM24 110h1v1h-1zM72 110h1v1h-1zM122 110h1v1h-1zM172 110h1v1h-1zM222 110h1v1h-1zM269 110h1v1h-1zM271 110h3v1h-3zM275 110h1v1h-1zM322 110h1v1h-1zM372 110h1v1h-1zM422 110h1v1h-1zM472 110h1v1h-1zM519 110h1v1h-1zM521 110h2v1h-2zM21 112h1v1h-1zM272 112h1v1h-1zM522 112h1v1h-1zM21 114h1v1h-1zM272 114h1v1h-1zM522 114h1v1h-1zM21 116h1v1h-1zM272 116h1v1h-1zM522 116h1v1h-1zM21 118h1v1h-1zM272 118h1v1h-1zM522 118h1v1h-1zM21 120h1v1h-1zM23 120h1v1h-1zM25 120h1v1h-1zM27 120h1v1h-1zM32 120h1v1h-1zM42 120h1v1h-1zM52 120h1v1h-1zM62 120h1v1h-1zM72 120h1v1h-1zM82 120h1v1h-1zM92 120h1v1h-1zM102 120h1v1h-1zM112 120h1v1h-1zM122 120h1v1h-1zM132 120h1v1h-1zM142 120h1v1h-1zM152 120h1v1h-1zM162 120h1v1h-1zM172 120h1v1h-1zM182 120h1v1h-1zM192 120h1v1h-1zM202 120h1v1h-1zM212 120h1v1h-1zM222 120h1v1h-1zM232 120h1v1h-1zM242 120h1v1h-1zM252 120h1v1h-1zM262 120h1v1h-1zM269 120h1v1h-1zM271 120h3v1h-3zM275 120h1v1h-1zM282 120h1v1h-1zM292 120h1v1h-1zM302 120h1v1h-1zM312 120h1v1h-1zM322 120h1v1h-1zM332 120h1v1h-1zM342 120h1v1h-1zM352 120h1v1h-1zM362 120h1v1h-1zM372 120h1v1h-1zM382 120h1v1h-1zM392 120h1v1h-1zM402 120h1v1h-1zM412 120h1v1h-1zM422 120h1v1h-1zM432 120h1v1h-1zM442 120h1v1h-1zM452 120h1v1h-1zM462 120h1v1h-1zM472 120h1v1h-1zM482 120h1v1h-1zM492 120h1v1h-1zM502 120h1v1h-1zM512 120h1v1h-1zM516 120h1v1h-1zM518 120h1v1h-1zM520 120h1v1h-1zM522 120h1v1h-1zM21 122h1v1h-1zM272 122h1v1h-1zM522 122h1v1h-1zM21 124h1v1h-1zM272 124h1v1h-1zM522 124h1v1h-1zM21 126h1v1h-1zM272 126h1v1h-1zM522 126h1v1h-1zM21 128h1v1h-1zM272 128h1v1h-1zM522 128h1v1h-1zM21 130h2v1h-2zM24 130h1v1h-1zM72 130h1v1h-1zM122 130h1v1h-1zM172 130h1v1h-1zM222 130h1v1h-1zM269 130h1v1h-1zM271 130h3v1h-3zM275 130h1v1h-1zM322 130h1v1h-1zM372 130h1v1h-1zM422 130h1v1h-1zM472 130h1v1h-1zM519 130h1v1h-1zM521 130h2v1h-2zM21 132h1v1h-1zM272 132h1v1h-1zM522 132h1v1h-1zM21 134h1v1h-1zM272 134h1v1h-1zM522 134h1v1h-1zM21 136h1v1h-1zM272 136h1v1h-1zM522 136h1v1h-1zM21 138h1v1h-1zM272 138h1v1h-1zM522 138h1v1h-1zM21 140h2v1h-2zM24 140h1v1h-1zM72 140h1v1h-1zM122 140h1v1h-1zM172 140h1v1h-1zM222 140h1v1h-1zM269 140h1v1h-1zM271 140h3v1h-3zM275 140h1v1h-1zM322 140h1v1h-1zM372 140h1v1h-1zM422 140h1v1h-1zM472 140h1v1h-1zM519 140h1v1h-1zM521 140h2v1h-2zM21 142h1v1h-1zM272 142h1v1h-1zM522 142h1v1h-1zM21 144h1v1h-1zM272 144h1v1h-1zM522 144h1v1h-1zM21 146h1v1h-1zM272 146h1v1h-1zM522 146h1v1h-1zM21 148h1v1h-1zM272 148h1v1h-1zM522 148h1v1h-1zM21 150h2v1h-2zM24 150h1v1h-1zM72 150h1v1h-1zM122 150h1v1h-1zM172 150h1v1h-1zM222 150h1v1h-1zM269 150h1v1h-1zM271 150h3v1h-3zM275 150h1v1h-1zM322 150h1v1h-1zM372 150h1v1h-1zM422 150h1v1h-1zM472 150h1v1h-1zM519 150h1v1h-1zM521 150h2v1h-2zM21 152h1v1h-1zM272 152h1v1h-1zM522 152h1v1h-1zM21 154h1v1h-1zM272 154h1v1h-1zM522 154h1v1h-1zM21 156h1v1h-1zM272 156h1v1h-1zM522 156h1v1h-1zM21 158h1v1h-1zM272 158h1v1h-1zM522 158h1v1h-1zM21 160h2v1h-2zM24 160h1v1h-1zM72 160h1v1h-1zM122 160h1v1h-1zM172 160h1v1h-1zM222 160h1v1h-1zM269 160h1v1h-1zM271 160h3v1h-3zM275 160h1v1h-1zM322 160h1v1h-1zM372 160h1v1h-1zM422 160h1v1h-1zM472 160h1v1h-1zM519 160h1v1h-1zM521 160h2v1h-2zM21 162h1v1h-1zM272 162h1v1h-1zM522 162h1v1h-1zM21 164h1v1h-1zM272 164h1v1h-1zM522 164h1v1h-1zM21 166h1v1h-1zM272 166h1v1h-1zM522 166h1v1h-1zM21 168h1v1h-1zM272 168h1v1h-1zM522 168h1v1h-1zM21 170h1v1h-1zM23 170h1v1h-1zM25 170h1v1h-1zM27 170h1v1h-1zM32 170h1v1h-1zM42 170h1v1h-1zM52 170h1v1h-1zM62 170h1v1h-1zM72 170h1v1h-1zM82 170h1v1h-1zM92 170h1v1h-1zM102 170h1v1h-1zM112 170h1v1h-1zM122 170h1v1h-1zM132 170h1v1h-1zM142 170h1v1h-1zM152 170h1v1h-1zM162 170h1v1h-1zM172 170h1v1h-1zM182 170h1v1h-1zM192 170h1v1h-1zM202 170h1v1h-1zM212 170h1v1h-1zM222 170h1v1h-1zM232 170h1v1h-1zM242 170h1v1h-1zM252 170h1v1h-1zM262 170h1v1h-1zM269 170h1v1h-1zM271 170h3v1h-3zM275 170h1v1h-1zM282 170h1v1h-1zM292 170h1v1h-1zM302 170h1v1h-1zM312 170h1v1h-1zM322 170h1v1h-1zM332 170h1v1h-1zM342 170h1v1h-1zM352 170h1v1h-1zM362 170h1v1h-1zM372 170h1v1h-1zM382 170h1v1h-1zM392 170h1v1h-1zM402 170h1v1h-1zM412 170h1v1h-1zM422 170h1v1h-1zM432 170h1v1h-1zM442 170h1v1h-1zM452 170h1v1h-1zM462 170h1v1h-1zM472 170h1v1h-1zM482 170h1v1h-1zM492 170h1v1h-1zM502 170h1v1h-1zM512 170h1v1h-1zM516 170h1v1h-1zM518 170h1v1h-1zM520 170h1v1h-1zM522 170h1v1h-1zM21 172h1v1h-1zM272 172h1v1h-1zM522 172h1v1h-1zM21 174h1v1h-1zM272 174h1v1h-1zM522 174h1v1h-1zM21 176h1v1h-1zM272 176h1v1h-1zM522 176h1v1h-1zM21 178h1v1h-1zM272 178h1v1h-1zM522 178h1v1h-1zM21 180h2v1h-2zM24 180h1v1h-1zM72 180h1v1h-1zM122 180h1v1h-1zM172 180h1v1h-1zM222 180h1v1h-1zM269 180h1v1h-1zM271 180h3v1h-3zM275 180h1v1h-1zM322 180h1v1h-1zM372 180h1v1h-1zM422 180h1v1h-1zM472 180h1v1h-1zM519 180h1v1h-1zM521 180h2v1h-2zM21 182h1v1h-1zM272 182h1v1h-1zM522 182h1v1h-1zM21 184h1v1h-1zM272 184h1v1h-1zM522 184h1v1h-1zM21 186h1v1h-1zM272 186h1v1h-1zM522 186h1v1h-1zM21 188h1v1h-1zM272 188h1v1h-1zM522 188h1v1h-1zM21 190h2v1h-2zM24 190h1v1h-1zM72 190h1v1h-1zM122 190h1v1h-1zM172 190h1v1h-1zM222 190h1v1h-1zM269 190h1v1h-1zM271 190h3v1h-3zM275 190h1v1h-1zM322 190h1v1h-1zM372 190h1v1h-1zM422 190h1v1h-1zM472 190h1v1h-1zM519 190h1v1h-1zM521 190h2v1h-2zM21 192h1v1h-1zM272 192h1v1h-1zM522 192h1v1h-1zM21 194h1v1h-1zM272 194h1v1h-1zM522 194h1v1h-1zM21 196h1v1h-1zM272 196h1v1h-1zM522 196h1v1h-1zM21 198h1v1h-1zM272 198h1v1h-1zM522 198h1v1h-1zM21 200h2v1h-2zM24 200h1v1h-1zM72 200h1v1h-1zM122 200h1v1h-1zM172 200h1v1h-1zM222 200h1v1h-1zM269 200h1v1h-1zM271 200h3v1h-3zM275 200h1v1h-1zM322 200h1v1h-1zM372 200h1v1h-1zM422 200h1v1h-1zM472 200h1v1h-1zM519 200h1v1h-1zM521 200h2v1h-2zM21 202h1v1h-1zM272 202h1v1h-1zM522 202h1v1h-1zM21 204h1v1h-1zM272 204h1v1h-1zM522 204h1v1h-1zM21 206h1v1h-1zM272 206h1v1h-1zM522 206h1v1h-1zM21 208h1v1h-1zM272 208h1v1h-1zM522 208h1v1h-1zM21 210h2v1h-2zM24 210h1v1h-1zM72 210h1v1h-1zM122 210h1v1h-1zM172 210h1v1h-1zM222 210h1v1h-1zM269 210h1v1h-1zM271 210h3v1h-3zM275 210h1v1h-1zM322 210h1v1h-1zM372 210h1v1h-1zM422 210h1v1h-1zM472 210h1v1h-1zM519 210h1v1h-1zM521 210h2v1h-2zM21 212h1v1h-1zM272 212h1v1h-1zM522 212h1v1h-1zM21 214h1v1h-1zM272 214h1v1h-1zM522 214h1v1h-1zM21 216h1v1h-1zM272 216h1v1h-1zM522 216h1v1h-1zM32 217h1v1h-1zM42 217h1v1h-1zM52 217h1v1h-1zM62 217h1v1h-1zM72 217h1v1h-1zM82 217h1v1h-1zM92 217h1v1h-1zM102 217h1v1h-1zM112 217h1v1h-1zM122 217h1v1h-1zM132 217h1v1h-1zM142 217h1v1h-1zM152 217h1v1h-1zM162 217h1v1h-1zM172 217h1v1h-1zM182 217h1v1h-1zM192 217h1v1h-1zM202 217h1v1h-1zM212 217h1v1h-1zM222 217h1v1h-1zM232 217h1v1h-1zM242 217h1v1h-1zM252 217h1v1h-1zM262 217h1v1h-1zM272 217h1v1h-1zM282 217h1v1h-1zM292 217h1v1h-1zM302 217h1v1h-1zM312 217h1v1h-1zM322 217h1v1h-1zM332 217h1v1h-1zM342 217h1v1h-1zM352 217h1v1h-1zM362 217h1v1h-1zM372 217h1v1h-1zM382 217h1v1h-1zM392 217h1v1h-1zM402 217h1v1h-1zM412 217h1v1h-1zM422 217h1v1h-1zM432 217h1v1h-1zM442 217h1v1h-1zM452 217h1v1h-1zM462 217h1v1h-1zM472 217h1v1h-1zM482 217h1v1h-1zM492 217h1v1h-1zM502 217h1v1h-1zM512 217h1v1h-1zM21 218h1v1h-1zM272 218h1v1h-1zM522 218h1v1h-1zM32 219h1v1h-1zM42 219h1v1h-1zM52 219h1v1h-1zM62 219h1v1h-1zM72 219h1v1h-1zM82 219h1v1h-1zM92 219h1v1h-1zM102 219h1v1h-1zM112 219h1v1h-1zM122 219h1v1h-1zM132 219h1v1h-1zM142 219h1v1h-1zM152 219h1v1h-1zM162 219h1v1h-1zM172 219h1v1h-1zM182 219h1v1h-1zM192 219h1v1h-1zM202 219h1v1h-1zM212 219h1v1h-1zM222 219h1v1h-1zM232 219h1v1h-1zM242 219h1v1h-1zM252 219h1v1h-1zM262 219h1v1h-1zM272 219h1v1h-1zM282 219h1v1h-1zM292 219h1v1h-1zM302 219h1v1h-1zM312 219h1v1h-1zM322 219h1v1h-1zM332 219h1v1h-1zM342 219h1v1h-1zM352 219h1v1h-1zM362 219h1v1h-1zM372 219h1v1h-1zM382 219h1v1h-1zM392 219h1v1h-1zM402 219h1v1h-1zM412 219h1v1h-1zM422 219h1v1h-1zM432 219h1v1h-1zM442 219h1v1h-1zM452 219h1v1h-1zM462 219h1v1h-1zM472 219h1v1h-1zM482 219h1v1h-1zM492 219h1v1h-1zM502 219h1v1h-1zM512 219h1v1h-1zM21 220h2v1h-2zM24 220h1v1h-1zM26 220h1v1h-1zM28 220h1v1h-1zM30 220h1v1h-1zM32 220h1v1h-1zM34 220h1v1h-1zM36 220h1v1h-1zM38 220h1v1h-1zM40 220h1v1h-1zM42 220h1v1h-1zM44 220h1v1h-1zM46 220h1v1h-1zM48 220h1v1h-1zM50 220h1v1h-1zM52 220h1v1h-1zM54 220h1v1h-1zM56 220h1v1h-1zM58 220h1v1h-1zM60 220h1v1h-1zM62 220h1v1h-1zM64 220h1v1h-1zM66 220h1v1h-1zM68 220h1v1h-1zM70 220h1v1h-1zM72 220h1v1h-1zM74 220h1v1h-1zM76 220h1v1h-1zM78 220h1v1h-1zM80 220h1v1h-1zM82 220h1v1h-1zM84 220h1v1h-1zM86 220h1v1h-1zM88 220h1v1h-1zM90 220h1v1h-1zM92 220h1v1h-1zM94 220h1v1h-1zM96 220h1v1h-1zM98 220h1v1h-1zM100 220h1v1h-1zM102 220h1v1h-1zM104 220h1v1h-1zM106 220h1v1h-1zM108 220h1v1h-1zM110 220h1v1h-1zM112 220h1v1h-1zM114 220h1v1h-1zM116 220h1v1h-1zM118 220h1v1h-1zM120 220h1v1h-1zM122 220h1v1h-1zM124 220h1v1h-1zM126 220h1v1h-1zM128 220h1v1h-1zM130 220h1v1h-1zM132 220h1v1h-1zM134 220h1v1h-1zM136 220h1v1h-1zM138 220h1v1h-1zM140 220h1v1h-1zM142 220h1v1h-1zM144 220h1v1h-1zM146 220h1v1h-1zM148 220h1v1h-1zM150 220h1v1h-1zM152 220h1v1h-1zM154 220h1v1h-1zM156 220h1v1h-1zM158 220h1v1h-1zM160 220h1v1h-1zM162 220h1v1h-1zM164 220h1v1h-1zM166 220h1v1h-1zM168 220h1v1h-1zM170 220h1v1h-1zM172 220h1v1h-1zM174 220h1v1h-1zM176 220h1v1h-1zM178 220h1v1h-1zM180 220h1v1h-1zM182 220h1v1h-1zM184 220h1v1h-1zM186 220h1v1h-1zM188 220h1v1h-1zM190 220h1v1h-1zM192 220h1v1h-1zM194 220h1v1h-1zM196 220h1v1h-1zM198 220h1v1h-1zM200 220h1v1h-1zM202 220h1v1h-1zM204 220h1v1h-1zM206 220h1v1h-1zM208 220h1v1h-1zM210 220h1v1h-1zM212 220h1v1h-1zM214 220h1v1h-1zM216 220h1v1h-1zM218 220h1v1h-1zM220 220h1v1h-1zM222 220h1v1h-1zM224 220h1v1h-1zM226 220h1v1h-1zM228 220h1v1h-1zM230 220h1v1h-1zM232 220h1v1h-1zM234 220h1v1h-1zM236 220h1v1h-1zM238 220h1v1h-1zM240 220h1v1h-1zM242 220h1v1h-1zM244 220h1v1h-1zM246 220h1v1h-1zM248 220h1v1h-1zM250 220h1v1h-1zM252 220h1v1h-1zM254 220h1v1h-1zM256 220h1v1h-1zM258 220h1v1h-1zM260 220h1v1h-1zM262 220h1v1h-1zM264 220h1v1h-1zM266 220h1v1h-1zM268 220h9v1h-9zM278 220h1v1h-1zM280 220h1v1h-1zM282 220h1v1h-1zM284 220h1v1h-1zM286 220h1v1h-1zM288 220h1v1h-1zM290 220h1v1h-1zM292 220h1v1h-1zM294 220h1v1h-1zM296 220h1v1h-1zM298 220h1v1h-1zM300 220h1v1h-1zM302 220h1v1h-1zM304 220h1v1h-1zM306 220h1v1h-1zM308 220h1v1h-1zM310 220h1v1h-1zM312 220h1v1h-1zM314 220h1v1h-1zM316 220h1v1h-1zM318 220h1v1h-1zM320 220h1v1h-1zM322 220h1v1h-1zM324 220h1v1h-1zM326 220h1v1h-1zM328 220h1v1h-1zM330 220h1v1h-1zM332 220h1v1h-1zM334 220h1v1h-1zM336 220h1v1h-1zM338 220h1v1h-1zM340 220h1v1h-1zM342 220h1v1h-1zM344 220h1v1h-1zM346 220h1v1h-1zM348 220h1v1h-1zM350 220h1v1h-1zM352 220h1v1h-1zM354 220h1v1h-1zM356 220h1v1h-1zM358 220h1v1h-1zM360 220h1v1h-1zM362 220h1v1h-1zM364 220h1v1h-1zM366 220h1v1h-1zM368 220h1v1h-1zM370 220h1v1h-1zM372 220h1v1h-1zM374 220h1v1h-1zM376 220h1v1h-1zM378 220h1v1h-1zM380 220h1v1h-1zM382 220h1v1h-1zM384 220h1v1h-1zM386 220h1v1h-1zM388 220h1v1h-1zM390 220h1v1h-1zM392 220h1v1h-1zM394 220h1v1h-1zM396 220h1v1h-1zM398 220h1v1h-1zM400 220h1v1h-1zM402 220h1v1h-1zM404 220h1v1h-1zM406 220h1v1h-1zM408 220h1v1h-1zM410 220h1v1h-1zM412 220h1v1h-1zM414 220h1v1h-1zM416 220h1v1h-1zM418 220h1v1h-1zM420 220h1v1h-1zM422 220h1v1h-1zM424 220h1v1h-1zM426 220h1v1h-1zM428 220h1v1h-1zM430 220h1v1h-1zM432 220h1v1h-1zM434 220h1v1h-1zM436 220h1v1h-1zM438 220h1v1h-1zM440 220h1v1h-1zM442 220h1v1h-1zM444 220h1v1h-1zM446 220h1v1h-1zM448 220h1v1h-1zM450 220h1v1h-1zM452 220h1v1h-1zM454 220h1v1h-1zM456 220h1v1h-1zM458 220h1v1h-1zM460 220h1v1h-1zM462 220h1v1h-1zM464 220h1v1h-1zM466 220h1v1h-1zM468 220h1v1h-1zM470 220h1v1h-1zM472 220h1v1h-1zM474 220h1v1h-1zM476 220h1v1h-1zM478 220h1v1h-1zM480 220h1v1h-1zM482 220h1v1h-1zM484 220h1v1h-1zM486 220h1v1h-1zM488 220h1v1h-1zM490 220h1v1h-1zM492 220h1v1h-1zM494 220h1v1h-1zM496 220h1v1h-1zM498 220h1v1h-1zM500 220h1v1h-1zM502 220h1v1h-1zM504 220h1v1h-1zM506 220h1v1h-1zM508 220h1v1h-1zM510 220h1v1h-1zM512 220h1v1h-1zM514 220h1v1h-1zM516 220h1v1h-1zM518 220h1v1h-1zM520 220h1v1h-1zM522 220h1v1h-1zM32 221h1v1h-1zM42 221h1v1h-1zM52 221h1v1h-1zM62 221h1v1h-1zM72 221h1v1h-1zM82 221h1v1h-1zM92 221h1v1h-1zM102 221h1v1h-1zM112 221h1v1h-1zM122 221h1v1h-1zM132 221h1v1h-1zM142 221h1v1h-1zM152 221h1v1h-1zM162 221h1v1h-1zM172 221h1v1h-1zM182 221h1v1h-1zM192 221h1v1h-1zM202 221h1v1h-1zM212 221h1v1h-1zM222 221h1v1h-1zM232 221h1v1h-1zM242 221h1v1h-1zM252 221h1v1h-1zM262 221h1v1h-1zM272 221h1v1h-1zM282 221h1v1h-1zM292 221h1v1h-1zM302 221h1v1h-1zM312 221h1v1h-1zM322 221h1v1h-1zM332 221h1v1h-1zM342 221h1v1h-1zM352 221h1v1h-1zM362 221h1v1h-1zM372 221h1v1h-1zM382 221h1v1h-1zM392 221h1v1h-1zM402 221h1v1h-1zM412 221h1v1h-1zM422 221h1v1h-1zM432 221h1v1h-1zM442 221h1v1h-1zM452 221h1v1h-1zM462 221h1v1h-1zM472 221h1v1h-1zM482 221h1v1h-1zM492 221h1v1h-1zM502 221h1v1h-1zM512 221h1v1h-1zM21 222h1v1h-1zM272 222h1v1h-1zM522 222h1v1h-1zM32 223h1v1h-1zM42 223h1v1h-1zM52 223h1v1h-1zM62 223h1v1h-1zM72 223h1v1h-1zM82 223h1v1h-1zM92 223h1v1h-1zM102 223h1v1h-1zM112 223h1v1h-1zM122 223h1v1h-1zM132 223h1v1h-1zM142 223h1v1h-1zM152 223h1v1h-1zM162 223h1v1h-1zM172 223h1v1h-1zM182 223h1v1h-1zM192 223h1v1h-1zM202 223h1v1h-1zM212 223h1v1h-1zM222 223h1v1h-1zM232 223h1v1h-1zM242 223h1v1h-1zM252 223h1v1h-1zM262 223h1v1h-1zM272 223h1v1h-1zM282 223h1v1h-1zM292 223h1v1h-1zM302 223h1v1h-1zM312 223h1v1h-1zM322 223h1v1h-1zM332 223h1v1h-1zM342 223h1v1h-1zM352 223h1v1h-1zM362 223h1v1h-1zM372 223h1v1h-1zM382 223h1v1h-1zM392 223h1v1h-1zM402 223h1v1h-1zM412 223h1v1h-1zM422 223h1v1h-1zM432 223h1v1h-1zM442 223h1v1h-1zM452 223h1v1h-1zM462 223h1v1h-1zM472 223h1v1h-1zM482 223h1v1h-1zM492 223h1v1h-1zM502 223h1v1h-1zM512 223h1v1h-1zM21 224h1v1h-1zM272 224h1v1h-1zM522 224h1v1h-1zM21 226h1v1h-1zM272 226h1v1h-1zM522 226h1v1h-1zM21 228h1v1h-1zM272 228h1v1h-1zM522 228h1v1h-1zM21 230h2v1h-2zM24 230h1v1h-1zM72 230h1v1h-1zM122 230h1v1h-1zM172 230h1v1h-1zM222 230h1v1h-1zM269 230h1v1h-1zM271 230h3v1h-3zM275 230h1v1h-1zM322 230h1v1h-1zM372 230h1v1h-1zM422 230h1v1h-1zM472 230h1v1h-1zM519 230h1v1h-1zM521 230h2v1h-2zM21 232h1v1h-1zM272 232h1v1h-1zM522 232h1v1h-1zM21 234h1v1h-1zM272 234h1v1h-1zM522 234h1v1h-1zM21 236h1v1h-1zM272 236h1v1h-1zM522 236h1v1h-1zM21 238h1v1h-1zM272 238h1v1h-1zM522 238h1v1h-1zM21 240h2v1h-2zM24 240h1v1h-1zM72 240h1v1h-1zM122 240h1v1h-1zM172 240h1v1h-1zM222 240h1v1h-1zM269 240h1v1h-1zM271 240h3v1h-3zM275 240h1v1h-1zM322 240h1v1h-1zM372 240h1v1h-1zM422 240h1v1h-1zM472 240h1v1h-1zM519 240h1v1h-1zM521 240h2v1h-2zM21 242h1v1h-1zM272 242h1v1h-1zM522 242h1v1h-1zM21 244h1v1h-1zM272 244h1v1h-1zM522 244h1v1h-1zM21 246h1v1h-1zM272 246h1v1h-1zM522 246h1v1h-1zM21 248h1v1h-1zM272 248h1v1h-1zM522 248h1v1h-1zM21 250h2v1h-2zM24 250h1v1h-1zM72 250h1v1h-1zM122 250h1v1h-1zM172 250h1v1h-1zM222 250h1v1h-1zM269 250h1v1h-1zM271 250h3v1h-3zM275 250h1v1h-1zM322 250h1v1h-1zM372 250h1v1h-1zM422 250h1v1h-1zM472 250h1v1h-1zM519 250h1v1h-1zM521 250h2v1h-2zM21 252h1v1h-1zM272 252h1v1h-1zM522 252h1v1h-1zM21 254h1v1h-1zM272 254h1v1h-1zM522 254h1v1h-1zM21 256h1v1h-1zM272 256h1v1h-1zM522 256h1v1h-1zM21 258h1v1h-1zM272 258h1v1h-1zM522 258h1v1h-1zM21 260h2v1h-2zM24 260h1v1h-1zM72 260h1v1h-1zM122 260h1v1h-1zM172 260h1v1h-1zM222 260h1v1h-1zM269 260h1v1h-1zM271 260h3v1h-3zM275 260h1v1h-1zM322 260h1v1h-1zM372 260h1v1h-1zM422 260h1v1h-1zM472 260h1v1h-1zM519 260h1v1h-1zM521 260h2v1h-2zM21 262h1v1h-1zM272 262h1v1h-1zM522 262h1v1h-1zM21 264h1v1h-1zM272 264h1v1h-1zM522 264h1v1h-1zM21 266h1v1h-1zM272 266h1v1h-1zM522 266h1v1h-1zM21 268h1v1h-1zM272 268h1v1h-1zM522 268h1v1h-1zM21 270h1v1h-1zM23 270h1v1h-1zM25 270h1v1h-1zM27 270h1v1h-1zM32 270h1v1h-1zM42 270h1v1h-1zM52 270h1v1h-1zM62 270h1v1h-1zM72 270h1v1h-1zM82 270h1v1h-1zM92 270h1v1h-1zM102 270h1v1h-1zM112 270h1v1h-1zM122 270h1v1h-1zM132 270h1v1h-1zM142 270h1v1h-1zM152 270h1v1h-1zM162 270h1v1h-1zM172 270h1v1h-1zM182 270h1v1h-1zM192 270h1v1h-1zM202 270h1v1h-1zM212 270h1v1h-1zM222 270h1v1h-1zM232 270h1v1h-1zM242 270h1v1h-1zM252 270h1v1h-1zM262 270h1v1h-1zM269 270h1v1h-1zM271 270h3v1h-3zM275 270h1v1h-1zM282 270h1v1h-1zM292 270h1v1h-1zM302 270h1v1h-1zM312 270h1v1h-1zM322 270h1v1h-1zM332 270h1v1h-1zM342 270h1v1h-1zM352 270h1v1h-1zM362 270h1v1h-1zM372 270h1v1h-1zM382 270h1v1h-1zM392 270h1v1h-1zM402 270h1v1h-1zM412 270h1v1h-1zM422 270h1v1h-1zM432 270h1v1h-1zM442 270h1v1h-1zM452 270h1v1h-1zM462 270h1v1h-1zM472 270h1v1h-1zM482 270h1v1h-1zM492 270h1v1h-1zM502 270h1v1h-1zM512 270h1v1h-1zM516 270h1v1h-1zM518 270h1v1h-1zM520 270h1v1h-1zM522 270h1v1h-1zM21 272h1v1h-1zM272 272h1v1h-1zM522 272h1v1h-1zM21 274h1v1h-1zM272 274h1v1h-1zM522 274h1v1h-1zM21 276h1v1h-1zM272 276h1v1h-1zM522 276h1v1h-1zM21 278h1v1h-1zM272 278h1v1h-1zM522 278h1v1h-1zM21 280h2v1h-2zM24 280h1v1h-1zM72 280h1v1h-1zM122 280h1v1h-1zM172 280h1v1h-1zM222 280h1v1h-1zM269 280h1v1h-1zM271 280h3v1h-3zM275 280h1v1h-1zM322 280h1v1h-1zM372 280h1v1h-1zM422 280h1v1h-1zM472 280h1v1h-1zM519 280h1v1h-1zM521 280h2v1h-2zM21 282h1v1h-1zM272 282h1v1h-1zM522 282h1v1h-1zM21 284h1v1h-1zM272 284h1v1h-1zM522 284h1v1h-1zM21 286h1v1h-1zM272 286h1v1h-1zM522 286h1v1h-1zM21 288h1v1h-1zM272 288h1v1h-1zM522 288h1v1h-1zM21 290h2v1h-2zM24 290h1v1h-1zM72 290h1v1h-1zM122 290h1v1h-1zM172 290h1v1h-1zM222 290h1v1h-1zM269 290h1v1h-1zM271 290h3v1h-3zM275 290h1v1h-1zM322 290h1v1h-1zM372 290h1v1h-1zM422 290h1v1h-1zM472 290h1v1h-1zM519 290h1v1h-1zM521 290h2v1h-2zM21 292h1v1h-1zM272 292h1v1h-1zM522 292h1v1h-1zM21 294h1v1h-1zM272 294h1v1h-1zM522 294h1v1h-1zM21 296h1v1h-1zM272 296h1v1h-1zM522 296h1v1h-1zM21 298h1v1h-1zM272 298h1v1h-1zM522 298h1v1h-1zM21 300h2v1h-2zM24 300h1v1h-1zM72 300h1v1h-1zM122 300h1v1h-1zM172 300h1v1h-1zM222 300h1v1h-1zM269 300h1v1h-1zM271 300h3v1h-3zM275 300h1v1h-1zM322 300h1v1h-1zM372 300h1v1h-1zM422 300h1v1h-1zM472 300h1v1h-1zM519 300h1v1h-1zM521 300h2v1h-2zM21 302h1v1h-1zM272 302h1v1h-1zM522 302h1v1h-1zM21 304h1v1h-1zM272 304h1v1h-1zM522 304h1v1h-1zM21 306h1v1h-1zM272 306h1v1h-1zM522 306h1v1h-1zM21 308h1v1h-1zM272 308h1v1h-1zM522 308h1v1h-1zM21 310h2v1h-2zM24 310h1v1h-1zM72 310h1v1h-1zM122 310h1v1h-1zM172 310h1v1h-1zM222 310h1v1h-1zM269 310h1v1h-1zM271 310h3v1h-3zM275 310h1v1h-1zM322 310h1v1h-1zM372 310h1v1h-1zM422 310h1v1h-1zM472 310h1v1h-1zM519 310h1v1h-1zM521 310h2v1h-2zM21 312h1v1h-1zM272 312h1v1h-1zM522 312h1v1h-1zM21 314h1v1h-1zM272 314h1v1h-1zM522 314h1v1h-1zM21 316h1v1h-1zM272 316h1v1h-1zM522 316h1v1h-1zM21 318h1v1h-1zM272 318h1v1h-1zM522 318h1v1h-1zM21 320h1v1h-1zM23 320h1v1h-1zM25 320h1v1h-1zM27 320h1v1h-1zM32 320h1v1h-1zM42 320h1v1h-1zM52 320h1v1h-1zM62 320h1v1h-1zM72 320h1v1h-1zM82 320h1v1h-1zM92 320h1v1h-1zM102 320h1v1h-1zM112 320h1v1h-1zM122 320h1v1h-1zM132 320h1v1h-1zM142 320h1v1h-1zM152 320h1v1h-1zM162 320h1v1h-1zM172 320h1v1h-1zM182 320h1v1h-1zM192 320h1v1h-1zM202 320h1v1h-1zM212 320h1v1h-1zM222 320h1v1h-1zM232 320h1v1h-1zM242 320h1v1h-1zM252 320h1v1h-1zM262 320h1v1h-1zM269 320h1v1h-1zM271 320h3v1h-3zM275 320h1v1h-1zM282 320h1v1h-1zM292 320h1v1h-1zM302 320h1v1h-1zM312 320h1v1h-1zM322 320h1v1h-1zM332 320h1v1h-1zM342 320h1v1h-1zM352 320h1v1h-1zM362 320h1v1h-1zM372 320h1v1h-1zM382 320h1v1h-1zM392 320h1v1h-1zM402 320h1v1h-1zM412 320h1v1h-1zM422 320h1v1h-1zM432 320h1v1h-1zM442 320h1v1h-1zM452 320h1v1h-1zM462 320h1v1h-1zM472 320h1v1h-1zM482 320h1v1h-1zM492 320h1v1h-1zM502 320h1v1h-1zM512 320h1v1h-1zM516 320h1v1h-1zM518 320h1v1h-1zM520 320h1v1h-1zM522 320h1v1h-1zM21 322h1v1h-1zM272 322h1v1h-1zM522 322h1v1h-1zM21 324h1v1h-1zM272 324h1v1h-1zM522 324h1v1h-1zM21 326h1v1h-1zM272 326h1v1h-1zM522 326h1v1h-1zM21 328h1v1h-1zM272 328h1v1h-1zM522 328h1v1h-1zM21 330h2v1h-2zM24 330h1v1h-1zM72 330h1v1h-1zM122 330h1v1h-1zM172 330h1v1h-1zM222 330h1v1h-1zM269 330h1v1h-1zM271 330h3v1h-3zM275 330h1v1h-1zM322 330h1v1h-1zM372 330h1v1h-1zM422 330h1v1h-1zM472 330h1v1h-1zM519 330h1v1h-1zM521 330h2v1h-2zM21 332h1v1h-1zM272 332h1v1h-1zM522 332h1v1h-1zM21 334h1v1h-1zM272 334h1v1h-1zM522 334h1v1h-1zM21 336h1v1h-1zM272 336h1v1h-1zM522 336h1v1h-1zM21 338h1v1h-1zM272 338h1v1h-1zM522 338h1v1h-1zM21 340h2v1h-2zM24 340h1v1h-1zM72 340h1v1h-1zM122 340h1v1h-1zM172 340h1v1h-1zM222 340h1v1h-1zM269 340h1v1h-1zM271 340h3v1h-3zM275 340h1v1h-1zM322 340h1v1h-1zM372 340h1v1h-1zM422 340h1v1h-1zM472 340h1v1h-1zM519 340h1v1h-1zM521 340h2v1h-2zM21 342h1v1h-1zM272 342h1v1h-1zM522 342h1v1h-1zM21 344h1v1h-1zM272 344h1v1h-1zM522 344h1v1h-1zM21 346h1v1h-1zM272 346h1v1h-1zM522 346h1v1h-1zM21 348h1v1h-1zM272 348h1v1h-1zM522 348h1v1h-1zM21 350h2v1h-2zM24 350h1v1h-1zM72 350h1v1h-1zM122 350h1v1h-1zM172 350h1v1h-1zM222 350h1v1h-1zM269 350h1v1h-1zM271 350h3v1h-3zM275 350h1v1h-1zM322 350h1v1h-1zM372 350h1v1h-1zM422 350h1v1h-1zM472 350h1v1h-1zM519 350h1v1h-1zM521 350h2v1h-2zM21 352h1v1h-1zM272 352h1v1h-1zM522 352h1v1h-1zM21 354h1v1h-1zM272 354h1v1h-1zM522 354h1v1h-1zM21 356h1v1h-1zM272 356h1v1h-1zM522 356h1v1h-1zM21 358h1v1h-1zM272 358h1v1h-1zM522 358h1v1h-1zM21 360h2v1h-2zM24 360h1v1h-1zM72 360h1v1h-1zM122 360h1v1h-1zM172 360h1v1h-1zM222 360h1v1h-1zM269 360h1v1h-1zM271 360h3v1h-3zM275 360h1v1h-1zM322 360h1v1h-1zM372 360h1v1h-1zM422 360h1v1h-1zM472 360h1v1h-1zM519 360h1v1h-1zM521 360h2v1h-2zM21 362h1v1h-1zM272 362h1v1h-1zM522 362h1v1h-1zM21 364h1v1h-1zM272 364h1v1h-1zM522 364h1v1h-1zM21 366h1v1h-1zM272 366h1v1h-1zM522 366h1v1h-1zM21 368h1v1h-1zM272 368h1v1h-1zM522 368h1v1h-1zM21 370h1v1h-1zM23 370h1v1h-1zM25 370h1v1h-1zM27 370h1v1h-1zM32 370h1v1h-1zM42 370h1v1h-1zM52 370h1v1h-1zM62 370h1v1h-1zM72 370h1v1h-1zM82 370h1v1h-1zM92 370h1v1h-1zM102 370h1v1h-1zM112 370h1v1h-1zM122 370h1v1h-1zM132 370h1v1h-1zM142 370h1v1h-1zM152 370h1v1h-1zM162 370h1v1h-1zM172 370h1v1h-1zM182 370h1v1h-1zM192 370h1v1h-1zM202 370h1v1h-1zM212 370h1v1h-1zM222 370h1v1h-1zM232 370h1v1h-1zM242 370h1v1h-1zM252 370h1v1h-1zM262 370h1v1h-1zM269 370h1v1h-1zM271 370h3v1h-3zM275 370h1v1h-1zM282 370h1v1h-1zM292 370h1v1h-1zM302 370h1v1h-1zM312 370h1v1h-1zM322 370h1v1h-1zM332 370h1v1h-1zM342 370h1v1h-1zM352 370h1v1h-1zM362 370h1v1h-1zM372 370h1v1h-1zM382 370h1v1h-1zM392 370h1v1h-1zM402 370h1v1h-1zM412 370h1v1h-1zM422 370h1v1h-1zM432 370h1v1h-1zM442 370h1v1h-1zM452 370h1v1h-1zM462 370h1v1h-1zM472 370h1v1h-1zM482 370h1v1h-1zM492 370h1v1h-1zM502 370h1v1h-1zM512 370h1v1h-1zM516 370h1v1h-1zM518 370h1v1h-1zM520 370h1v1h-1zM522 370h1v1h-1zM21 372h1v1h-1zM272 372h1v1h-1zM522 372h1v1h-1zM21 374h1v1h-1zM272 374h1v1h-1zM522 374h1v1h-1zM21 376h1v1h-1zM272 376h1v1h-1zM522 376h1v1h-1zM21 378h1v1h-1zM272 378h1v1h-1zM522 378h1v1h-1zM21 380h2v1h-2zM24 380h1v1h-1zM72 380h1v1h-1zM122 380h1v1h-1zM172 380h1v1h-1zM222 380h1v1h-1zM269 380h1v1h-1zM271 380h3v1h-3zM275 380h1v1h-1zM322 380h1v1h-1zM372 380h1v1h-1zM422 380h1v1h-1zM472 380h1v1h-1zM519 380h1v1h-1zM521 380h2v1h-2zM21 382h1v1h-1zM272 382h1v1h-1zM522 382h1v1h-1zM21 384h1v1h-1zM272 384h1v1h-1zM522 384h1v1h-1zM21 386h1v1h-1zM272 386h1v1h-1zM522 386h1v1h-1zM21 388h1v1h-1zM272 388h1v1h-1zM522 388h1v1h-1zM21 390h2v1h-2zM24 390h1v1h-1zM72 390h1v1h-1zM122 390h1v1h-1zM172 390h1v1h-1zM222 390h1v1h-1zM269 390h1v1h-1zM271 390h3v1h-3zM275 390h1v1h-1zM322 390h1v1h-1zM372 390h1v1h-1zM422 390h1v1h-1zM472 390h1v1h-1zM519 390h1v1h-1zM521 390h2v1h-2zM21 392h1v1h-1zM272 392h1v1h-1zM522 392h1v1h-1zM21 394h1v1h-1zM272 394h1v1h-1zM522 394h1v1h-1zM21 396h1v1h-1zM272 396h1v1h-1zM522 396h1v1h-1zM21 398h1v1h-1zM272 398h1v1h-1zM522 398h1v1h-1zM21 400h2v1h-2zM24 400h1v1h-1zM72 400h1v1h-1zM122 400h1v1h-1zM172 400h1v1h-1zM222 400h1v1h-1zM269 400h1v1h-1zM271 400h3v1h-3zM275 400h1v1h-1zM322 400h1v1h-1zM372 400h1v1h-1zM422 400h1v1h-1zM472 400h1v1h-1zM519 400h1v1h-1zM521 400h2v1h-2zM21 402h1v1h-1zM272 402h1v1h-1zM522 402h1v1h-1zM21 404h1v1h-1zM272 404h1v1h-1zM522 404h1v1h-1zM21 406h1v1h-1zM272 406h1v1h-1zM522 406h1v1h-1zM21 408h1v1h-1zM272 408h1v1h-1zM522 408h1v1h-1zM21 410h2v1h-2zM24 410h1v1h-1zM72 410h1v1h-1zM122 410h1v1h-1zM172 410h1v1h-1zM222 410h1v1h-1zM269 410h1v1h-1zM271 410h3v1h-3zM275 410h1v1h-1zM322 410h1v1h-1zM372 410h1v1h-1zM422 410h1v1h-1zM472 410h1v1h-1zM519 410h1v1h-1zM521 410h2v1h-2zM21 412h1v1h-1zM272 412h1v1h-1zM522 412h1v1h-1zM21 414h1v1h-1zM272 414h1v1h-1zM522 414h1v1h-1zM72 415h1v1h-1zM122 415h1v1h-1zM172 415h1v1h-1zM222 415h1v1h-1zM322 415h1v1h-1zM372 415h1v1h-1zM422 415h1v1h-1zM472 415h1v1h-1zM21 416h1v1h-1zM272 416h1v1h-1zM522 416h1v1h-1zM72 417h1v1h-1zM122 417h1v1h-1zM172 417h1v1h-1zM222 417h1v1h-1zM322 417h1v1h-1zM372 417h1v1h-1zM422 417h1v1h-1zM472 417h1v1h-1zM21 418h1v1h-1zM32 418h1v1h-1zM42 418h1v1h-1zM52 418h1v1h-1zM62 418h1v1h-1zM82 418h1v1h-1zM92 418h1v1h-1zM102 418h1v1h-1zM112 418h1v1h-1zM132 418h1v1h-1zM142 418h1v1h-1zM152 418h1v1h-1zM162 418h1v1h-1zM182 418h1v1h-1zM192 418h1v1h-1zM202 418h1v1h-1zM212 418h1v1h-1zM232 418h1v1h-1zM242 418h1v1h-1zM252 418h1v1h-1zM262 418h1v1h-1zM272 418h1v1h-1zM282 418h1v1h-1zM292 418h1v1h-1zM302 418h1v1h-1zM312 418h1v1h-1zM332 418h1v1h-1zM342 418h1v1h-1zM352 418h1v1h-1zM362 418h1v1h-1zM382 418h1v1h-1zM392 418h1v1h-1zM402 418h1v1h-1zM412 418h1v1h-1zM432 418h1v1h-1zM442 418h1v1h-1zM452 418h1v1h-1zM462 418h1v1h-1zM482 418h1v1h-1zM492 418h1v1h-1zM502 418h1v1h-1zM512 418h1v1h-1zM522 418h1v1h-1zM72 419h1v1h-1zM122 419h1v1h-1zM172 419h1v1h-1zM222 419h1v1h-1zM322 419h1v1h-1zM372 419h1v1h-1zM422 419h1v1h-1zM472 419h1v1h-1zM21 420h1v1h-1zM32 420h1v1h-1zM42 420h1v1h-1zM52 420h1v1h-1zM62 420h1v1h-1zM82 420h1v1h-1zM92 420h1v1h-1zM102 420h1v1h-1zM112 420h1v1h-1zM132 420h1v1h-1zM142 420h1v1h-1zM152 420h1v1h-1zM162 420h1v1h-1zM182 420h1v1h-1zM192 420h1v1h-1zM202 420h1v1h-1zM212 420h1v1h-1zM232 420h1v1h-1zM242 420h1v1h-1zM252 420h1v1h-1zM262 420h1v1h-1zM272 420h1v1h-1zM282 420h1v1h-1zM292 420h1v1h-1zM302 420h1v1h-1zM312 420h1v1h-1zM332 420h1v1h-1zM342 420h1v1h-1zM352 420h1v1h-1zM362 420h1v1h-1zM382 420h1v1h-1zM392 420h1v1h-1zM402 420h1v1h-1zM412 420h1v1h-1zM432 420h1v1h-1zM442 420h1v1h-1zM452 420h1v1h-1zM462 420h1v1h-1zM482 420h1v1h-1zM492 420h1v1h-1zM502 420h1v1h-1zM512 420h1v1h-1zM522 420h1v1h-1zM21 421h2v1h-2zM24 421h1v1h-1zM26 421h1v1h-1zM28 421h1v1h-1zM30 421h1v1h-1zM32 421h1v1h-1zM34 421h1v1h-1zM36 421h1v1h-1zM38 421h1v1h-1zM40 421h1v1h-1zM42 421h1v1h-1zM44 421h1v1h-1zM46 421h1v1h-1zM48 421h1v1h-1zM50 421h1v1h-1zM52 421h1v1h-1zM54 421h1v1h-1zM56 421h1v1h-1zM58 421h1v1h-1zM60 421h1v1h-1zM62 421h1v1h-1zM64 421h1v1h-1zM66 421h1v1h-1zM68 421h1v1h-1zM70 421h1v1h-1zM72 421h1v1h-1zM74 421h1v1h-1zM76 421h1v1h-1zM78 421h1v1h-1zM80 421h1v1h-1zM82 421h1v1h-1zM84 421h1v1h-1zM86 421h1v1h-1zM88 421h1v1h-1zM90 421h1v1h-1zM92 421h1v1h-1zM94 421h1v1h-1zM96 421h1v1h-1zM98 421h1v1h-1zM100 421h1v1h-1zM102 421h1v1h-1zM104 421h1v1h-1zM106 421h1v1h-1zM108 421h1v1h-1zM110 421h1v1h-1zM112 421h1v1h-1zM114 421h1v1h-1zM116 421h1v1h-1zM118 421h1v1h-1zM120 421h1v1h-1zM122 421h1v1h-1zM124 421h1v1h-1zM126 421h1v1h-1zM128 421h1v1h-1zM130 421h1v1h-1zM132 421h1v1h-1zM134 421h1v1h-1zM136 421h1v1h-1zM138 421h1v1h-1zM140 421h1v1h-1zM142 421h1v1h-1zM144 421h1v1h-1zM146 421h1v1h-1zM148 421h1v1h-1zM150 421h1v1h-1zM152 421h1v1h-1zM154 421h1v1h-1zM156 421h1v1h-1zM158 421h1v1h-1zM160 421h1v1h-1zM162 421h1v1h-1zM164 421h1v1h-1zM166 421h1v1h-1zM168 421h1v1h-1zM170 421h1v1h-1zM172 421h1v1h-1zM174 421h1v1h-1zM176 421h1v1h-1zM178 421h1v1h-1zM180 421h1v1h-1zM182 421h1v1h-1zM184 421h1v1h-1zM186 421h1v1h-1zM188 421h1v1h-1zM190 421h1v1h-1zM192 421h1v1h-1zM194 421h1v1h-1zM196 421h1v1h-1zM198 421h1v1h-1zM200 421h1v1h-1zM202 421h1v1h-1zM204 421h1v1h-1zM206 421h1v1h-1zM208 421h1v1h-1zM210 421h1v1h-1zM212 421h1v1h-1zM214 421h1v1h-1zM216 421h1v1h-1zM218 421h1v1h-1zM220 421h1v1h-1zM222 421h1v1h-1zM224 421h1v1h-1zM226 421h1v1h-1zM228 421h1v1h-1zM230 421h1v1h-1zM232 421h1v1h-1zM234 421h1v1h-1zM236 421h1v1h-1zM238 421h1v1h-1zM240 421h1v1h-1zM242 421h1v1h-1zM244 421h1v1h-1zM246 421h1v1h-1zM248 421h1v1h-1zM250 421h1v1h-1zM252 421h1v1h-1zM254 421h1v1h-1zM256 421h1v1h-1zM258 421h1v1h-1zM260 421h1v1h-1zM262 421h1v1h-1zM264 421h1v1h-1zM266 421h1v1h-1zM268 421h1v1h-1zM270 421h1v1h-1zM272 421h1v1h-1zM274 421h1v1h-1zM276 421h1v1h-1zM278 421h1v1h-1zM280 421h1v1h-1zM282 421h1v1h-1zM284 421h1v1h-1zM286 421h1v1h-1zM288 421h1v1h-1zM290 421h1v1h-1zM292 421h1v1h-1zM294 421h1v1h-1zM296 421h1v1h-1zM298 421h1v1h-1zM300 421h1v1h-1zM302 421h1v1h-1zM304 421h1v1h-1zM306 421h1v1h-1zM308 421h1v1h-1zM310 421h1v1h-1zM312 421h1v1h-1zM314 421h1v1h-1zM316 421h1v1h-1zM318 421h1v1h-1zM320 421h1v1h-1zM322 421h1v1h-1zM324 421h1v1h-1zM326 421h1v1h-1zM328 421h1v1h-1zM330 421h1v1h-1zM332 421h1v1h-1zM334 421h1v1h-1zM336 421h1v1h-1zM338 421h1v1h-1zM340 421h1v1h-1zM342 421h1v1h-1zM344 421h1v1h-1zM346 421h1v1h-1zM348 421h1v1h-1zM350 421h1v1h-1zM352 421h1v1h-1zM354 421h1v1h-1zM356 421h1v1h-1zM358 421h1v1h-1zM360 421h1v1h-1zM362 421h1v1h-1zM364 421h1v1h-1zM366 421h1v1h-1zM368 421h1v1h-1zM370 421h1v1h-1zM372 421h1v1h-1zM374 421h1v1h-1zM376 421h1v1h-1zM378 421h1v1h-1zM380 421h1v1h-1zM382 421h1v1h-1zM384 421h1v1h-1zM386 421h1v1h-1zM388 421h1v1h-1zM390 421h1v1h-1zM392 421h1v1h-1zM394 421h1v1h-1zM396 421h1v1h-1zM398 421h1v1h-1zM400 421h1v1h-1zM402 421h1v1h-1zM404 421h1v1h-1zM406 421h1v1h-1zM408 421h1v1h-1zM410 421h1v1h-1zM412 421h1v1h-1zM414 421h1v1h-1zM416 421h1v1h-1zM418 421h1v1h-1zM420 421h1v1h-1zM422 421h1v1h-1zM424 421h1v1h-1zM426 421h1v1h-1zM428 421h1v1h-1zM430 421h1v1h-1zM432 421h1v1h-1zM434 421h1v1h-1zM436 421h1v1h-1zM438 421h1v1h-1zM440 421h1v1h-1zM442 421h1v1h-1zM444 421h1v1h-1zM446 421h1v1h-1zM448 421h1v1h-1zM450 421h1v1h-1zM452 421h1v1h-1zM454 421h1v1h-1zM456 421h1v1h-1zM458 421h1v1h-1zM460 421h1v1h-1zM462 421h1v1h-1zM464 421h1v1h-1zM466 421h1v1h-1zM468 421h1v1h-1zM470 421h1v1h-1zM472 421h1v1h-1zM474 421h1v1h-1zM476 421h1v1h-1zM478 421h1v1h-1zM480 421h1v1h-1zM482 421h1v1h-1zM484 421h1v1h-1zM486 421h1v1h-1zM488 421h1v1h-1zM490 421h1v1h-1zM492 421h1v1h-1zM494 421h1v1h-1zM496 421h1v1h-1zM498 421h1v1h-1zM500 421h1v1h-1zM502 421h1v1h-1zM504 421h1v1h-1zM506 421h1v1h-1zM508 421h1v1h-1zM510 421h1v1h-1zM512 421h1v1h-1zM514 421h1v1h-1zM516 421h1v1h-1zM518 421h1v1h-1zM520 421h1v1h-1zM522 421h1v1h-1z"/>
<!-- cursors -->
<path fill="#000099" d="M103 22h1v4h-1zM103 30h1v4h-1zM103 38h1v4h-1zM103 46h1v4h-1zM103 54h1v4h-1zM103 62h1v4h-1zM103 70h1v4h-1zM103 78h1v4h-1zM103 86h1v4h-1zM103 94h1v4h-1zM103 102h1v4h-1zM103 110h1v4h-1zM103 118h1v4h-1zM103 126h1v4h-1zM103 134h1v4h-1zM103 142h1v4h-1zM103 150h1v4h-1zM103 158h1v4h-1zM103 166h1v4h-1zM103 174h1v4h-1zM103 182h1v4h-1zM103 190h1v4h-1zM103 198h1v4h-1zM103 206h1v4h-1zM103 214h1v4h-1zM103 222h1v4h-1zM103 230h1v4h-1zM103 238h1v4h-1zM103 246h1v4h-1zM103 254h1v4h-1zM103 262h1v4h-1zM103 270h1v4h-1zM103 278h1v4h-1zM103 286h1v4h-1zM103 294h1v4h-1zM103 302h1v4h-1zM103 310h1v4h-1zM103 318h1v4h-1zM103 326h1v4h-1zM103 334h1v4h-1zM103 342h1v4h-1zM103 350h1v4h-1zM103 358h1v4h-1zM103 366h1v4h-1zM103 374h1v4h-1zM103 382h1v4h-1zM103 390h1v4h-1zM103 398h1v4h-1zM103 406h1v4h-1zM103 414h1v4h-1zM191 20h1v402h-1zM96 268h7v1h-7zM104 268h8v1h-8zM184 264h16v1h-16z"/>
<!-- header separator -->
<rect x="92" y="1" width="1" height="16" fill="#777777"/>
<rect x="93" y="16" width="359" height="1" fill="#bbbbbb"/>
<rect x="451" y="1" width="1" height="16" fill="#bbbbbb"/>
<!-- record view bar -->
<path fill="#000" d="M164 1h3v1h-2v13h2v1h-3z M377 1h3v15h-3v-1h2v-13h-2z"/>
<rect x="165" y="8" width="214" height="1" fill="#000099"/>
<rect x="238" y="1" width="1" height="15" fill="#000099"/>
<path fill="#000099" d="M200 3h1v4h-1z M200 10h1v5h-1z"/>
<path fill="#ff7800" d="M183 1h7v1h-1v1h-1v1h-1v1h-1v-1h-1v-1h-1v-1h-1z"/>
<path fill="#ff7800" d="M183 5h6v1h1v9h-1v1h-6v-1h-1v-9h1z"/>
<path fill="#fff" d="M183 6h6v2h-2v7h-2v-7h-2z"/>
<!-- trigger position marker (top) -->
<path fill="#ff7800" d="M67 20h11l-5.5 5.5z"/>
<path fill="#ff7800" d="M67 27h10v1h1v11h-1v1h-1v1h-2v1h-4v-1h-2v-1h-1v-1h-1v-11h1z"/>
<path fill="#fff" d="M67 28h10v2h-4v9h-2v-9h-4z"/>
<!-- ground marker -->
<path fill="#000099" d="M12 263h1v1h-1zM1 264h11v1h-11zM13 264h1v1h-1zM1 265h12v1h-12zM14 265h1v1h-1zM1 266h13v1h-13zM15 266h1v1h-1zM1 267h14v1h-14zM16 267h1v1h-1zM1 268h15v1h-15zM17 268h1v1h-1zM1 269h16v1h-16zM18 269h1v1h-1zM1 270h17v1h-17zM19 270h1v1h-1zM1 271h18v1h-18zM20 271h1v1h-1zM1 272h17v1h-17zM19 272h1v1h-1zM1 273h16v1h-16zM18 273h1v1h-1zM1 274h15v1h-15zM17 274h1v1h-1zM1 275h14v1h-14zM16 275h1v1h-1zM1 276h13v1h-13zM15 276h1v1h-1zM1 277h12v1h-12zM14 277h1v1h-1zM1 278h11v1h-11zM13 278h1v1h-1zM1 279h1v1h-1zM3 279h1v1h-1zM5 279h1v1h-1zM7 279h1v1h-1zM9 279h1v1h-1zM11 279h2v1h-2z"/>
<path fill="#949478" d="M0 263h12v1h-12zM0 264h1v1h-1zM12 264h1v1h-1zM0 265h1v1h-1zM13 265h1v1h-1zM0 266h1v1h-1zM14 266h1v1h-1zM0 267h1v1h-1zM15 267h1v1h-1zM0 268h1v1h-1zM16 268h1v1h-1zM0 269h1v1h-1zM17 269h1v1h-1zM0 270h1v1h-1zM18 270h1v1h-1zM0 271h1v1h-1zM19 271h1v1h-1zM0 272h1v1h-1zM0 273h1v1h-1zM0 274h1v1h-1zM0 275h1v1h-1zM0 276h1v1h-1zM0 277h1v1h-1zM0 278h1v1h-1z"/>
<clipPath id="gmc"><path d="M2 264H12V276H10V278H8V276H2Z"/></clipPath>
<text x="3.5" y="278" fill="#fff" clip-path="url(#gmc)" style="font-family:'Liberation Sans',sans-serif;font-weight:bold;font-size:17px">1</text>
<!-- trigger level arrow -->
<rect x="511" y="222" width="11" height="12" fill="#fff"/>
<path fill="#000099" d="M517 222V233L511 227.5Z M516 227h6v1h-6z"/>
<!-- bottom boxes -->
<rect x="19" y="425" width="31" height="16" fill="#000099"/>
<rect x="51.5" y="424.5" width="98" height="17" fill="none" stroke="#8c8c8c"/>
<rect x="297.5" y="424.5" width="60" height="17" fill="none" stroke="#8c8c8c"/>
<path fill="none" stroke="#8c8c8c" d="M384.5 425v16.5h140v-16.5"/>
<path fill="#000" d="M439 427h5v2h-5z M443 429h2v2h-2z M444 431h2v3h-2z M445 434h2v2h-2z M446 436h5v2h-5z"/>
<path fill="#ff7800" d="M287 464h10v1h1v11h-1v1h-10v-1h-1v-11h1z"/>
<path fill="#fff" d="M287 465h10v2h-4v9h-2v-9h-4z"/>
<rect x="302.5" y="462.5" width="73" height="17" fill="none" stroke="#8c8c8c"/>
</svg>
<div style="position:absolute;left:0;top:0;width:32px;height:16px"><span style="position:absolute;line-height:1;font-family:'Liberation Serif',serif;font-weight:bold;font-size:20.5px;transform-origin:0 0;-webkit-text-stroke:0.5px #000;left:0px;top:-2px;transform:scaleX(0.786)">T</span><span style="position:absolute;line-height:1;font-family:'Liberation Serif',serif;font-weight:bold;font-size:20.5px;transform-origin:0 0;-webkit-text-stroke:0.5px #000;left:8px;top:-2px;transform:scaleX(1.125)">e</span><span style="position:absolute;line-height:1;font-family:'Liberation Serif',serif;font-weight:bold;font-size:20.5px;transform-origin:0 0;-webkit-text-stroke:0.5px #000;left:19px;top:-1px;font-size:19.5px;transform:scaleX(1.05)">k</span></div>
<div class="t" style="left:34px;top:-1px;font-family:'Liberation Sans',sans-serif;font-size:15.5px;font-weight:normal;letter-spacing:2.46px;color:#000;transform:scaleX(0.95);-webkit-text-stroke:0.45px #000;">Stop</div>
<div><span class="t" style="left:531px;top:21px;font-family:'Liberation Sans',sans-serif;font-size:16px;font-weight:normal;letter-spacing:0.0px;color:#000099;transform:scaleX(1.35);-webkit-text-stroke:0.45px #000099;">Δ</span><span class="t" style="left:545px;top:20px;font-family:'Liberation Sans',sans-serif;font-size:16px;font-weight:bold;letter-spacing:1.0px;color:#000099;">:</span></div>
<div class="t" style="left:572px;top:21px;font-family:'Liberation Sans',sans-serif;font-size:16px;font-weight:normal;letter-spacing:1.58px;color:#000099;transform:scaleX(0.95);-webkit-text-stroke:0.55px #000099;">160mV</div>
<div><span class="t" style="left:531px;top:36px;font-family:'Liberation Sans',sans-serif;font-size:14.5px;font-weight:bold;letter-spacing:0.0px;color:#000099;-webkit-text-stroke:0.5px #000099;">@</span><span class="t" style="left:545px;top:36px;font-family:'Liberation Sans',sans-serif;font-size:16px;font-weight:bold;letter-spacing:1.0px;color:#000099;">:</span></div>
<div class="t" style="left:572px;top:37px;font-family:'Liberation Sans',sans-serif;font-size:16px;font-weight:normal;letter-spacing:1.58px;color:#000099;transform:scaleX(0.95);-webkit-text-stroke:0.55px #000099;">280mV</div>
<div><span class="t" style="left:531px;top:61px;font-family:'Liberation Sans',sans-serif;font-size:16px;font-weight:normal;letter-spacing:0.0px;color:#000099;transform:scaleX(1.35);-webkit-text-stroke:0.45px #000099;">Δ</span><span class="t" style="left:545px;top:60px;font-family:'Liberation Sans',sans-serif;font-size:16px;font-weight:bold;letter-spacing:1.0px;color:#000099;">:</span></div>
<div class="t" style="left:575px;top:61px;font-family:'Liberation Sans',sans-serif;font-size:16px;font-weight:normal;letter-spacing:1.58px;color:#000099;transform:scaleX(0.95);-webkit-text-stroke:0.55px #000099;">704ns</div>
<div><span class="t" style="left:531px;top:76px;font-family:'Liberation Sans',sans-serif;font-size:14.5px;font-weight:bold;letter-spacing:0.0px;color:#000099;-webkit-text-stroke:0.5px #000099;">@</span><span class="t" style="left:545px;top:76px;font-family:'Liberation Sans',sans-serif;font-size:16px;font-weight:bold;letter-spacing:1.0px;color:#000099;">:</span></div>
<div class="t" style="left:575px;top:77px;font-family:'Liberation Sans',sans-serif;font-size:16px;font-weight:normal;letter-spacing:1.58px;color:#000099;transform:scaleX(0.95);-webkit-text-stroke:0.55px #000099;">952ns</div>
<div class="t" style="left:19px;top:426px;font-family:'Liberation Sans',sans-serif;font-size:16px;font-weight:normal;letter-spacing:0.0px;color:#fff;-webkit-text-stroke:0.5px #fff;">Ch1</div>
<div class="t" style="left:70px;top:426px;font-family:'Liberation Sans',sans-serif;font-size:16px;font-weight:normal;letter-spacing:2.05px;color:#000099;transform:scaleX(0.88);-webkit-text-stroke:0.6px #000099;">2.00 V</div>
<div class="t" style="left:283px;top:426px;font-family:'Liberation Sans',sans-serif;font-size:16px;font-weight:normal;letter-spacing:1.0px;color:#000;-webkit-text-stroke:0.35px #000;">M</div>
<div class="t" style="left:304px;top:426px;font-family:'Liberation Sans',sans-serif;font-size:16px;font-weight:normal;letter-spacing:2.84px;color:#000;transform:scaleX(0.88);-webkit-text-stroke:0.55px #000;">400ns</div>
<div class="t" style="left:373px;top:426px;font-family:'Liberation Sans',sans-serif;font-size:16px;font-weight:normal;letter-spacing:0.0px;color:#000;-webkit-text-stroke:0.35px #000;">A</div>
<div class="t" style="left:397px;top:426px;font-family:'Liberation Sans',sans-serif;font-size:16px;font-weight:normal;letter-spacing:0.0px;color:#000099;-webkit-text-stroke:0.55px #000099;">Ch1</div>
<div class="t" style="left:474px;top:426px;font-family:'Liberation Sans',sans-serif;font-size:16px;font-weight:normal;letter-spacing:2.05px;color:#000;transform:scaleX(0.88);-webkit-text-stroke:0.55px #000;">1.76 V</div>
<div class="t" style="left:304px;top:464px;font-family:'Liberation Sans',sans-serif;font-size:16px;font-weight:normal;letter-spacing:1.89px;color:#000;transform:scaleX(0.88);-webkit-text-stroke:0.55px #000;">10.00 %</div>
<div class="t" style="left:538px;top:448px;font-family:'Liberation Sans',sans-serif;font-size:16px;font-weight:normal;letter-spacing:2.27px;color:#000;transform:scaleX(0.88);-webkit-text-stroke:0.55px #000;">22 Mar</div>
<div class="t" style="left:601px;top:448px;font-family:'Liberation Sans',sans-serif;font-size:16px;font-weight:normal;letter-spacing:2.65px;color:#000;transform:scaleX(0.88);-webkit-text-stroke:0.55px #000;">2018</div>
<div class="t" style="left:538px;top:464px;font-family:'Liberation Sans',sans-serif;font-size:16px;font-weight:normal;letter-spacing:2.44px;color:#000;transform:scaleX(0.88);-webkit-text-stroke:0.55px #000;">15:17:27</div>
</body></html>
